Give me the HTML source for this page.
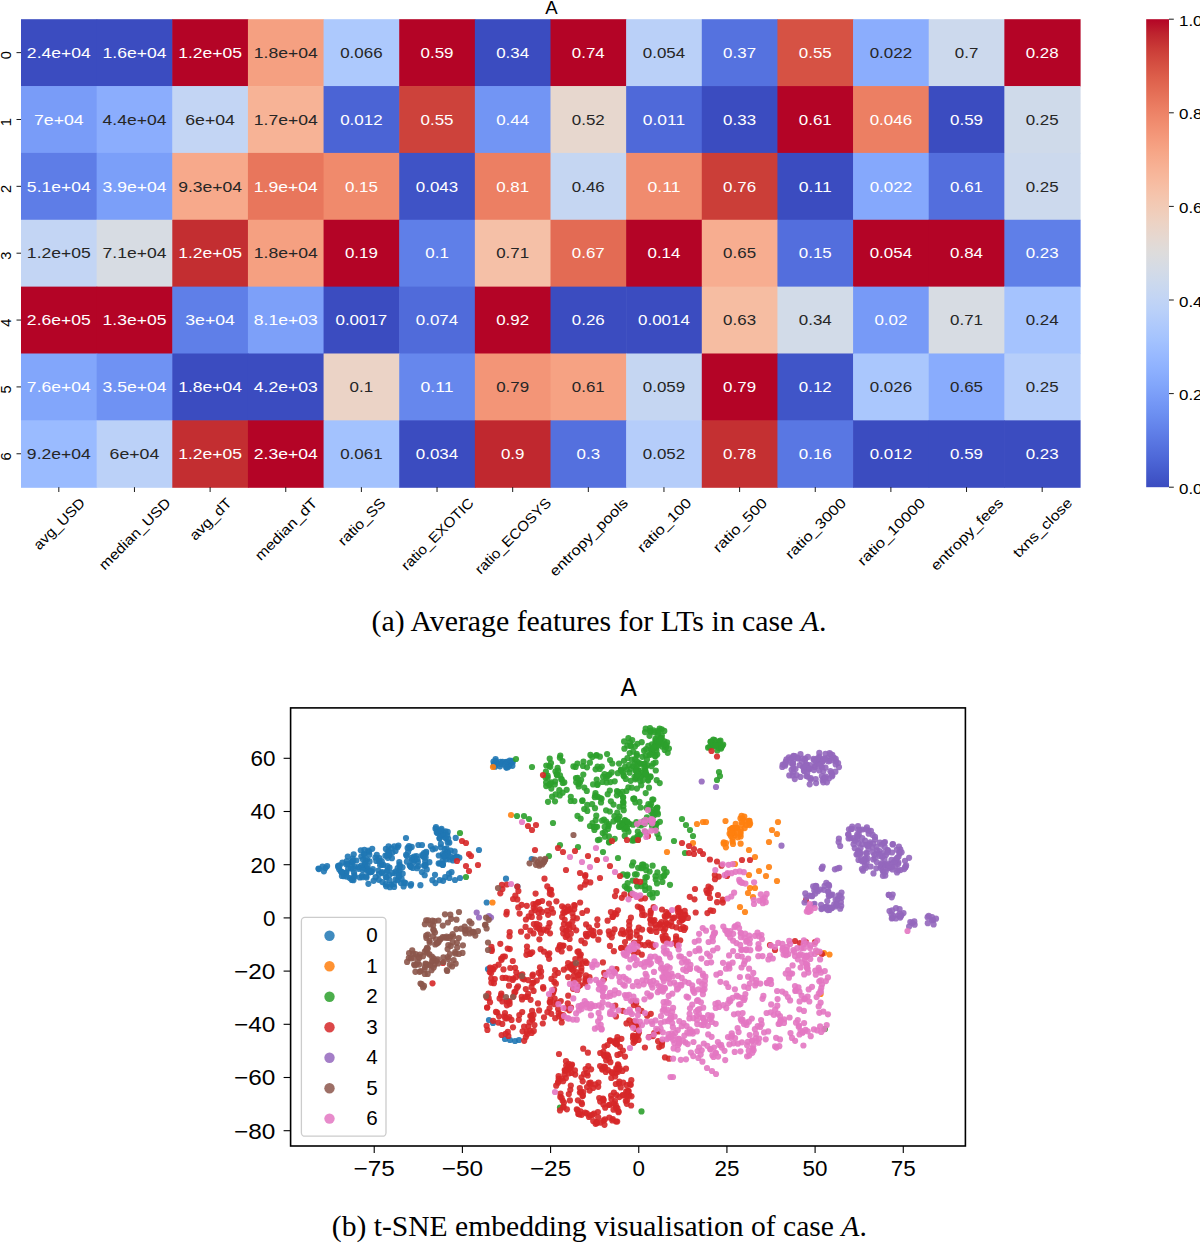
<!DOCTYPE html><html><head><meta charset="utf-8"><style>html,body{margin:0;padding:0;background:#fff;overflow:hidden}svg{display:block}text{font-family:"Liberation Sans",sans-serif}</style></head><body>
<svg width="1200" height="1243" viewBox="0 0 1200 1243">
<rect x="21.00" y="19.20" width="76.24" height="67.46" fill="#3b4cc0"/>
<rect x="96.64" y="19.20" width="76.24" height="67.46" fill="#3b4cc0"/>
<rect x="172.29" y="19.20" width="76.24" height="67.46" fill="#b40426"/>
<rect x="247.93" y="19.20" width="76.24" height="67.46" fill="#f5a081"/>
<rect x="323.57" y="19.20" width="76.24" height="67.46" fill="#adc9fd"/>
<rect x="399.21" y="19.20" width="76.24" height="67.46" fill="#b40426"/>
<rect x="474.86" y="19.20" width="76.24" height="67.46" fill="#3b4cc0"/>
<rect x="550.50" y="19.20" width="76.24" height="67.46" fill="#b40426"/>
<rect x="626.14" y="19.20" width="76.24" height="67.46" fill="#bad0f8"/>
<rect x="701.79" y="19.20" width="76.24" height="67.46" fill="#5572df"/>
<rect x="777.43" y="19.20" width="76.24" height="67.46" fill="#d65244"/>
<rect x="853.07" y="19.20" width="76.24" height="67.46" fill="#8badfd"/>
<rect x="928.71" y="19.20" width="76.24" height="67.46" fill="#ccd9ed"/>
<rect x="1004.36" y="19.20" width="76.24" height="67.46" fill="#b40426"/>
<rect x="21.00" y="86.06" width="76.24" height="67.46" fill="#799cf8"/>
<rect x="96.64" y="86.06" width="76.24" height="67.46" fill="#8badfd"/>
<rect x="172.29" y="86.06" width="76.24" height="67.46" fill="#c3d5f4"/>
<rect x="247.93" y="86.06" width="76.24" height="67.46" fill="#f7b396"/>
<rect x="323.57" y="86.06" width="76.24" height="67.46" fill="#4b64d5"/>
<rect x="399.21" y="86.06" width="76.24" height="67.46" fill="#cd423b"/>
<rect x="474.86" y="86.06" width="76.24" height="67.46" fill="#7295f4"/>
<rect x="550.50" y="86.06" width="76.24" height="67.46" fill="#e7d7ce"/>
<rect x="626.14" y="86.06" width="76.24" height="67.46" fill="#4f69d9"/>
<rect x="701.79" y="86.06" width="76.24" height="67.46" fill="#3b4cc0"/>
<rect x="777.43" y="86.06" width="76.24" height="67.46" fill="#b40426"/>
<rect x="853.07" y="86.06" width="76.24" height="67.46" fill="#ec7f63"/>
<rect x="928.71" y="86.06" width="76.24" height="67.46" fill="#3b4cc0"/>
<rect x="1004.36" y="86.06" width="76.24" height="67.46" fill="#cfdaea"/>
<rect x="21.00" y="152.91" width="76.24" height="67.46" fill="#5e7de7"/>
<rect x="96.64" y="152.91" width="76.24" height="67.46" fill="#7b9ff9"/>
<rect x="172.29" y="152.91" width="76.24" height="67.46" fill="#f7a98b"/>
<rect x="247.93" y="152.91" width="76.24" height="67.46" fill="#e8765c"/>
<rect x="323.57" y="152.91" width="76.24" height="67.46" fill="#f08a6c"/>
<rect x="399.21" y="152.91" width="76.24" height="67.46" fill="#3f53c6"/>
<rect x="474.86" y="152.91" width="76.24" height="67.46" fill="#ec7f63"/>
<rect x="550.50" y="152.91" width="76.24" height="67.46" fill="#c5d6f2"/>
<rect x="626.14" y="152.91" width="76.24" height="67.46" fill="#f08b6e"/>
<rect x="701.79" y="152.91" width="76.24" height="67.46" fill="#cb3e38"/>
<rect x="777.43" y="152.91" width="76.24" height="67.46" fill="#3b4cc0"/>
<rect x="853.07" y="152.91" width="76.24" height="67.46" fill="#85a8fc"/>
<rect x="928.71" y="152.91" width="76.24" height="67.46" fill="#536edd"/>
<rect x="1004.36" y="152.91" width="76.24" height="67.46" fill="#ccd9ed"/>
<rect x="21.00" y="219.77" width="76.24" height="67.46" fill="#c3d5f4"/>
<rect x="96.64" y="219.77" width="76.24" height="67.46" fill="#d7dce3"/>
<rect x="172.29" y="219.77" width="76.24" height="67.46" fill="#c32e31"/>
<rect x="247.93" y="219.77" width="76.24" height="67.46" fill="#f5a081"/>
<rect x="323.57" y="219.77" width="76.24" height="67.46" fill="#b40426"/>
<rect x="399.21" y="219.77" width="76.24" height="67.46" fill="#5f7fe8"/>
<rect x="474.86" y="219.77" width="76.24" height="67.46" fill="#f5c0a7"/>
<rect x="550.50" y="219.77" width="76.24" height="67.46" fill="#e36b54"/>
<rect x="626.14" y="219.77" width="76.24" height="67.46" fill="#b40426"/>
<rect x="701.79" y="219.77" width="76.24" height="67.46" fill="#f7ad90"/>
<rect x="777.43" y="219.77" width="76.24" height="67.46" fill="#536edd"/>
<rect x="853.07" y="219.77" width="76.24" height="67.46" fill="#b40426"/>
<rect x="928.71" y="219.77" width="76.24" height="67.46" fill="#b40426"/>
<rect x="1004.36" y="219.77" width="76.24" height="67.46" fill="#5f7fe8"/>
<rect x="21.00" y="286.63" width="76.24" height="67.46" fill="#b40426"/>
<rect x="96.64" y="286.63" width="76.24" height="67.46" fill="#b40426"/>
<rect x="172.29" y="286.63" width="76.24" height="67.46" fill="#5f7fe8"/>
<rect x="247.93" y="286.63" width="76.24" height="67.46" fill="#7da0f9"/>
<rect x="323.57" y="286.63" width="76.24" height="67.46" fill="#3b4cc0"/>
<rect x="399.21" y="286.63" width="76.24" height="67.46" fill="#506bda"/>
<rect x="474.86" y="286.63" width="76.24" height="67.46" fill="#b40426"/>
<rect x="550.50" y="286.63" width="76.24" height="67.46" fill="#3b4cc0"/>
<rect x="626.14" y="286.63" width="76.24" height="67.46" fill="#3b4cc0"/>
<rect x="701.79" y="286.63" width="76.24" height="67.46" fill="#f6bda2"/>
<rect x="777.43" y="286.63" width="76.24" height="67.46" fill="#d2dbe8"/>
<rect x="853.07" y="286.63" width="76.24" height="67.46" fill="#779af7"/>
<rect x="928.71" y="286.63" width="76.24" height="67.46" fill="#d7dce3"/>
<rect x="1004.36" y="286.63" width="76.24" height="67.46" fill="#a5c3fe"/>
<rect x="21.00" y="353.49" width="76.24" height="67.46" fill="#82a6fb"/>
<rect x="96.64" y="353.49" width="76.24" height="67.46" fill="#6f92f3"/>
<rect x="172.29" y="353.49" width="76.24" height="67.46" fill="#3b4cc0"/>
<rect x="247.93" y="353.49" width="76.24" height="67.46" fill="#3b4cc0"/>
<rect x="323.57" y="353.49" width="76.24" height="67.46" fill="#ebd3c6"/>
<rect x="399.21" y="353.49" width="76.24" height="67.46" fill="#6687ed"/>
<rect x="474.86" y="353.49" width="76.24" height="67.46" fill="#f39577"/>
<rect x="550.50" y="353.49" width="76.24" height="67.46" fill="#f6a283"/>
<rect x="626.14" y="353.49" width="76.24" height="67.46" fill="#c5d6f2"/>
<rect x="701.79" y="353.49" width="76.24" height="67.46" fill="#b40426"/>
<rect x="777.43" y="353.49" width="76.24" height="67.46" fill="#4055c8"/>
<rect x="853.07" y="353.49" width="76.24" height="67.46" fill="#aac7fd"/>
<rect x="928.71" y="353.49" width="76.24" height="67.46" fill="#89acfd"/>
<rect x="1004.36" y="353.49" width="76.24" height="67.46" fill="#b6cefa"/>
<rect x="21.00" y="420.34" width="76.24" height="67.46" fill="#9abbff"/>
<rect x="96.64" y="420.34" width="76.24" height="67.46" fill="#bbd1f8"/>
<rect x="172.29" y="420.34" width="76.24" height="67.46" fill="#c32e31"/>
<rect x="247.93" y="420.34" width="76.24" height="67.46" fill="#b40426"/>
<rect x="323.57" y="420.34" width="76.24" height="67.46" fill="#a3c2fe"/>
<rect x="399.21" y="420.34" width="76.24" height="67.46" fill="#3b4cc0"/>
<rect x="474.86" y="420.34" width="76.24" height="67.46" fill="#c0282f"/>
<rect x="550.50" y="420.34" width="76.24" height="67.46" fill="#5470de"/>
<rect x="626.14" y="420.34" width="76.24" height="67.46" fill="#b5cdfa"/>
<rect x="701.79" y="420.34" width="76.24" height="67.46" fill="#c43032"/>
<rect x="777.43" y="420.34" width="76.24" height="67.46" fill="#5977e3"/>
<rect x="853.07" y="420.34" width="76.24" height="67.46" fill="#3b4cc0"/>
<rect x="928.71" y="420.34" width="76.24" height="67.46" fill="#3b4cc0"/>
<rect x="1004.36" y="420.34" width="76.24" height="67.46" fill="#3b4cc0"/>
<text x="26.88" y="57.83" font-size="14.2" fill="#ffffff" textLength="63.88" lengthAdjust="spacingAndGlyphs">2.4e+04</text>
<text x="102.53" y="57.83" font-size="14.2" fill="#ffffff" textLength="63.88" lengthAdjust="spacingAndGlyphs">1.6e+04</text>
<text x="178.17" y="57.83" font-size="14.2" fill="#ffffff" textLength="63.88" lengthAdjust="spacingAndGlyphs">1.2e+05</text>
<text x="253.81" y="57.83" font-size="14.2" fill="#262626" textLength="63.88" lengthAdjust="spacingAndGlyphs">1.8e+04</text>
<text x="340.21" y="57.83" font-size="14.2" fill="#262626" textLength="42.37" lengthAdjust="spacingAndGlyphs">0.066</text>
<text x="420.56" y="57.83" font-size="14.2" fill="#ffffff" textLength="32.95" lengthAdjust="spacingAndGlyphs">0.59</text>
<text x="496.20" y="57.83" font-size="14.2" fill="#ffffff" textLength="32.95" lengthAdjust="spacingAndGlyphs">0.34</text>
<text x="571.84" y="57.83" font-size="14.2" fill="#ffffff" textLength="32.95" lengthAdjust="spacingAndGlyphs">0.74</text>
<text x="642.78" y="57.83" font-size="14.2" fill="#262626" textLength="42.37" lengthAdjust="spacingAndGlyphs">0.054</text>
<text x="723.13" y="57.83" font-size="14.2" fill="#ffffff" textLength="32.95" lengthAdjust="spacingAndGlyphs">0.37</text>
<text x="798.77" y="57.83" font-size="14.2" fill="#ffffff" textLength="32.95" lengthAdjust="spacingAndGlyphs">0.55</text>
<text x="869.71" y="57.83" font-size="14.2" fill="#262626" textLength="42.37" lengthAdjust="spacingAndGlyphs">0.022</text>
<text x="954.77" y="57.83" font-size="14.2" fill="#262626" textLength="23.54" lengthAdjust="spacingAndGlyphs">0.7</text>
<text x="1025.70" y="57.83" font-size="14.2" fill="#ffffff" textLength="32.95" lengthAdjust="spacingAndGlyphs">0.28</text>
<text x="33.94" y="124.69" font-size="14.2" fill="#ffffff" textLength="49.76" lengthAdjust="spacingAndGlyphs">7e+04</text>
<text x="102.53" y="124.69" font-size="14.2" fill="#262626" textLength="63.88" lengthAdjust="spacingAndGlyphs">4.4e+04</text>
<text x="185.23" y="124.69" font-size="14.2" fill="#262626" textLength="49.76" lengthAdjust="spacingAndGlyphs">6e+04</text>
<text x="253.81" y="124.69" font-size="14.2" fill="#262626" textLength="63.88" lengthAdjust="spacingAndGlyphs">1.7e+04</text>
<text x="340.21" y="124.69" font-size="14.2" fill="#ffffff" textLength="42.37" lengthAdjust="spacingAndGlyphs">0.012</text>
<text x="420.56" y="124.69" font-size="14.2" fill="#ffffff" textLength="32.95" lengthAdjust="spacingAndGlyphs">0.55</text>
<text x="496.20" y="124.69" font-size="14.2" fill="#ffffff" textLength="32.95" lengthAdjust="spacingAndGlyphs">0.44</text>
<text x="571.84" y="124.69" font-size="14.2" fill="#262626" textLength="32.95" lengthAdjust="spacingAndGlyphs">0.52</text>
<text x="642.78" y="124.69" font-size="14.2" fill="#ffffff" textLength="42.37" lengthAdjust="spacingAndGlyphs">0.011</text>
<text x="723.13" y="124.69" font-size="14.2" fill="#ffffff" textLength="32.95" lengthAdjust="spacingAndGlyphs">0.33</text>
<text x="798.77" y="124.69" font-size="14.2" fill="#ffffff" textLength="32.95" lengthAdjust="spacingAndGlyphs">0.61</text>
<text x="869.71" y="124.69" font-size="14.2" fill="#ffffff" textLength="42.37" lengthAdjust="spacingAndGlyphs">0.046</text>
<text x="950.06" y="124.69" font-size="14.2" fill="#ffffff" textLength="32.95" lengthAdjust="spacingAndGlyphs">0.59</text>
<text x="1025.70" y="124.69" font-size="14.2" fill="#262626" textLength="32.95" lengthAdjust="spacingAndGlyphs">0.25</text>
<text x="26.88" y="191.54" font-size="14.2" fill="#ffffff" textLength="63.88" lengthAdjust="spacingAndGlyphs">5.1e+04</text>
<text x="102.53" y="191.54" font-size="14.2" fill="#ffffff" textLength="63.88" lengthAdjust="spacingAndGlyphs">3.9e+04</text>
<text x="178.17" y="191.54" font-size="14.2" fill="#262626" textLength="63.88" lengthAdjust="spacingAndGlyphs">9.3e+04</text>
<text x="253.81" y="191.54" font-size="14.2" fill="#ffffff" textLength="63.88" lengthAdjust="spacingAndGlyphs">1.9e+04</text>
<text x="344.92" y="191.54" font-size="14.2" fill="#ffffff" textLength="32.95" lengthAdjust="spacingAndGlyphs">0.15</text>
<text x="415.85" y="191.54" font-size="14.2" fill="#ffffff" textLength="42.37" lengthAdjust="spacingAndGlyphs">0.043</text>
<text x="496.20" y="191.54" font-size="14.2" fill="#ffffff" textLength="32.95" lengthAdjust="spacingAndGlyphs">0.81</text>
<text x="571.84" y="191.54" font-size="14.2" fill="#262626" textLength="32.95" lengthAdjust="spacingAndGlyphs">0.46</text>
<text x="647.49" y="191.54" font-size="14.2" fill="#ffffff" textLength="32.95" lengthAdjust="spacingAndGlyphs">0.11</text>
<text x="723.13" y="191.54" font-size="14.2" fill="#ffffff" textLength="32.95" lengthAdjust="spacingAndGlyphs">0.76</text>
<text x="798.77" y="191.54" font-size="14.2" fill="#ffffff" textLength="32.95" lengthAdjust="spacingAndGlyphs">0.11</text>
<text x="869.71" y="191.54" font-size="14.2" fill="#ffffff" textLength="42.37" lengthAdjust="spacingAndGlyphs">0.022</text>
<text x="950.06" y="191.54" font-size="14.2" fill="#ffffff" textLength="32.95" lengthAdjust="spacingAndGlyphs">0.61</text>
<text x="1025.70" y="191.54" font-size="14.2" fill="#262626" textLength="32.95" lengthAdjust="spacingAndGlyphs">0.25</text>
<text x="26.88" y="258.40" font-size="14.2" fill="#262626" textLength="63.88" lengthAdjust="spacingAndGlyphs">1.2e+05</text>
<text x="102.53" y="258.40" font-size="14.2" fill="#262626" textLength="63.88" lengthAdjust="spacingAndGlyphs">7.1e+04</text>
<text x="178.17" y="258.40" font-size="14.2" fill="#ffffff" textLength="63.88" lengthAdjust="spacingAndGlyphs">1.2e+05</text>
<text x="253.81" y="258.40" font-size="14.2" fill="#262626" textLength="63.88" lengthAdjust="spacingAndGlyphs">1.8e+04</text>
<text x="344.92" y="258.40" font-size="14.2" fill="#ffffff" textLength="32.95" lengthAdjust="spacingAndGlyphs">0.19</text>
<text x="425.27" y="258.40" font-size="14.2" fill="#ffffff" textLength="23.54" lengthAdjust="spacingAndGlyphs">0.1</text>
<text x="496.20" y="258.40" font-size="14.2" fill="#262626" textLength="32.95" lengthAdjust="spacingAndGlyphs">0.71</text>
<text x="571.84" y="258.40" font-size="14.2" fill="#ffffff" textLength="32.95" lengthAdjust="spacingAndGlyphs">0.67</text>
<text x="647.49" y="258.40" font-size="14.2" fill="#ffffff" textLength="32.95" lengthAdjust="spacingAndGlyphs">0.14</text>
<text x="723.13" y="258.40" font-size="14.2" fill="#262626" textLength="32.95" lengthAdjust="spacingAndGlyphs">0.65</text>
<text x="798.77" y="258.40" font-size="14.2" fill="#ffffff" textLength="32.95" lengthAdjust="spacingAndGlyphs">0.15</text>
<text x="869.71" y="258.40" font-size="14.2" fill="#ffffff" textLength="42.37" lengthAdjust="spacingAndGlyphs">0.054</text>
<text x="950.06" y="258.40" font-size="14.2" fill="#ffffff" textLength="32.95" lengthAdjust="spacingAndGlyphs">0.84</text>
<text x="1025.70" y="258.40" font-size="14.2" fill="#ffffff" textLength="32.95" lengthAdjust="spacingAndGlyphs">0.23</text>
<text x="26.88" y="325.26" font-size="14.2" fill="#ffffff" textLength="63.88" lengthAdjust="spacingAndGlyphs">2.6e+05</text>
<text x="102.53" y="325.26" font-size="14.2" fill="#ffffff" textLength="63.88" lengthAdjust="spacingAndGlyphs">1.3e+05</text>
<text x="185.23" y="325.26" font-size="14.2" fill="#ffffff" textLength="49.76" lengthAdjust="spacingAndGlyphs">3e+04</text>
<text x="253.81" y="325.26" font-size="14.2" fill="#ffffff" textLength="63.88" lengthAdjust="spacingAndGlyphs">8.1e+03</text>
<text x="335.50" y="325.26" font-size="14.2" fill="#ffffff" textLength="51.79" lengthAdjust="spacingAndGlyphs">0.0017</text>
<text x="415.85" y="325.26" font-size="14.2" fill="#ffffff" textLength="42.37" lengthAdjust="spacingAndGlyphs">0.074</text>
<text x="496.20" y="325.26" font-size="14.2" fill="#ffffff" textLength="32.95" lengthAdjust="spacingAndGlyphs">0.92</text>
<text x="571.84" y="325.26" font-size="14.2" fill="#ffffff" textLength="32.95" lengthAdjust="spacingAndGlyphs">0.26</text>
<text x="638.07" y="325.26" font-size="14.2" fill="#ffffff" textLength="51.79" lengthAdjust="spacingAndGlyphs">0.0014</text>
<text x="723.13" y="325.26" font-size="14.2" fill="#262626" textLength="32.95" lengthAdjust="spacingAndGlyphs">0.63</text>
<text x="798.77" y="325.26" font-size="14.2" fill="#262626" textLength="32.95" lengthAdjust="spacingAndGlyphs">0.34</text>
<text x="874.42" y="325.26" font-size="14.2" fill="#ffffff" textLength="32.95" lengthAdjust="spacingAndGlyphs">0.02</text>
<text x="950.06" y="325.26" font-size="14.2" fill="#262626" textLength="32.95" lengthAdjust="spacingAndGlyphs">0.71</text>
<text x="1025.70" y="325.26" font-size="14.2" fill="#262626" textLength="32.95" lengthAdjust="spacingAndGlyphs">0.24</text>
<text x="26.88" y="392.11" font-size="14.2" fill="#ffffff" textLength="63.88" lengthAdjust="spacingAndGlyphs">7.6e+04</text>
<text x="102.53" y="392.11" font-size="14.2" fill="#ffffff" textLength="63.88" lengthAdjust="spacingAndGlyphs">3.5e+04</text>
<text x="178.17" y="392.11" font-size="14.2" fill="#ffffff" textLength="63.88" lengthAdjust="spacingAndGlyphs">1.8e+04</text>
<text x="253.81" y="392.11" font-size="14.2" fill="#ffffff" textLength="63.88" lengthAdjust="spacingAndGlyphs">4.2e+03</text>
<text x="349.62" y="392.11" font-size="14.2" fill="#262626" textLength="23.54" lengthAdjust="spacingAndGlyphs">0.1</text>
<text x="420.56" y="392.11" font-size="14.2" fill="#ffffff" textLength="32.95" lengthAdjust="spacingAndGlyphs">0.11</text>
<text x="496.20" y="392.11" font-size="14.2" fill="#262626" textLength="32.95" lengthAdjust="spacingAndGlyphs">0.79</text>
<text x="571.84" y="392.11" font-size="14.2" fill="#262626" textLength="32.95" lengthAdjust="spacingAndGlyphs">0.61</text>
<text x="642.78" y="392.11" font-size="14.2" fill="#262626" textLength="42.37" lengthAdjust="spacingAndGlyphs">0.059</text>
<text x="723.13" y="392.11" font-size="14.2" fill="#ffffff" textLength="32.95" lengthAdjust="spacingAndGlyphs">0.79</text>
<text x="798.77" y="392.11" font-size="14.2" fill="#ffffff" textLength="32.95" lengthAdjust="spacingAndGlyphs">0.12</text>
<text x="869.71" y="392.11" font-size="14.2" fill="#262626" textLength="42.37" lengthAdjust="spacingAndGlyphs">0.026</text>
<text x="950.06" y="392.11" font-size="14.2" fill="#262626" textLength="32.95" lengthAdjust="spacingAndGlyphs">0.65</text>
<text x="1025.70" y="392.11" font-size="14.2" fill="#262626" textLength="32.95" lengthAdjust="spacingAndGlyphs">0.25</text>
<text x="26.88" y="458.97" font-size="14.2" fill="#262626" textLength="63.88" lengthAdjust="spacingAndGlyphs">9.2e+04</text>
<text x="109.59" y="458.97" font-size="14.2" fill="#262626" textLength="49.76" lengthAdjust="spacingAndGlyphs">6e+04</text>
<text x="178.17" y="458.97" font-size="14.2" fill="#ffffff" textLength="63.88" lengthAdjust="spacingAndGlyphs">1.2e+05</text>
<text x="253.81" y="458.97" font-size="14.2" fill="#ffffff" textLength="63.88" lengthAdjust="spacingAndGlyphs">2.3e+04</text>
<text x="340.21" y="458.97" font-size="14.2" fill="#262626" textLength="42.37" lengthAdjust="spacingAndGlyphs">0.061</text>
<text x="415.85" y="458.97" font-size="14.2" fill="#ffffff" textLength="42.37" lengthAdjust="spacingAndGlyphs">0.034</text>
<text x="500.91" y="458.97" font-size="14.2" fill="#ffffff" textLength="23.54" lengthAdjust="spacingAndGlyphs">0.9</text>
<text x="576.55" y="458.97" font-size="14.2" fill="#ffffff" textLength="23.54" lengthAdjust="spacingAndGlyphs">0.3</text>
<text x="642.78" y="458.97" font-size="14.2" fill="#262626" textLength="42.37" lengthAdjust="spacingAndGlyphs">0.052</text>
<text x="723.13" y="458.97" font-size="14.2" fill="#ffffff" textLength="32.95" lengthAdjust="spacingAndGlyphs">0.78</text>
<text x="798.77" y="458.97" font-size="14.2" fill="#ffffff" textLength="32.95" lengthAdjust="spacingAndGlyphs">0.16</text>
<text x="869.71" y="458.97" font-size="14.2" fill="#ffffff" textLength="42.37" lengthAdjust="spacingAndGlyphs">0.012</text>
<text x="950.06" y="458.97" font-size="14.2" fill="#ffffff" textLength="32.95" lengthAdjust="spacingAndGlyphs">0.59</text>
<text x="1025.70" y="458.97" font-size="14.2" fill="#ffffff" textLength="32.95" lengthAdjust="spacingAndGlyphs">0.23</text>
<text x="545.2" y="13.8" font-size="18.6" textLength="12.4" lengthAdjust="spacingAndGlyphs">A</text>
<line x1="16.50" y1="52.63" x2="21.00" y2="52.63" stroke="#000" stroke-width="0.9"/>
<text x="0" y="0" font-size="14.6" text-anchor="middle" transform="translate(11.40,55.23) rotate(-90)">0</text>
<line x1="16.50" y1="119.49" x2="21.00" y2="119.49" stroke="#000" stroke-width="0.9"/>
<text x="0" y="0" font-size="14.6" text-anchor="middle" transform="translate(11.40,122.09) rotate(-90)">1</text>
<line x1="16.50" y1="186.34" x2="21.00" y2="186.34" stroke="#000" stroke-width="0.9"/>
<text x="0" y="0" font-size="14.6" text-anchor="middle" transform="translate(11.40,188.94) rotate(-90)">2</text>
<line x1="16.50" y1="253.20" x2="21.00" y2="253.20" stroke="#000" stroke-width="0.9"/>
<text x="0" y="0" font-size="14.6" text-anchor="middle" transform="translate(11.40,255.80) rotate(-90)">3</text>
<line x1="16.50" y1="320.06" x2="21.00" y2="320.06" stroke="#000" stroke-width="0.9"/>
<text x="0" y="0" font-size="14.6" text-anchor="middle" transform="translate(11.40,322.66) rotate(-90)">4</text>
<line x1="16.50" y1="386.91" x2="21.00" y2="386.91" stroke="#000" stroke-width="0.9"/>
<text x="0" y="0" font-size="14.6" text-anchor="middle" transform="translate(11.40,389.51) rotate(-90)">5</text>
<line x1="16.50" y1="453.77" x2="21.00" y2="453.77" stroke="#000" stroke-width="0.9"/>
<text x="0" y="0" font-size="14.6" text-anchor="middle" transform="translate(11.40,456.37) rotate(-90)">6</text>
<line x1="58.82" y1="487.20" x2="58.82" y2="492.00" stroke="#000" stroke-width="0.9"/>
<text x="-33.12" y="5.33" font-size="14.2" textLength="66.25" lengthAdjust="spacingAndGlyphs" transform="translate(58.82,523.49) rotate(-45)">avg_USD</text>
<line x1="134.46" y1="487.20" x2="134.46" y2="492.00" stroke="#000" stroke-width="0.9"/>
<text x="-47.25" y="5.33" font-size="14.2" textLength="94.50" lengthAdjust="spacingAndGlyphs" transform="translate(134.46,533.48) rotate(-45)">median_USD</text>
<line x1="210.11" y1="487.20" x2="210.11" y2="492.00" stroke="#000" stroke-width="0.9"/>
<text x="-26.53" y="5.33" font-size="14.2" textLength="53.06" lengthAdjust="spacingAndGlyphs" transform="translate(210.11,518.83) rotate(-45)">avg_dT</text>
<line x1="285.75" y1="487.20" x2="285.75" y2="492.00" stroke="#000" stroke-width="0.9"/>
<text x="-40.66" y="5.33" font-size="14.2" textLength="81.31" lengthAdjust="spacingAndGlyphs" transform="translate(285.75,528.82) rotate(-45)">median_dT</text>
<line x1="361.39" y1="487.20" x2="361.39" y2="492.00" stroke="#000" stroke-width="0.9"/>
<text x="-30.16" y="5.33" font-size="14.2" textLength="60.31" lengthAdjust="spacingAndGlyphs" transform="translate(361.39,521.39) rotate(-45)">ratio_SS</text>
<line x1="437.04" y1="487.20" x2="437.04" y2="492.00" stroke="#000" stroke-width="0.9"/>
<text x="-47.73" y="5.33" font-size="14.2" textLength="95.46" lengthAdjust="spacingAndGlyphs" transform="translate(437.04,533.82) rotate(-45)">ratio_EXOTIC</text>
<line x1="512.68" y1="487.20" x2="512.68" y2="492.00" stroke="#000" stroke-width="0.9"/>
<text x="-50.34" y="5.33" font-size="14.2" textLength="100.69" lengthAdjust="spacingAndGlyphs" transform="translate(512.68,535.67) rotate(-45)">ratio_ECOSYS</text>
<line x1="588.32" y1="487.20" x2="588.32" y2="492.00" stroke="#000" stroke-width="0.9"/>
<text x="-51.99" y="5.33" font-size="14.2" textLength="103.98" lengthAdjust="spacingAndGlyphs" transform="translate(588.32,536.83) rotate(-45)">entropy_pools</text>
<line x1="663.96" y1="487.20" x2="663.96" y2="492.00" stroke="#000" stroke-width="0.9"/>
<text x="-34.89" y="5.33" font-size="14.2" textLength="69.77" lengthAdjust="spacingAndGlyphs" transform="translate(663.96,524.74) rotate(-45)">ratio_100</text>
<line x1="739.61" y1="487.20" x2="739.61" y2="492.00" stroke="#000" stroke-width="0.9"/>
<text x="-34.89" y="5.33" font-size="14.2" textLength="69.77" lengthAdjust="spacingAndGlyphs" transform="translate(739.61,524.74) rotate(-45)">ratio_500</text>
<line x1="815.25" y1="487.20" x2="815.25" y2="492.00" stroke="#000" stroke-width="0.9"/>
<text x="-39.60" y="5.33" font-size="14.2" textLength="79.19" lengthAdjust="spacingAndGlyphs" transform="translate(815.25,528.07) rotate(-45)">ratio_3000</text>
<line x1="890.89" y1="487.20" x2="890.89" y2="492.00" stroke="#000" stroke-width="0.9"/>
<text x="-44.30" y="5.33" font-size="14.2" textLength="88.61" lengthAdjust="spacingAndGlyphs" transform="translate(890.89,531.40) rotate(-45)">ratio_10000</text>
<line x1="966.54" y1="487.20" x2="966.54" y2="492.00" stroke="#000" stroke-width="0.9"/>
<text x="-47.89" y="5.33" font-size="14.2" textLength="95.79" lengthAdjust="spacingAndGlyphs" transform="translate(966.54,533.94) rotate(-45)">entropy_fees</text>
<line x1="1042.18" y1="487.20" x2="1042.18" y2="492.00" stroke="#000" stroke-width="0.9"/>
<text x="-38.59" y="5.33" font-size="14.2" textLength="77.17" lengthAdjust="spacingAndGlyphs" transform="translate(1042.18,527.35) rotate(-45)">txns_close</text>
<defs><linearGradient id="cb" x1="0" y1="1" x2="0" y2="0">
<stop offset="0.0000" stop-color="#3b4cc0"/>
<stop offset="0.0312" stop-color="#445acc"/>
<stop offset="0.0625" stop-color="#4e68d8"/>
<stop offset="0.0938" stop-color="#5875e1"/>
<stop offset="0.1250" stop-color="#6282ea"/>
<stop offset="0.1562" stop-color="#6c8ff1"/>
<stop offset="0.1875" stop-color="#779af7"/>
<stop offset="0.2188" stop-color="#82a6fb"/>
<stop offset="0.2500" stop-color="#8db0fe"/>
<stop offset="0.2812" stop-color="#98b9ff"/>
<stop offset="0.3125" stop-color="#a3c2fe"/>
<stop offset="0.3438" stop-color="#aec9fc"/>
<stop offset="0.3750" stop-color="#b9d0f9"/>
<stop offset="0.4062" stop-color="#c3d5f4"/>
<stop offset="0.4375" stop-color="#ccd9ed"/>
<stop offset="0.4688" stop-color="#d5dbe5"/>
<stop offset="0.5000" stop-color="#dddcdc"/>
<stop offset="0.5312" stop-color="#e5d8d1"/>
<stop offset="0.5625" stop-color="#ecd3c5"/>
<stop offset="0.5938" stop-color="#f1ccb8"/>
<stop offset="0.6250" stop-color="#f5c4ac"/>
<stop offset="0.6562" stop-color="#f7ba9f"/>
<stop offset="0.6875" stop-color="#f7b093"/>
<stop offset="0.7188" stop-color="#f6a586"/>
<stop offset="0.7500" stop-color="#f4987a"/>
<stop offset="0.7812" stop-color="#f08b6e"/>
<stop offset="0.8125" stop-color="#eb7d62"/>
<stop offset="0.8438" stop-color="#e46e56"/>
<stop offset="0.8750" stop-color="#dd5f4b"/>
<stop offset="0.9062" stop-color="#d44e41"/>
<stop offset="0.9375" stop-color="#ca3b37"/>
<stop offset="0.9688" stop-color="#be242e"/>
<stop offset="1.0000" stop-color="#b40426"/>
</linearGradient></defs>
<rect x="1146.2" y="19.2" width="22.80" height="468.00" fill="url(#cb)"/>
<line x1="1169.00" y1="487.20" x2="1173.80" y2="487.20" stroke="#000" stroke-width="0.9"/>
<text x="1179.0" y="493.80" font-size="14.2" textLength="23.54" lengthAdjust="spacingAndGlyphs">0.0</text>
<line x1="1169.00" y1="393.60" x2="1173.80" y2="393.60" stroke="#000" stroke-width="0.9"/>
<text x="1179.0" y="400.20" font-size="14.2" textLength="23.54" lengthAdjust="spacingAndGlyphs">0.2</text>
<line x1="1169.00" y1="300.00" x2="1173.80" y2="300.00" stroke="#000" stroke-width="0.9"/>
<text x="1179.0" y="306.60" font-size="14.2" textLength="23.54" lengthAdjust="spacingAndGlyphs">0.4</text>
<line x1="1169.00" y1="206.40" x2="1173.80" y2="206.40" stroke="#000" stroke-width="0.9"/>
<text x="1179.0" y="213.00" font-size="14.2" textLength="23.54" lengthAdjust="spacingAndGlyphs">0.6</text>
<line x1="1169.00" y1="112.80" x2="1173.80" y2="112.80" stroke="#000" stroke-width="0.9"/>
<text x="1179.0" y="119.40" font-size="14.2" textLength="23.54" lengthAdjust="spacingAndGlyphs">0.8</text>
<line x1="1169.00" y1="19.20" x2="1173.80" y2="19.20" stroke="#000" stroke-width="0.9"/>
<text x="1179.0" y="25.80" font-size="14.2" textLength="23.54" lengthAdjust="spacingAndGlyphs">1.0</text>
<text x="371.5" y="630.7" font-family="Liberation Serif, serif" style="font-family:'Liberation Serif',serif" font-size="29.6" textLength="455" lengthAdjust="spacingAndGlyphs">(a) Average features for LTs in case <tspan font-style="italic">A</tspan>.</text>
<text x="620.6" y="695.6" font-size="25.6" textLength="16.3" lengthAdjust="spacingAndGlyphs">A</text>
<line x1="283.60" y1="758.30" x2="290.60" y2="758.30" stroke="#000" stroke-width="1.1"/>
<text x="275.40" y="766.10" font-size="21.6" text-anchor="end" textLength="24.94" lengthAdjust="spacingAndGlyphs">60</text>
<line x1="283.60" y1="811.50" x2="290.60" y2="811.50" stroke="#000" stroke-width="1.1"/>
<text x="275.40" y="819.30" font-size="21.6" text-anchor="end" textLength="24.94" lengthAdjust="spacingAndGlyphs">40</text>
<line x1="283.60" y1="864.70" x2="290.60" y2="864.70" stroke="#000" stroke-width="1.1"/>
<text x="275.40" y="872.50" font-size="21.6" text-anchor="end" textLength="24.94" lengthAdjust="spacingAndGlyphs">20</text>
<line x1="283.60" y1="917.90" x2="290.60" y2="917.90" stroke="#000" stroke-width="1.1"/>
<text x="275.40" y="925.70" font-size="21.6" text-anchor="end" textLength="12.47" lengthAdjust="spacingAndGlyphs">0</text>
<line x1="283.60" y1="971.10" x2="290.60" y2="971.10" stroke="#000" stroke-width="1.1"/>
<text x="275.40" y="978.90" font-size="21.6" text-anchor="end" textLength="41.36" lengthAdjust="spacingAndGlyphs">−20</text>
<line x1="283.60" y1="1024.30" x2="290.60" y2="1024.30" stroke="#000" stroke-width="1.1"/>
<text x="275.40" y="1032.10" font-size="21.6" text-anchor="end" textLength="41.36" lengthAdjust="spacingAndGlyphs">−40</text>
<line x1="283.60" y1="1077.50" x2="290.60" y2="1077.50" stroke="#000" stroke-width="1.1"/>
<text x="275.40" y="1085.30" font-size="21.6" text-anchor="end" textLength="41.36" lengthAdjust="spacingAndGlyphs">−60</text>
<line x1="283.60" y1="1130.70" x2="290.60" y2="1130.70" stroke="#000" stroke-width="1.1"/>
<text x="275.40" y="1138.50" font-size="21.6" text-anchor="end" textLength="41.36" lengthAdjust="spacingAndGlyphs">−80</text>
<line x1="374.22" y1="1146.00" x2="374.22" y2="1153.00" stroke="#000" stroke-width="1.1"/>
<text x="374.22" y="1175.80" font-size="21.6" text-anchor="middle" textLength="41.36" lengthAdjust="spacingAndGlyphs">−75</text>
<line x1="462.40" y1="1146.00" x2="462.40" y2="1153.00" stroke="#000" stroke-width="1.1"/>
<text x="462.40" y="1175.80" font-size="21.6" text-anchor="middle" textLength="41.36" lengthAdjust="spacingAndGlyphs">−50</text>
<line x1="550.58" y1="1146.00" x2="550.58" y2="1153.00" stroke="#000" stroke-width="1.1"/>
<text x="550.58" y="1175.80" font-size="21.6" text-anchor="middle" textLength="41.36" lengthAdjust="spacingAndGlyphs">−25</text>
<line x1="638.75" y1="1146.00" x2="638.75" y2="1153.00" stroke="#000" stroke-width="1.1"/>
<text x="638.75" y="1175.80" font-size="21.6" text-anchor="middle" textLength="12.47" lengthAdjust="spacingAndGlyphs">0</text>
<line x1="726.92" y1="1146.00" x2="726.92" y2="1153.00" stroke="#000" stroke-width="1.1"/>
<text x="726.92" y="1175.80" font-size="21.6" text-anchor="middle" textLength="24.94" lengthAdjust="spacingAndGlyphs">25</text>
<line x1="815.10" y1="1146.00" x2="815.10" y2="1153.00" stroke="#000" stroke-width="1.1"/>
<text x="815.10" y="1175.80" font-size="21.6" text-anchor="middle" textLength="24.94" lengthAdjust="spacingAndGlyphs">50</text>
<line x1="903.28" y1="1146.00" x2="903.28" y2="1153.00" stroke="#000" stroke-width="1.1"/>
<text x="903.28" y="1175.80" font-size="21.6" text-anchor="middle" textLength="24.94" lengthAdjust="spacingAndGlyphs">75</text>
<g>
<g fill="#1f77b4" fill-opacity="0.9">
<circle cx="322.5" cy="866.6" r="3.1"/>
<circle cx="327.1" cy="866.0" r="3.1"/>
<circle cx="325.5" cy="868.1" r="3.1"/>
<circle cx="318.8" cy="869.1" r="3.1"/>
<circle cx="318.5" cy="868.5" r="3.1"/>
<circle cx="323.9" cy="871.3" r="3.1"/>
<circle cx="410.7" cy="885.6" r="3.1"/>
<circle cx="351.8" cy="861.9" r="3.1"/>
<circle cx="402.7" cy="873.7" r="3.1"/>
<circle cx="412.0" cy="859.8" r="3.1"/>
<circle cx="409.7" cy="865.3" r="3.1"/>
<circle cx="413.0" cy="862.8" r="3.1"/>
<circle cx="391.4" cy="884.6" r="3.1"/>
<circle cx="365.0" cy="868.8" r="3.1"/>
<circle cx="364.6" cy="864.7" r="3.1"/>
<circle cx="422.8" cy="856.0" r="3.1"/>
<circle cx="385.8" cy="877.1" r="3.1"/>
<circle cx="386.2" cy="886.3" r="3.1"/>
<circle cx="404.2" cy="882.4" r="3.1"/>
<circle cx="403.6" cy="886.5" r="3.1"/>
<circle cx="430.8" cy="846.1" r="3.1"/>
<circle cx="392.4" cy="872.9" r="3.1"/>
<circle cx="372.8" cy="869.0" r="3.1"/>
<circle cx="369.9" cy="872.0" r="3.1"/>
<circle cx="381.9" cy="873.1" r="3.1"/>
<circle cx="378.3" cy="870.5" r="3.1"/>
<circle cx="382.2" cy="872.2" r="3.1"/>
<circle cx="365.5" cy="860.6" r="3.1"/>
<circle cx="369.6" cy="861.4" r="3.1"/>
<circle cx="389.5" cy="867.7" r="3.1"/>
<circle cx="438.8" cy="855.5" r="3.1"/>
<circle cx="442.8" cy="854.2" r="3.1"/>
<circle cx="354.0" cy="872.6" r="3.1"/>
<circle cx="406.1" cy="854.8" r="3.1"/>
<circle cx="399.6" cy="870.4" r="3.1"/>
<circle cx="402.5" cy="867.3" r="3.1"/>
<circle cx="418.2" cy="866.2" r="3.1"/>
<circle cx="417.0" cy="868.2" r="3.1"/>
<circle cx="412.8" cy="868.0" r="3.1"/>
<circle cx="360.8" cy="850.3" r="3.1"/>
<circle cx="348.2" cy="868.5" r="3.1"/>
<circle cx="409.0" cy="846.2" r="3.1"/>
<circle cx="353.7" cy="854.4" r="3.1"/>
<circle cx="394.1" cy="887.0" r="3.1"/>
<circle cx="389.9" cy="887.2" r="3.1"/>
<circle cx="376.8" cy="854.9" r="3.1"/>
<circle cx="379.0" cy="874.1" r="3.1"/>
<circle cx="371.5" cy="871.9" r="3.1"/>
<circle cx="367.1" cy="859.5" r="3.1"/>
<circle cx="362.5" cy="867.4" r="3.1"/>
<circle cx="358.3" cy="867.1" r="3.1"/>
<circle cx="426.2" cy="851.8" r="3.1"/>
<circle cx="424.0" cy="853.2" r="3.1"/>
<circle cx="424.2" cy="857.4" r="3.1"/>
<circle cx="369.3" cy="854.7" r="3.1"/>
<circle cx="368.2" cy="850.6" r="3.1"/>
<circle cx="449.6" cy="859.4" r="3.1"/>
<circle cx="391.9" cy="858.2" r="3.1"/>
<circle cx="387.8" cy="857.8" r="3.1"/>
<circle cx="443.1" cy="880.8" r="3.1"/>
<circle cx="445.2" cy="877.2" r="3.1"/>
<circle cx="435.3" cy="848.4" r="3.1"/>
<circle cx="425.3" cy="864.5" r="3.1"/>
<circle cx="411.7" cy="846.9" r="3.1"/>
<circle cx="407.6" cy="847.9" r="3.1"/>
<circle cx="339.3" cy="869.6" r="3.1"/>
<circle cx="339.7" cy="865.4" r="3.1"/>
<circle cx="353.4" cy="880.2" r="3.1"/>
<circle cx="349.8" cy="878.0" r="3.1"/>
<circle cx="451.5" cy="872.2" r="3.1"/>
<circle cx="439.7" cy="880.2" r="3.1"/>
<circle cx="361.3" cy="865.6" r="3.1"/>
<circle cx="358.7" cy="868.8" r="3.1"/>
<circle cx="385.9" cy="848.9" r="3.1"/>
<circle cx="397.5" cy="880.2" r="3.1"/>
<circle cx="388.4" cy="851.2" r="3.1"/>
<circle cx="409.7" cy="848.4" r="3.1"/>
<circle cx="397.7" cy="868.0" r="3.1"/>
<circle cx="408.1" cy="852.0" r="3.1"/>
<circle cx="406.8" cy="855.9" r="3.1"/>
<circle cx="399.5" cy="864.5" r="3.1"/>
<circle cx="366.9" cy="868.2" r="3.1"/>
<circle cx="388.6" cy="846.3" r="3.1"/>
<circle cx="361.3" cy="856.6" r="3.1"/>
<circle cx="354.4" cy="875.2" r="3.1"/>
<circle cx="352.4" cy="878.9" r="3.1"/>
<circle cx="383.4" cy="864.9" r="3.1"/>
<circle cx="387.4" cy="866.2" r="3.1"/>
<circle cx="387.3" cy="870.4" r="3.1"/>
<circle cx="379.5" cy="858.2" r="3.1"/>
<circle cx="375.4" cy="857.5" r="3.1"/>
<circle cx="410.2" cy="866.1" r="3.1"/>
<circle cx="445.3" cy="853.3" r="3.1"/>
<circle cx="368.4" cy="883.8" r="3.1"/>
<circle cx="351.4" cy="862.0" r="3.1"/>
<circle cx="347.8" cy="864.1" r="3.1"/>
<circle cx="399.9" cy="866.2" r="3.1"/>
<circle cx="399.3" cy="862.0" r="3.1"/>
<circle cx="417.9" cy="862.1" r="3.1"/>
<circle cx="367.0" cy="870.4" r="3.1"/>
<circle cx="438.7" cy="863.4" r="3.1"/>
<circle cx="442.9" cy="863.7" r="3.1"/>
<circle cx="385.7" cy="884.2" r="3.1"/>
<circle cx="420.4" cy="885.2" r="3.1"/>
<circle cx="410.8" cy="866.9" r="3.1"/>
<circle cx="395.5" cy="851.0" r="3.1"/>
<circle cx="397.5" cy="847.3" r="3.1"/>
<circle cx="338.2" cy="865.8" r="3.1"/>
<circle cx="365.2" cy="863.1" r="3.1"/>
<circle cx="362.9" cy="859.6" r="3.1"/>
<circle cx="401.0" cy="883.0" r="3.1"/>
<circle cx="401.6" cy="878.8" r="3.1"/>
<circle cx="435.0" cy="874.8" r="3.1"/>
<circle cx="424.2" cy="854.5" r="3.1"/>
<circle cx="415.2" cy="860.1" r="3.1"/>
<circle cx="411.6" cy="857.9" r="3.1"/>
<circle cx="418.4" cy="845.0" r="3.1"/>
<circle cx="389.1" cy="854.8" r="3.1"/>
<circle cx="392.5" cy="852.5" r="3.1"/>
<circle cx="450.9" cy="856.9" r="3.1"/>
<circle cx="453.1" cy="860.5" r="3.1"/>
<circle cx="369.2" cy="872.5" r="3.1"/>
<circle cx="346.7" cy="861.0" r="3.1"/>
<circle cx="371.7" cy="871.3" r="3.1"/>
<circle cx="399.0" cy="876.8" r="3.1"/>
<circle cx="398.8" cy="872.6" r="3.1"/>
<circle cx="369.8" cy="870.8" r="3.1"/>
<circle cx="435.4" cy="883.1" r="3.1"/>
<circle cx="432.4" cy="880.2" r="3.1"/>
<circle cx="432.7" cy="849.3" r="3.1"/>
<circle cx="405.5" cy="883.2" r="3.1"/>
<circle cx="341.0" cy="871.7" r="3.1"/>
<circle cx="338.2" cy="866.9" r="3.1"/>
<circle cx="425.0" cy="865.6" r="3.1"/>
<circle cx="343.9" cy="876.2" r="3.1"/>
<circle cx="346.3" cy="872.7" r="3.1"/>
<circle cx="426.0" cy="853.4" r="3.1"/>
<circle cx="422.1" cy="855.0" r="3.1"/>
<circle cx="381.5" cy="864.6" r="3.1"/>
<circle cx="379.4" cy="860.9" r="3.1"/>
<circle cx="366.2" cy="876.4" r="3.1"/>
<circle cx="362.1" cy="875.7" r="3.1"/>
<circle cx="351.9" cy="864.7" r="3.1"/>
<circle cx="353.2" cy="868.7" r="3.1"/>
<circle cx="416.4" cy="856.1" r="3.1"/>
<circle cx="414.3" cy="859.7" r="3.1"/>
<circle cx="391.5" cy="848.3" r="3.1"/>
<circle cx="346.2" cy="864.3" r="3.1"/>
<circle cx="342.4" cy="862.6" r="3.1"/>
<circle cx="389.5" cy="855.1" r="3.1"/>
<circle cx="346.7" cy="876.6" r="3.1"/>
<circle cx="346.1" cy="872.5" r="3.1"/>
<circle cx="351.8" cy="879.9" r="3.1"/>
<circle cx="354.6" cy="876.8" r="3.1"/>
<circle cx="442.8" cy="864.9" r="3.1"/>
<circle cx="449.0" cy="873.7" r="3.1"/>
<circle cx="449.4" cy="877.9" r="3.1"/>
<circle cx="352.7" cy="858.5" r="3.1"/>
<circle cx="356.4" cy="860.5" r="3.1"/>
<circle cx="376.3" cy="860.9" r="3.1"/>
<circle cx="443.3" cy="856.0" r="3.1"/>
<circle cx="446.0" cy="859.3" r="3.1"/>
<circle cx="382.4" cy="882.1" r="3.1"/>
<circle cx="386.9" cy="855.4" r="3.1"/>
<circle cx="342.1" cy="872.8" r="3.1"/>
<circle cx="367.6" cy="866.0" r="3.1"/>
<circle cx="429.4" cy="862.2" r="3.1"/>
<circle cx="411.1" cy="884.1" r="3.1"/>
<circle cx="341.9" cy="876.0" r="3.1"/>
<circle cx="341.6" cy="871.8" r="3.1"/>
<circle cx="393.8" cy="884.0" r="3.1"/>
<circle cx="385.4" cy="855.7" r="3.1"/>
<circle cx="388.5" cy="852.9" r="3.1"/>
<circle cx="414.1" cy="856.5" r="3.1"/>
<circle cx="417.5" cy="858.9" r="3.1"/>
<circle cx="395.6" cy="879.5" r="3.1"/>
<circle cx="375.6" cy="877.2" r="3.1"/>
<circle cx="378.8" cy="879.8" r="3.1"/>
<circle cx="364.5" cy="854.6" r="3.1"/>
<circle cx="425.2" cy="861.6" r="3.1"/>
<circle cx="425.6" cy="857.4" r="3.1"/>
<circle cx="425.5" cy="865.4" r="3.1"/>
<circle cx="426.8" cy="869.4" r="3.1"/>
<circle cx="395.9" cy="871.3" r="3.1"/>
<circle cx="442.7" cy="860.3" r="3.1"/>
<circle cx="439.9" cy="863.5" r="3.1"/>
<circle cx="386.6" cy="877.4" r="3.1"/>
<circle cx="389.5" cy="880.4" r="3.1"/>
<circle cx="394.3" cy="846.3" r="3.1"/>
<circle cx="398.4" cy="845.6" r="3.1"/>
<circle cx="354.4" cy="866.5" r="3.1"/>
<circle cx="421.9" cy="872.1" r="3.1"/>
<circle cx="424.7" cy="875.2" r="3.1"/>
<circle cx="351.0" cy="868.6" r="3.1"/>
<circle cx="372.2" cy="848.8" r="3.1"/>
<circle cx="369.1" cy="851.7" r="3.1"/>
<circle cx="347.8" cy="856.5" r="3.1"/>
<circle cx="362.6" cy="870.0" r="3.1"/>
<circle cx="373.6" cy="880.8" r="3.1"/>
<circle cx="363.9" cy="854.1" r="3.1"/>
<circle cx="364.4" cy="849.9" r="3.1"/>
<circle cx="395.3" cy="873.4" r="3.1"/>
<circle cx="398.8" cy="875.7" r="3.1"/>
<circle cx="380.1" cy="865.2" r="3.1"/>
<circle cx="381.8" cy="861.4" r="3.1"/>
<circle cx="379.1" cy="860.8" r="3.1"/>
<circle cx="424.0" cy="865.7" r="3.1"/>
<circle cx="359.8" cy="877.5" r="3.1"/>
<circle cx="362.4" cy="877.2" r="3.1"/>
<circle cx="366.5" cy="877.6" r="3.1"/>
<circle cx="442.7" cy="864.8" r="3.1"/>
<circle cx="353.4" cy="860.7" r="3.1"/>
<circle cx="406.9" cy="861.7" r="3.1"/>
<circle cx="389.5" cy="875.0" r="3.1"/>
<circle cx="386.8" cy="871.8" r="3.1"/>
<circle cx="443.5" cy="832.3" r="3.1"/>
<circle cx="447.7" cy="831.9" r="3.1"/>
<circle cx="445.0" cy="837.3" r="3.1"/>
<circle cx="435.5" cy="828.7" r="3.1"/>
<circle cx="439.6" cy="838.1" r="3.1"/>
<circle cx="440.8" cy="834.1" r="3.1"/>
<circle cx="448.2" cy="838.7" r="3.1"/>
<circle cx="449.3" cy="842.7" r="3.1"/>
<circle cx="444.7" cy="856.5" r="3.1"/>
<circle cx="440.9" cy="847.3" r="3.1"/>
<circle cx="444.7" cy="849.2" r="3.1"/>
<circle cx="456.9" cy="856.6" r="3.1"/>
<circle cx="455.1" cy="857.4" r="3.1"/>
<circle cx="459.3" cy="857.7" r="3.1"/>
<circle cx="453.3" cy="858.1" r="3.1"/>
<circle cx="447.9" cy="852.4" r="3.1"/>
<circle cx="446.6" cy="848.4" r="3.1"/>
<circle cx="447.7" cy="852.7" r="3.1"/>
<circle cx="445.5" cy="831.4" r="3.1"/>
<circle cx="447.2" cy="835.3" r="3.1"/>
<circle cx="441.5" cy="828.9" r="3.1"/>
<circle cx="438.5" cy="830.5" r="3.1"/>
<circle cx="436.0" cy="827.2" r="3.1"/>
<circle cx="454.6" cy="851.4" r="3.1"/>
<circle cx="442.4" cy="835.5" r="3.1"/>
<circle cx="439.6" cy="838.6" r="3.1"/>
<circle cx="440.9" cy="834.3" r="3.1"/>
<circle cx="440.9" cy="843.9" r="3.1"/>
<circle cx="448.2" cy="853.8" r="3.1"/>
<circle cx="450.7" cy="850.5" r="3.1"/>
<circle cx="436.8" cy="832.4" r="3.1"/>
<circle cx="444.9" cy="855.4" r="3.1"/>
<circle cx="455.7" cy="837.9" r="3.1"/>
<circle cx="437.5" cy="832.9" r="3.1"/>
<circle cx="440.9" cy="830.4" r="3.1"/>
<circle cx="456.4" cy="857.1" r="3.1"/>
<circle cx="446.1" cy="838.6" r="3.1"/>
<circle cx="447.7" cy="842.5" r="3.1"/>
<circle cx="502.6" cy="761.9" r="3.1"/>
<circle cx="509.5" cy="765.0" r="3.1"/>
<circle cx="495.4" cy="763.4" r="3.1"/>
<circle cx="506.4" cy="761.8" r="3.1"/>
<circle cx="506.7" cy="762.0" r="3.1"/>
<circle cx="511.4" cy="762.0" r="3.1"/>
<circle cx="509.6" cy="764.7" r="3.1"/>
<circle cx="500.6" cy="761.9" r="3.1"/>
<circle cx="512.7" cy="762.2" r="3.1"/>
<circle cx="494.0" cy="763.9" r="3.1"/>
<circle cx="500.0" cy="766.3" r="3.1"/>
<circle cx="495.1" cy="766.7" r="3.1"/>
<circle cx="500.7" cy="763.9" r="3.1"/>
<circle cx="512.4" cy="765.8" r="3.1"/>
<circle cx="495.8" cy="761.2" r="3.1"/>
<circle cx="495.6" cy="759.1" r="3.1"/>
<circle cx="493.5" cy="761.6" r="3.1"/>
<circle cx="508.6" cy="766.5" r="3.1"/>
<circle cx="509.7" cy="760.6" r="3.1"/>
<circle cx="512.1" cy="760.8" r="3.1"/>
<circle cx="505.4" cy="764.6" r="3.1"/>
<circle cx="493.9" cy="765.5" r="3.1"/>
<circle cx="507.1" cy="767.7" r="3.1"/>
<circle cx="506.1" cy="767.3" r="3.1"/>
<circle cx="406.0" cy="838.0" r="3.1"/>
<circle cx="422.0" cy="845.0" r="3.1"/>
<circle cx="479.0" cy="850.0" r="3.1"/>
<circle cx="460.0" cy="878.0" r="3.1"/>
<circle cx="455.0" cy="880.0" r="3.1"/>
<circle cx="486.7" cy="902.5" r="3.1"/>
<circle cx="506.0" cy="878.7" r="3.1"/>
<circle cx="517.5" cy="886.7" r="3.1"/>
<circle cx="488.0" cy="969.0" r="3.1"/>
<circle cx="489.0" cy="1020.0" r="3.1"/>
<circle cx="493.0" cy="1023.0" r="3.1"/>
<circle cx="505.0" cy="1039.0" r="3.1"/>
<circle cx="510.0" cy="1040.0" r="3.1"/>
<circle cx="515.0" cy="1041.0" r="3.1"/>
<circle cx="519.0" cy="1040.0" r="3.1"/>
<circle cx="531.7" cy="859.0" r="3.1"/>
</g>
<g fill="#ff7f0e" fill-opacity="0.9">
<circle cx="740.6" cy="836.5" r="3.1"/>
<circle cx="734.0" cy="833.1" r="3.1"/>
<circle cx="730.9" cy="836.0" r="3.1"/>
<circle cx="746.5" cy="821.7" r="3.1"/>
<circle cx="731.7" cy="828.6" r="3.1"/>
<circle cx="734.6" cy="835.4" r="3.1"/>
<circle cx="732.6" cy="839.1" r="3.1"/>
<circle cx="733.0" cy="832.6" r="3.1"/>
<circle cx="740.6" cy="832.1" r="3.1"/>
<circle cx="740.6" cy="843.7" r="3.1"/>
<circle cx="732.8" cy="827.8" r="3.1"/>
<circle cx="725.9" cy="847.3" r="3.1"/>
<circle cx="726.0" cy="843.1" r="3.1"/>
<circle cx="737.1" cy="828.2" r="3.1"/>
<circle cx="742.8" cy="818.8" r="3.1"/>
<circle cx="749.5" cy="820.8" r="3.1"/>
<circle cx="732.5" cy="841.5" r="3.1"/>
<circle cx="735.7" cy="823.9" r="3.1"/>
<circle cx="737.0" cy="827.9" r="3.1"/>
<circle cx="748.9" cy="820.9" r="3.1"/>
<circle cx="749.4" cy="825.1" r="3.1"/>
<circle cx="737.9" cy="837.3" r="3.1"/>
<circle cx="740.5" cy="834.0" r="3.1"/>
<circle cx="729.6" cy="833.7" r="3.1"/>
<circle cx="730.1" cy="829.6" r="3.1"/>
<circle cx="733.1" cy="828.2" r="3.1"/>
<circle cx="744.3" cy="816.7" r="3.1"/>
<circle cx="740.5" cy="818.4" r="3.1"/>
<circle cx="740.8" cy="829.6" r="3.1"/>
<circle cx="744.7" cy="828.1" r="3.1"/>
<circle cx="741.6" cy="815.8" r="3.1"/>
<circle cx="731.1" cy="833.3" r="3.1"/>
<circle cx="733.0" cy="844.0" r="3.1"/>
<circle cx="750.1" cy="823.5" r="3.1"/>
<circle cx="742.0" cy="824.4" r="3.1"/>
<circle cx="746.1" cy="824.9" r="3.1"/>
<circle cx="723.7" cy="843.7" r="3.1"/>
<circle cx="737.5" cy="832.2" r="3.1"/>
<circle cx="723.8" cy="842.3" r="3.1"/>
<circle cx="741.7" cy="821.9" r="3.1"/>
<circle cx="703.0" cy="822.0" r="3.1"/>
<circle cx="706.0" cy="822.0" r="3.1"/>
<circle cx="725.5" cy="821.0" r="3.1"/>
<circle cx="778.0" cy="822.0" r="3.1"/>
<circle cx="772.0" cy="830.0" r="3.1"/>
<circle cx="777.0" cy="834.0" r="3.1"/>
<circle cx="769.0" cy="842.0" r="3.1"/>
<circle cx="749.0" cy="850.0" r="3.1"/>
<circle cx="755.0" cy="857.0" r="3.1"/>
<circle cx="735.0" cy="864.0" r="3.1"/>
<circle cx="769.0" cy="867.0" r="3.1"/>
<circle cx="759.0" cy="871.0" r="3.1"/>
<circle cx="749.0" cy="875.0" r="3.1"/>
<circle cx="766.0" cy="876.0" r="3.1"/>
<circle cx="777.0" cy="881.0" r="3.1"/>
<circle cx="750.0" cy="888.0" r="3.1"/>
<circle cx="755.0" cy="888.0" r="3.1"/>
<circle cx="493.0" cy="767.0" r="3.1"/>
<circle cx="511.0" cy="815.0" r="3.1"/>
<circle cx="492.5" cy="902.5" r="3.1"/>
<circle cx="697.0" cy="824.0" r="3.1"/>
<circle cx="667.0" cy="852.0" r="3.1"/>
<circle cx="693.0" cy="843.0" r="3.1"/>
<circle cx="740.0" cy="907.0" r="3.1"/>
<circle cx="745.0" cy="912.0" r="3.1"/>
<circle cx="817.5" cy="952.0" r="3.1"/>
<circle cx="824.0" cy="953.0" r="3.1"/>
<circle cx="829.5" cy="954.5" r="3.1"/>
<circle cx="820.6" cy="994.0" r="3.1"/>
<circle cx="753.0" cy="897.0" r="3.1"/>
<circle cx="748.0" cy="893.0" r="3.1"/>
</g>
<g fill="#2ca02c" fill-opacity="0.9">
<circle cx="660.8" cy="742.7" r="3.1"/>
<circle cx="660.9" cy="738.5" r="3.1"/>
<circle cx="649.5" cy="735.8" r="3.1"/>
<circle cx="650.3" cy="731.7" r="3.1"/>
<circle cx="657.4" cy="743.8" r="3.1"/>
<circle cx="659.6" cy="740.3" r="3.1"/>
<circle cx="664.4" cy="741.3" r="3.1"/>
<circle cx="664.4" cy="745.5" r="3.1"/>
<circle cx="661.7" cy="729.3" r="3.1"/>
<circle cx="651.9" cy="744.4" r="3.1"/>
<circle cx="655.4" cy="742.1" r="3.1"/>
<circle cx="658.2" cy="730.9" r="3.1"/>
<circle cx="650.3" cy="730.6" r="3.1"/>
<circle cx="654.1" cy="732.2" r="3.1"/>
<circle cx="655.1" cy="746.0" r="3.1"/>
<circle cx="656.6" cy="742.1" r="3.1"/>
<circle cx="657.2" cy="754.4" r="3.1"/>
<circle cx="656.4" cy="750.4" r="3.1"/>
<circle cx="654.6" cy="746.5" r="3.1"/>
<circle cx="655.2" cy="745.5" r="3.1"/>
<circle cx="645.7" cy="728.7" r="3.1"/>
<circle cx="646.1" cy="749.2" r="3.1"/>
<circle cx="660.4" cy="737.7" r="3.1"/>
<circle cx="664.7" cy="749.9" r="3.1"/>
<circle cx="667.7" cy="752.8" r="3.1"/>
<circle cx="666.1" cy="747.2" r="3.1"/>
<circle cx="662.0" cy="746.6" r="3.1"/>
<circle cx="661.8" cy="735.3" r="3.1"/>
<circle cx="657.6" cy="735.4" r="3.1"/>
<circle cx="652.3" cy="750.1" r="3.1"/>
<circle cx="656.0" cy="748.0" r="3.1"/>
<circle cx="665.0" cy="746.1" r="3.1"/>
<circle cx="667.1" cy="742.4" r="3.1"/>
<circle cx="655.7" cy="740.3" r="3.1"/>
<circle cx="663.3" cy="743.8" r="3.1"/>
<circle cx="666.5" cy="745.1" r="3.1"/>
<circle cx="668.9" cy="748.6" r="3.1"/>
<circle cx="645.0" cy="732.1" r="3.1"/>
<circle cx="657.8" cy="742.2" r="3.1"/>
<circle cx="658.4" cy="745.2" r="3.1"/>
<circle cx="650.6" cy="749.5" r="3.1"/>
<circle cx="659.6" cy="728.7" r="3.1"/>
<circle cx="658.4" cy="732.7" r="3.1"/>
<circle cx="655.4" cy="738.8" r="3.1"/>
<circle cx="661.8" cy="738.0" r="3.1"/>
<circle cx="659.2" cy="741.3" r="3.1"/>
<circle cx="654.9" cy="755.9" r="3.1"/>
<circle cx="648.3" cy="745.8" r="3.1"/>
<circle cx="653.5" cy="730.4" r="3.1"/>
<circle cx="650.0" cy="728.0" r="3.1"/>
<circle cx="664.3" cy="730.9" r="3.1"/>
<circle cx="653.7" cy="747.5" r="3.1"/>
<circle cx="630.7" cy="769.0" r="3.1"/>
<circle cx="644.1" cy="750.7" r="3.1"/>
<circle cx="635.4" cy="779.3" r="3.1"/>
<circle cx="636.7" cy="775.3" r="3.1"/>
<circle cx="637.4" cy="743.8" r="3.1"/>
<circle cx="655.4" cy="755.9" r="3.1"/>
<circle cx="651.6" cy="766.2" r="3.1"/>
<circle cx="647.6" cy="765.0" r="3.1"/>
<circle cx="636.2" cy="768.3" r="3.1"/>
<circle cx="637.5" cy="764.4" r="3.1"/>
<circle cx="643.5" cy="764.1" r="3.1"/>
<circle cx="646.1" cy="774.5" r="3.1"/>
<circle cx="645.7" cy="755.4" r="3.1"/>
<circle cx="647.0" cy="759.4" r="3.1"/>
<circle cx="629.7" cy="753.0" r="3.1"/>
<circle cx="636.9" cy="755.5" r="3.1"/>
<circle cx="635.0" cy="759.2" r="3.1"/>
<circle cx="646.4" cy="774.3" r="3.1"/>
<circle cx="645.0" cy="770.3" r="3.1"/>
<circle cx="641.7" cy="742.2" r="3.1"/>
<circle cx="624.0" cy="760.9" r="3.1"/>
<circle cx="640.5" cy="763.8" r="3.1"/>
<circle cx="637.0" cy="761.4" r="3.1"/>
<circle cx="636.4" cy="777.7" r="3.1"/>
<circle cx="627.4" cy="758.1" r="3.1"/>
<circle cx="644.6" cy="763.7" r="3.1"/>
<circle cx="644.3" cy="767.9" r="3.1"/>
<circle cx="636.7" cy="753.9" r="3.1"/>
<circle cx="633.2" cy="751.7" r="3.1"/>
<circle cx="624.4" cy="748.7" r="3.1"/>
<circle cx="627.3" cy="745.7" r="3.1"/>
<circle cx="652.1" cy="752.6" r="3.1"/>
<circle cx="645.7" cy="767.4" r="3.1"/>
<circle cx="645.6" cy="771.8" r="3.1"/>
<circle cx="641.5" cy="773.0" r="3.1"/>
<circle cx="631.8" cy="759.7" r="3.1"/>
<circle cx="638.8" cy="770.3" r="3.1"/>
<circle cx="635.0" cy="746.4" r="3.1"/>
<circle cx="630.9" cy="746.2" r="3.1"/>
<circle cx="652.0" cy="751.1" r="3.1"/>
<circle cx="649.7" cy="754.7" r="3.1"/>
<circle cx="639.4" cy="763.1" r="3.1"/>
<circle cx="634.5" cy="776.8" r="3.1"/>
<circle cx="653.3" cy="763.5" r="3.1"/>
<circle cx="628.4" cy="738.2" r="3.1"/>
<circle cx="632.2" cy="740.0" r="3.1"/>
<circle cx="624.1" cy="741.4" r="3.1"/>
<circle cx="638.1" cy="770.3" r="3.1"/>
<circle cx="655.6" cy="762.4" r="3.1"/>
<circle cx="655.8" cy="770.5" r="3.1"/>
<circle cx="649.7" cy="754.7" r="3.1"/>
<circle cx="630.6" cy="745.5" r="3.1"/>
<circle cx="642.3" cy="756.8" r="3.1"/>
<circle cx="629.9" cy="742.4" r="3.1"/>
<circle cx="632.8" cy="766.3" r="3.1"/>
<circle cx="628.9" cy="764.9" r="3.1"/>
<circle cx="636.8" cy="778.2" r="3.1"/>
<circle cx="634.4" cy="764.1" r="3.1"/>
<circle cx="633.0" cy="824.7" r="3.1"/>
<circle cx="636.4" cy="822.2" r="3.1"/>
<circle cx="593.1" cy="784.4" r="3.1"/>
<circle cx="648.2" cy="780.6" r="3.1"/>
<circle cx="650.5" cy="777.0" r="3.1"/>
<circle cx="622.1" cy="823.2" r="3.1"/>
<circle cx="620.1" cy="826.9" r="3.1"/>
<circle cx="645.3" cy="774.8" r="3.1"/>
<circle cx="641.2" cy="775.9" r="3.1"/>
<circle cx="617.8" cy="773.2" r="3.1"/>
<circle cx="620.9" cy="770.3" r="3.1"/>
<circle cx="603.1" cy="776.7" r="3.1"/>
<circle cx="607.3" cy="776.4" r="3.1"/>
<circle cx="659.7" cy="783.1" r="3.1"/>
<circle cx="656.7" cy="780.2" r="3.1"/>
<circle cx="653.3" cy="799.5" r="3.1"/>
<circle cx="652.3" cy="799.7" r="3.1"/>
<circle cx="634.2" cy="798.5" r="3.1"/>
<circle cx="631.7" cy="787.7" r="3.1"/>
<circle cx="590.4" cy="754.9" r="3.1"/>
<circle cx="630.7" cy="780.8" r="3.1"/>
<circle cx="622.8" cy="772.1" r="3.1"/>
<circle cx="623.8" cy="776.2" r="3.1"/>
<circle cx="623.1" cy="797.1" r="3.1"/>
<circle cx="619.4" cy="816.3" r="3.1"/>
<circle cx="617.3" cy="812.7" r="3.1"/>
<circle cx="576.2" cy="782.2" r="3.1"/>
<circle cx="610.1" cy="760.0" r="3.1"/>
<circle cx="612.3" cy="763.5" r="3.1"/>
<circle cx="636.1" cy="770.9" r="3.1"/>
<circle cx="606.1" cy="810.3" r="3.1"/>
<circle cx="582.2" cy="801.0" r="3.1"/>
<circle cx="657.0" cy="807.9" r="3.1"/>
<circle cx="650.1" cy="805.6" r="3.1"/>
<circle cx="601.6" cy="798.8" r="3.1"/>
<circle cx="597.9" cy="796.8" r="3.1"/>
<circle cx="636.9" cy="788.6" r="3.1"/>
<circle cx="642.8" cy="780.3" r="3.1"/>
<circle cx="610.5" cy="782.1" r="3.1"/>
<circle cx="614.7" cy="781.3" r="3.1"/>
<circle cx="599.9" cy="756.7" r="3.1"/>
<circle cx="624.7" cy="828.2" r="3.1"/>
<circle cx="633.2" cy="798.9" r="3.1"/>
<circle cx="597.4" cy="785.0" r="3.1"/>
<circle cx="657.9" cy="814.2" r="3.1"/>
<circle cx="653.9" cy="815.5" r="3.1"/>
<circle cx="638.8" cy="824.7" r="3.1"/>
<circle cx="579.9" cy="782.8" r="3.1"/>
<circle cx="607.7" cy="794.2" r="3.1"/>
<circle cx="609.8" cy="790.5" r="3.1"/>
<circle cx="594.8" cy="797.2" r="3.1"/>
<circle cx="595.5" cy="793.1" r="3.1"/>
<circle cx="625.1" cy="766.8" r="3.1"/>
<circle cx="643.5" cy="774.6" r="3.1"/>
<circle cx="640.3" cy="777.3" r="3.1"/>
<circle cx="619.0" cy="763.6" r="3.1"/>
<circle cx="616.9" cy="819.6" r="3.1"/>
<circle cx="614.4" cy="816.2" r="3.1"/>
<circle cx="625.8" cy="778.9" r="3.1"/>
<circle cx="623.1" cy="797.8" r="3.1"/>
<circle cx="641.2" cy="785.2" r="3.1"/>
<circle cx="640.3" cy="781.1" r="3.1"/>
<circle cx="596.6" cy="755.0" r="3.1"/>
<circle cx="607.1" cy="754.1" r="3.1"/>
<circle cx="649.0" cy="787.7" r="3.1"/>
<circle cx="629.4" cy="823.9" r="3.1"/>
<circle cx="623.0" cy="802.0" r="3.1"/>
<circle cx="623.3" cy="806.2" r="3.1"/>
<circle cx="595.0" cy="808.2" r="3.1"/>
<circle cx="596.7" cy="779.5" r="3.1"/>
<circle cx="635.3" cy="802.4" r="3.1"/>
<circle cx="639.5" cy="801.9" r="3.1"/>
<circle cx="587.3" cy="810.9" r="3.1"/>
<circle cx="600.4" cy="798.1" r="3.1"/>
<circle cx="606.6" cy="782.4" r="3.1"/>
<circle cx="602.4" cy="782.0" r="3.1"/>
<circle cx="587.2" cy="804.9" r="3.1"/>
<circle cx="652.6" cy="814.3" r="3.1"/>
<circle cx="648.7" cy="821.3" r="3.1"/>
<circle cx="656.4" cy="824.2" r="3.1"/>
<circle cx="659.9" cy="821.8" r="3.1"/>
<circle cx="628.4" cy="787.3" r="3.1"/>
<circle cx="626.4" cy="791.0" r="3.1"/>
<circle cx="606.1" cy="777.9" r="3.1"/>
<circle cx="613.4" cy="821.4" r="3.1"/>
<circle cx="617.0" cy="819.3" r="3.1"/>
<circle cx="597.6" cy="784.1" r="3.1"/>
<circle cx="623.5" cy="775.1" r="3.1"/>
<circle cx="584.3" cy="787.6" r="3.1"/>
<circle cx="586.8" cy="790.9" r="3.1"/>
<circle cx="651.1" cy="804.1" r="3.1"/>
<circle cx="611.7" cy="772.4" r="3.1"/>
<circle cx="583.3" cy="774.6" r="3.1"/>
<circle cx="636.8" cy="774.9" r="3.1"/>
<circle cx="618.2" cy="791.8" r="3.1"/>
<circle cx="622.4" cy="791.8" r="3.1"/>
<circle cx="645.7" cy="793.1" r="3.1"/>
<circle cx="578.4" cy="783.9" r="3.1"/>
<circle cx="640.5" cy="807.5" r="3.1"/>
<circle cx="645.5" cy="821.4" r="3.1"/>
<circle cx="646.9" cy="817.4" r="3.1"/>
<circle cx="589.9" cy="762.7" r="3.1"/>
<circle cx="592.2" cy="757.1" r="3.1"/>
<circle cx="596.1" cy="755.6" r="3.1"/>
<circle cx="604.5" cy="774.0" r="3.1"/>
<circle cx="608.7" cy="774.8" r="3.1"/>
<circle cx="609.8" cy="811.5" r="3.1"/>
<circle cx="597.6" cy="766.5" r="3.1"/>
<circle cx="601.8" cy="766.5" r="3.1"/>
<circle cx="647.9" cy="779.8" r="3.1"/>
<circle cx="650.4" cy="776.4" r="3.1"/>
<circle cx="581.1" cy="779.8" r="3.1"/>
<circle cx="648.6" cy="777.0" r="3.1"/>
<circle cx="645.9" cy="773.8" r="3.1"/>
<circle cx="584.2" cy="809.0" r="3.1"/>
<circle cx="620.1" cy="793.9" r="3.1"/>
<circle cx="582.5" cy="800.3" r="3.1"/>
<circle cx="596.3" cy="815.7" r="3.1"/>
<circle cx="653.7" cy="809.6" r="3.1"/>
<circle cx="657.4" cy="807.5" r="3.1"/>
<circle cx="619.4" cy="806.8" r="3.1"/>
<circle cx="583.0" cy="766.0" r="3.1"/>
<circle cx="587.0" cy="767.3" r="3.1"/>
<circle cx="617.0" cy="791.1" r="3.1"/>
<circle cx="616.9" cy="795.3" r="3.1"/>
<circle cx="621.0" cy="769.7" r="3.1"/>
<circle cx="623.7" cy="810.2" r="3.1"/>
<circle cx="634.0" cy="798.6" r="3.1"/>
<circle cx="655.0" cy="812.6" r="3.1"/>
<circle cx="650.9" cy="811.6" r="3.1"/>
<circle cx="646.3" cy="807.8" r="3.1"/>
<circle cx="648.4" cy="804.2" r="3.1"/>
<circle cx="619.0" cy="826.7" r="3.1"/>
<circle cx="610.9" cy="801.3" r="3.1"/>
<circle cx="613.5" cy="804.6" r="3.1"/>
<circle cx="592.1" cy="804.2" r="3.1"/>
<circle cx="657.4" cy="812.6" r="3.1"/>
<circle cx="656.4" cy="808.5" r="3.1"/>
<circle cx="643.8" cy="821.0" r="3.1"/>
<circle cx="629.5" cy="772.7" r="3.1"/>
<circle cx="626.8" cy="769.5" r="3.1"/>
<circle cx="583.5" cy="761.5" r="3.1"/>
<circle cx="601.0" cy="802.5" r="3.1"/>
<circle cx="656.5" cy="823.8" r="3.1"/>
<circle cx="625.2" cy="824.7" r="3.1"/>
<circle cx="627.0" cy="828.5" r="3.1"/>
<circle cx="609.6" cy="774.5" r="3.1"/>
<circle cx="637.9" cy="774.4" r="3.1"/>
<circle cx="635.9" cy="770.7" r="3.1"/>
<circle cx="623.5" cy="802.7" r="3.1"/>
<circle cx="606.2" cy="821.6" r="3.1"/>
<circle cx="602.1" cy="820.7" r="3.1"/>
<circle cx="595.6" cy="769.3" r="3.1"/>
<circle cx="599.8" cy="768.9" r="3.1"/>
<circle cx="608.7" cy="824.1" r="3.1"/>
<circle cx="595.3" cy="795.4" r="3.1"/>
<circle cx="575.6" cy="766.9" r="3.1"/>
<circle cx="549.7" cy="758.7" r="3.1"/>
<circle cx="559.8" cy="795.4" r="3.1"/>
<circle cx="577.6" cy="777.9" r="3.1"/>
<circle cx="551.3" cy="788.6" r="3.1"/>
<circle cx="549.2" cy="785.0" r="3.1"/>
<circle cx="570.8" cy="796.8" r="3.1"/>
<circle cx="570.7" cy="801.0" r="3.1"/>
<circle cx="566.7" cy="789.8" r="3.1"/>
<circle cx="547.7" cy="777.6" r="3.1"/>
<circle cx="578.7" cy="786.5" r="3.1"/>
<circle cx="548.0" cy="801.8" r="3.1"/>
<circle cx="556.7" cy="774.4" r="3.1"/>
<circle cx="558.1" cy="770.5" r="3.1"/>
<circle cx="554.8" cy="784.5" r="3.1"/>
<circle cx="557.6" cy="767.8" r="3.1"/>
<circle cx="555.5" cy="771.4" r="3.1"/>
<circle cx="574.4" cy="801.1" r="3.1"/>
<circle cx="564.3" cy="782.4" r="3.1"/>
<circle cx="561.5" cy="779.3" r="3.1"/>
<circle cx="562.6" cy="792.7" r="3.1"/>
<circle cx="559.3" cy="790.2" r="3.1"/>
<circle cx="560.3" cy="755.6" r="3.1"/>
<circle cx="547.6" cy="775.6" r="3.1"/>
<circle cx="545.9" cy="771.7" r="3.1"/>
<circle cx="577.4" cy="763.5" r="3.1"/>
<circle cx="561.5" cy="779.2" r="3.1"/>
<circle cx="560.0" cy="775.3" r="3.1"/>
<circle cx="557.1" cy="775.2" r="3.1"/>
<circle cx="562.5" cy="761.1" r="3.1"/>
<circle cx="559.9" cy="757.7" r="3.1"/>
<circle cx="576.0" cy="778.1" r="3.1"/>
<circle cx="573.4" cy="766.4" r="3.1"/>
<circle cx="546.2" cy="786.1" r="3.1"/>
<circle cx="545.5" cy="777.6" r="3.1"/>
<circle cx="555.0" cy="801.3" r="3.1"/>
<circle cx="551.1" cy="782.4" r="3.1"/>
<circle cx="555.2" cy="781.4" r="3.1"/>
<circle cx="549.2" cy="765.9" r="3.1"/>
<circle cx="562.7" cy="783.0" r="3.1"/>
<circle cx="550.1" cy="783.7" r="3.1"/>
<circle cx="546.1" cy="782.6" r="3.1"/>
<circle cx="555.6" cy="794.4" r="3.1"/>
<circle cx="552.1" cy="796.7" r="3.1"/>
<circle cx="546.3" cy="765.5" r="3.1"/>
<circle cx="550.3" cy="766.8" r="3.1"/>
<circle cx="593.7" cy="826.9" r="3.1"/>
<circle cx="627.7" cy="822.5" r="3.1"/>
<circle cx="624.9" cy="820.2" r="3.1"/>
<circle cx="644.4" cy="824.1" r="3.1"/>
<circle cx="595.6" cy="826.7" r="3.1"/>
<circle cx="608.9" cy="836.4" r="3.1"/>
<circle cx="595.7" cy="820.2" r="3.1"/>
<circle cx="592.5" cy="823.0" r="3.1"/>
<circle cx="608.7" cy="825.9" r="3.1"/>
<circle cx="604.6" cy="826.9" r="3.1"/>
<circle cx="580.6" cy="818.7" r="3.1"/>
<circle cx="577.5" cy="815.9" r="3.1"/>
<circle cx="607.9" cy="829.0" r="3.1"/>
<circle cx="605.0" cy="832.0" r="3.1"/>
<circle cx="604.0" cy="819.7" r="3.1"/>
<circle cx="597.9" cy="840.1" r="3.1"/>
<circle cx="614.7" cy="838.8" r="3.1"/>
<circle cx="605.0" cy="836.7" r="3.1"/>
<circle cx="602.7" cy="833.1" r="3.1"/>
<circle cx="624.4" cy="823.9" r="3.1"/>
<circle cx="620.2" cy="823.4" r="3.1"/>
<circle cx="624.9" cy="826.0" r="3.1"/>
<circle cx="618.4" cy="818.8" r="3.1"/>
<circle cx="637.6" cy="837.9" r="3.1"/>
<circle cx="623.3" cy="824.3" r="3.1"/>
<circle cx="624.9" cy="820.5" r="3.1"/>
<circle cx="634.0" cy="838.3" r="3.1"/>
<circle cx="622.8" cy="825.8" r="3.1"/>
<circle cx="624.4" cy="829.7" r="3.1"/>
<circle cx="599.5" cy="839.5" r="3.1"/>
<circle cx="609.3" cy="842.3" r="3.1"/>
<circle cx="590.0" cy="826.0" r="3.1"/>
<circle cx="594.0" cy="827.1" r="3.1"/>
<circle cx="609.0" cy="842.2" r="3.1"/>
<circle cx="637.4" cy="836.4" r="3.1"/>
<circle cx="626.7" cy="827.9" r="3.1"/>
<circle cx="628.5" cy="831.7" r="3.1"/>
<circle cx="637.8" cy="831.6" r="3.1"/>
<circle cx="594.4" cy="829.9" r="3.1"/>
<circle cx="597.1" cy="826.8" r="3.1"/>
<circle cx="639.9" cy="834.7" r="3.1"/>
<circle cx="624.7" cy="835.9" r="3.1"/>
<circle cx="641.1" cy="825.4" r="3.1"/>
<circle cx="627.3" cy="821.6" r="3.1"/>
<circle cx="655.7" cy="828.3" r="3.1"/>
<circle cx="652.1" cy="826.2" r="3.1"/>
<circle cx="637.8" cy="839.9" r="3.1"/>
<circle cx="633.6" cy="840.4" r="3.1"/>
<circle cx="632.2" cy="840.4" r="3.1"/>
<circle cx="645.1" cy="831.8" r="3.1"/>
<circle cx="657.4" cy="834.1" r="3.1"/>
<circle cx="658.9" cy="838.0" r="3.1"/>
<circle cx="623.1" cy="874.3" r="3.1"/>
<circle cx="627.0" cy="875.8" r="3.1"/>
<circle cx="655.7" cy="879.5" r="3.1"/>
<circle cx="657.0" cy="883.4" r="3.1"/>
<circle cx="632.6" cy="880.6" r="3.1"/>
<circle cx="636.6" cy="881.6" r="3.1"/>
<circle cx="626.9" cy="888.3" r="3.1"/>
<circle cx="662.4" cy="881.9" r="3.1"/>
<circle cx="663.7" cy="876.2" r="3.1"/>
<circle cx="635.0" cy="874.4" r="3.1"/>
<circle cx="666.6" cy="872.2" r="3.1"/>
<circle cx="643.3" cy="864.5" r="3.1"/>
<circle cx="641.3" cy="868.2" r="3.1"/>
<circle cx="649.6" cy="871.6" r="3.1"/>
<circle cx="645.2" cy="889.9" r="3.1"/>
<circle cx="649.1" cy="888.3" r="3.1"/>
<circle cx="645.4" cy="877.4" r="3.1"/>
<circle cx="636.7" cy="874.4" r="3.1"/>
<circle cx="652.6" cy="897.4" r="3.1"/>
<circle cx="649.9" cy="894.3" r="3.1"/>
<circle cx="627.5" cy="874.7" r="3.1"/>
<circle cx="657.4" cy="872.4" r="3.1"/>
<circle cx="655.5" cy="876.2" r="3.1"/>
<circle cx="632.0" cy="865.5" r="3.1"/>
<circle cx="633.2" cy="862.3" r="3.1"/>
<circle cx="652.7" cy="892.8" r="3.1"/>
<circle cx="656.9" cy="893.1" r="3.1"/>
<circle cx="646.0" cy="866.3" r="3.1"/>
<circle cx="642.1" cy="864.6" r="3.1"/>
<circle cx="652.6" cy="865.7" r="3.1"/>
<circle cx="642.9" cy="867.6" r="3.1"/>
<circle cx="646.2" cy="870.2" r="3.1"/>
<circle cx="660.9" cy="877.0" r="3.1"/>
<circle cx="664.5" cy="874.9" r="3.1"/>
<circle cx="629.2" cy="889.0" r="3.1"/>
<circle cx="630.9" cy="892.8" r="3.1"/>
<circle cx="638.1" cy="867.8" r="3.1"/>
<circle cx="646.9" cy="877.1" r="3.1"/>
<circle cx="670.0" cy="884.8" r="3.1"/>
<circle cx="637.2" cy="886.3" r="3.1"/>
<circle cx="641.4" cy="886.2" r="3.1"/>
<circle cx="645.0" cy="885.9" r="3.1"/>
<circle cx="644.5" cy="881.7" r="3.1"/>
<circle cx="664.1" cy="868.9" r="3.1"/>
<circle cx="627.6" cy="883.2" r="3.1"/>
<circle cx="624.8" cy="886.3" r="3.1"/>
<circle cx="710.7" cy="741.7" r="3.1"/>
<circle cx="719.5" cy="741.7" r="3.1"/>
<circle cx="721.1" cy="746.8" r="3.1"/>
<circle cx="709.4" cy="747.0" r="3.1"/>
<circle cx="718.8" cy="741.7" r="3.1"/>
<circle cx="714.2" cy="745.5" r="3.1"/>
<circle cx="718.5" cy="747.8" r="3.1"/>
<circle cx="722.4" cy="745.8" r="3.1"/>
<circle cx="721.3" cy="747.2" r="3.1"/>
<circle cx="720.4" cy="740.6" r="3.1"/>
<circle cx="715.1" cy="745.1" r="3.1"/>
<circle cx="717.3" cy="750.5" r="3.1"/>
<circle cx="715.3" cy="744.5" r="3.1"/>
<circle cx="718.3" cy="745.5" r="3.1"/>
<circle cx="714.6" cy="740.1" r="3.1"/>
<circle cx="712.7" cy="746.4" r="3.1"/>
<circle cx="713.3" cy="739.6" r="3.1"/>
<circle cx="723.2" cy="744.5" r="3.1"/>
<circle cx="708.1" cy="747.7" r="3.1"/>
<circle cx="712.4" cy="743.4" r="3.1"/>
<circle cx="721.1" cy="748.6" r="3.1"/>
<circle cx="710.6" cy="741.9" r="3.1"/>
<circle cx="715.2" cy="745.3" r="3.1"/>
<circle cx="719.0" cy="772.0" r="3.1"/>
<circle cx="720.0" cy="776.0" r="3.1"/>
<circle cx="717.0" cy="780.0" r="3.1"/>
<circle cx="516.0" cy="759.0" r="3.1"/>
<circle cx="532.0" cy="767.0" r="3.1"/>
<circle cx="551.0" cy="763.0" r="3.1"/>
<circle cx="517.0" cy="816.0" r="3.1"/>
<circle cx="524.0" cy="816.0" r="3.1"/>
<circle cx="529.0" cy="819.0" r="3.1"/>
<circle cx="553.0" cy="823.0" r="3.1"/>
<circle cx="682.0" cy="819.0" r="3.1"/>
<circle cx="686.0" cy="825.0" r="3.1"/>
<circle cx="690.0" cy="830.0" r="3.1"/>
<circle cx="693.0" cy="836.0" r="3.1"/>
<circle cx="674.0" cy="841.0" r="3.1"/>
<circle cx="685.0" cy="853.0" r="3.1"/>
<circle cx="549.0" cy="856.0" r="3.1"/>
<circle cx="460.0" cy="833.0" r="3.1"/>
<circle cx="466.0" cy="877.0" r="3.1"/>
<circle cx="560.0" cy="1107.6" r="3.1"/>
<circle cx="641.5" cy="1111.4" r="3.1"/>
<circle cx="825.0" cy="1029.0" r="3.1"/>
<circle cx="560.0" cy="845.0" r="3.1"/>
<circle cx="578.0" cy="847.0" r="3.1"/>
<circle cx="603.0" cy="852.0" r="3.1"/>
<circle cx="618.0" cy="858.0" r="3.1"/>
</g>
<g fill="#d62728" fill-opacity="0.9">
<circle cx="550.3" cy="890.6" r="3.1"/>
<circle cx="551.6" cy="894.6" r="3.1"/>
<circle cx="580.1" cy="902.5" r="3.1"/>
<circle cx="636.1" cy="881.2" r="3.1"/>
<circle cx="640.2" cy="881.8" r="3.1"/>
<circle cx="585.1" cy="876.3" r="3.1"/>
<circle cx="518.3" cy="907.4" r="3.1"/>
<circle cx="521.6" cy="904.8" r="3.1"/>
<circle cx="586.2" cy="881.5" r="3.1"/>
<circle cx="590.3" cy="882.4" r="3.1"/>
<circle cx="518.4" cy="891.1" r="3.1"/>
<circle cx="621.8" cy="897.8" r="3.1"/>
<circle cx="624.3" cy="894.4" r="3.1"/>
<circle cx="645.0" cy="898.3" r="3.1"/>
<circle cx="640.8" cy="898.7" r="3.1"/>
<circle cx="506.8" cy="884.5" r="3.1"/>
<circle cx="515.3" cy="895.7" r="3.1"/>
<circle cx="551.0" cy="889.8" r="3.1"/>
<circle cx="549.8" cy="893.8" r="3.1"/>
<circle cx="584.8" cy="884.7" r="3.1"/>
<circle cx="630.8" cy="895.1" r="3.1"/>
<circle cx="517.3" cy="886.6" r="3.1"/>
<circle cx="535.6" cy="893.6" r="3.1"/>
<circle cx="500.3" cy="893.3" r="3.1"/>
<circle cx="615.0" cy="896.1" r="3.1"/>
<circle cx="538.6" cy="902.2" r="3.1"/>
<circle cx="542.1" cy="901.0" r="3.1"/>
<circle cx="538.1" cy="902.3" r="3.1"/>
<circle cx="580.4" cy="887.4" r="3.1"/>
<circle cx="616.3" cy="891.1" r="3.1"/>
<circle cx="526.8" cy="905.8" r="3.1"/>
<circle cx="556.4" cy="901.3" r="3.1"/>
<circle cx="517.3" cy="899.4" r="3.1"/>
<circle cx="513.1" cy="899.0" r="3.1"/>
<circle cx="585.4" cy="875.0" r="3.1"/>
<circle cx="549.8" cy="889.8" r="3.1"/>
<circle cx="547.3" cy="886.4" r="3.1"/>
<circle cx="544.5" cy="878.7" r="3.1"/>
<circle cx="502.4" cy="889.0" r="3.1"/>
<circle cx="501.9" cy="884.9" r="3.1"/>
<circle cx="566.6" cy="911.3" r="3.1"/>
<circle cx="562.1" cy="906.3" r="3.1"/>
<circle cx="535.7" cy="904.2" r="3.1"/>
<circle cx="533.7" cy="907.8" r="3.1"/>
<circle cx="576.2" cy="930.3" r="3.1"/>
<circle cx="573.3" cy="927.2" r="3.1"/>
<circle cx="587.0" cy="936.4" r="3.1"/>
<circle cx="536.8" cy="923.8" r="3.1"/>
<circle cx="538.1" cy="927.8" r="3.1"/>
<circle cx="549.0" cy="903.6" r="3.1"/>
<circle cx="563.3" cy="933.4" r="3.1"/>
<circle cx="565.7" cy="936.9" r="3.1"/>
<circle cx="506.8" cy="911.8" r="3.1"/>
<circle cx="539.4" cy="917.5" r="3.1"/>
<circle cx="562.1" cy="916.9" r="3.1"/>
<circle cx="563.2" cy="912.8" r="3.1"/>
<circle cx="566.5" cy="930.4" r="3.1"/>
<circle cx="562.6" cy="928.8" r="3.1"/>
<circle cx="539.3" cy="925.2" r="3.1"/>
<circle cx="539.6" cy="929.4" r="3.1"/>
<circle cx="567.3" cy="935.5" r="3.1"/>
<circle cx="569.6" cy="939.0" r="3.1"/>
<circle cx="564.7" cy="919.8" r="3.1"/>
<circle cx="564.3" cy="908.1" r="3.1"/>
<circle cx="539.7" cy="909.3" r="3.1"/>
<circle cx="586.3" cy="935.7" r="3.1"/>
<circle cx="572.4" cy="921.5" r="3.1"/>
<circle cx="569.2" cy="924.3" r="3.1"/>
<circle cx="542.0" cy="911.9" r="3.1"/>
<circle cx="574.7" cy="905.7" r="3.1"/>
<circle cx="538.3" cy="912.6" r="3.1"/>
<circle cx="535.1" cy="909.9" r="3.1"/>
<circle cx="564.6" cy="912.4" r="3.1"/>
<circle cx="568.1" cy="910.1" r="3.1"/>
<circle cx="572.4" cy="913.2" r="3.1"/>
<circle cx="573.4" cy="917.2" r="3.1"/>
<circle cx="525.6" cy="926.9" r="3.1"/>
<circle cx="593.7" cy="935.3" r="3.1"/>
<circle cx="531.8" cy="916.9" r="3.1"/>
<circle cx="531.5" cy="912.7" r="3.1"/>
<circle cx="528.7" cy="916.4" r="3.1"/>
<circle cx="525.9" cy="919.5" r="3.1"/>
<circle cx="585.9" cy="933.9" r="3.1"/>
<circle cx="587.0" cy="910.7" r="3.1"/>
<circle cx="533.3" cy="904.0" r="3.1"/>
<circle cx="533.8" cy="924.1" r="3.1"/>
<circle cx="536.2" cy="927.5" r="3.1"/>
<circle cx="521.0" cy="931.7" r="3.1"/>
<circle cx="566.0" cy="930.9" r="3.1"/>
<circle cx="569.5" cy="928.6" r="3.1"/>
<circle cx="527.3" cy="936.3" r="3.1"/>
<circle cx="553.0" cy="912.7" r="3.1"/>
<circle cx="551.5" cy="908.8" r="3.1"/>
<circle cx="574.2" cy="905.0" r="3.1"/>
<circle cx="574.2" cy="909.2" r="3.1"/>
<circle cx="597.2" cy="925.1" r="3.1"/>
<circle cx="570.1" cy="909.2" r="3.1"/>
<circle cx="584.8" cy="943.2" r="3.1"/>
<circle cx="588.9" cy="933.7" r="3.1"/>
<circle cx="591.5" cy="930.4" r="3.1"/>
<circle cx="506.4" cy="914.3" r="3.1"/>
<circle cx="509.5" cy="936.2" r="3.1"/>
<circle cx="548.1" cy="914.8" r="3.1"/>
<circle cx="547.2" cy="910.8" r="3.1"/>
<circle cx="598.3" cy="939.7" r="3.1"/>
<circle cx="597.4" cy="919.3" r="3.1"/>
<circle cx="581.4" cy="940.7" r="3.1"/>
<circle cx="570.9" cy="933.7" r="3.1"/>
<circle cx="568.0" cy="906.6" r="3.1"/>
<circle cx="509.7" cy="932.2" r="3.1"/>
<circle cx="548.3" cy="927.3" r="3.1"/>
<circle cx="549.5" cy="923.2" r="3.1"/>
<circle cx="586.1" cy="924.4" r="3.1"/>
<circle cx="589.0" cy="927.4" r="3.1"/>
<circle cx="541.0" cy="932.9" r="3.1"/>
<circle cx="543.7" cy="929.7" r="3.1"/>
<circle cx="530.3" cy="930.7" r="3.1"/>
<circle cx="533.5" cy="933.4" r="3.1"/>
<circle cx="592.8" cy="935.1" r="3.1"/>
<circle cx="593.4" cy="931.0" r="3.1"/>
<circle cx="550.0" cy="933.3" r="3.1"/>
<circle cx="546.7" cy="930.7" r="3.1"/>
<circle cx="576.9" cy="918.3" r="3.1"/>
<circle cx="582.3" cy="913.0" r="3.1"/>
<circle cx="567.9" cy="910.5" r="3.1"/>
<circle cx="539.4" cy="939.3" r="3.1"/>
<circle cx="519.6" cy="913.6" r="3.1"/>
<circle cx="568.0" cy="924.9" r="3.1"/>
<circle cx="563.9" cy="924.0" r="3.1"/>
<circle cx="599.7" cy="932.2" r="3.1"/>
<circle cx="668.0" cy="913.7" r="3.1"/>
<circle cx="614.6" cy="929.4" r="3.1"/>
<circle cx="649.6" cy="945.1" r="3.1"/>
<circle cx="653.4" cy="946.8" r="3.1"/>
<circle cx="620.9" cy="933.5" r="3.1"/>
<circle cx="630.3" cy="932.2" r="3.1"/>
<circle cx="630.4" cy="936.4" r="3.1"/>
<circle cx="649.7" cy="929.7" r="3.1"/>
<circle cx="640.7" cy="944.6" r="3.1"/>
<circle cx="644.8" cy="945.2" r="3.1"/>
<circle cx="666.8" cy="923.8" r="3.1"/>
<circle cx="629.3" cy="925.4" r="3.1"/>
<circle cx="629.1" cy="929.6" r="3.1"/>
<circle cx="685.3" cy="914.6" r="3.1"/>
<circle cx="687.9" cy="917.9" r="3.1"/>
<circle cx="621.1" cy="948.0" r="3.1"/>
<circle cx="636.8" cy="931.3" r="3.1"/>
<circle cx="638.8" cy="927.6" r="3.1"/>
<circle cx="612.6" cy="933.2" r="3.1"/>
<circle cx="608.8" cy="931.4" r="3.1"/>
<circle cx="641.8" cy="954.7" r="3.1"/>
<circle cx="642.1" cy="929.6" r="3.1"/>
<circle cx="668.9" cy="925.1" r="3.1"/>
<circle cx="629.2" cy="921.5" r="3.1"/>
<circle cx="630.9" cy="917.7" r="3.1"/>
<circle cx="609.9" cy="945.9" r="3.1"/>
<circle cx="678.5" cy="915.8" r="3.1"/>
<circle cx="681.9" cy="918.3" r="3.1"/>
<circle cx="663.6" cy="940.6" r="3.1"/>
<circle cx="662.6" cy="936.5" r="3.1"/>
<circle cx="678.1" cy="912.0" r="3.1"/>
<circle cx="678.5" cy="907.8" r="3.1"/>
<circle cx="680.6" cy="912.3" r="3.1"/>
<circle cx="680.6" cy="916.5" r="3.1"/>
<circle cx="651.0" cy="931.0" r="3.1"/>
<circle cx="625.7" cy="947.9" r="3.1"/>
<circle cx="621.5" cy="947.8" r="3.1"/>
<circle cx="640.4" cy="907.6" r="3.1"/>
<circle cx="642.3" cy="911.3" r="3.1"/>
<circle cx="651.0" cy="920.2" r="3.1"/>
<circle cx="650.8" cy="923.7" r="3.1"/>
<circle cx="650.2" cy="919.5" r="3.1"/>
<circle cx="666.2" cy="912.1" r="3.1"/>
<circle cx="664.7" cy="916.0" r="3.1"/>
<circle cx="607.6" cy="920.7" r="3.1"/>
<circle cx="653.3" cy="921.2" r="3.1"/>
<circle cx="655.5" cy="924.7" r="3.1"/>
<circle cx="642.1" cy="915.0" r="3.1"/>
<circle cx="655.7" cy="927.7" r="3.1"/>
<circle cx="656.4" cy="931.9" r="3.1"/>
<circle cx="679.4" cy="911.2" r="3.1"/>
<circle cx="609.4" cy="934.8" r="3.1"/>
<circle cx="667.2" cy="941.9" r="3.1"/>
<circle cx="663.0" cy="938.7" r="3.1"/>
<circle cx="665.6" cy="935.5" r="3.1"/>
<circle cx="650.6" cy="912.9" r="3.1"/>
<circle cx="644.4" cy="915.1" r="3.1"/>
<circle cx="639.9" cy="937.9" r="3.1"/>
<circle cx="636.7" cy="935.2" r="3.1"/>
<circle cx="614.9" cy="913.0" r="3.1"/>
<circle cx="612.9" cy="916.7" r="3.1"/>
<circle cx="623.7" cy="934.1" r="3.1"/>
<circle cx="622.2" cy="930.2" r="3.1"/>
<circle cx="626.0" cy="932.4" r="3.1"/>
<circle cx="637.8" cy="906.6" r="3.1"/>
<circle cx="641.6" cy="908.6" r="3.1"/>
<circle cx="628.9" cy="937.7" r="3.1"/>
<circle cx="616.3" cy="914.2" r="3.1"/>
<circle cx="617.9" cy="910.3" r="3.1"/>
<circle cx="613.9" cy="951.2" r="3.1"/>
<circle cx="634.0" cy="942.5" r="3.1"/>
<circle cx="638.2" cy="942.7" r="3.1"/>
<circle cx="684.3" cy="915.0" r="3.1"/>
<circle cx="684.7" cy="910.8" r="3.1"/>
<circle cx="610.9" cy="912.0" r="3.1"/>
<circle cx="654.5" cy="920.0" r="3.1"/>
<circle cx="633.6" cy="952.2" r="3.1"/>
<circle cx="637.8" cy="952.2" r="3.1"/>
<circle cx="625.0" cy="942.1" r="3.1"/>
<circle cx="677.1" cy="945.5" r="3.1"/>
<circle cx="652.1" cy="944.4" r="3.1"/>
<circle cx="648.3" cy="942.5" r="3.1"/>
<circle cx="611.7" cy="937.3" r="3.1"/>
<circle cx="677.5" cy="908.8" r="3.1"/>
<circle cx="662.0" cy="909.5" r="3.1"/>
<circle cx="680.7" cy="929.0" r="3.1"/>
<circle cx="612.5" cy="916.9" r="3.1"/>
<circle cx="650.7" cy="910.9" r="3.1"/>
<circle cx="650.2" cy="915.0" r="3.1"/>
<circle cx="653.6" cy="907.1" r="3.1"/>
<circle cx="694.5" cy="899.3" r="3.1"/>
<circle cx="707.3" cy="893.1" r="3.1"/>
<circle cx="722.8" cy="902.6" r="3.1"/>
<circle cx="695.7" cy="912.5" r="3.1"/>
<circle cx="710.7" cy="888.2" r="3.1"/>
<circle cx="709.0" cy="892.9" r="3.1"/>
<circle cx="689.8" cy="896.8" r="3.1"/>
<circle cx="710.5" cy="910.3" r="3.1"/>
<circle cx="707.4" cy="913.1" r="3.1"/>
<circle cx="722.7" cy="899.7" r="3.1"/>
<circle cx="706.4" cy="890.4" r="3.1"/>
<circle cx="708.5" cy="886.7" r="3.1"/>
<circle cx="713.1" cy="910.9" r="3.1"/>
<circle cx="717.1" cy="902.2" r="3.1"/>
<circle cx="709.9" cy="859.5" r="3.1"/>
<circle cx="718.8" cy="876.6" r="3.1"/>
<circle cx="721.5" cy="865.7" r="3.1"/>
<circle cx="714.8" cy="875.0" r="3.1"/>
<circle cx="715.0" cy="879.2" r="3.1"/>
<circle cx="727.1" cy="874.4" r="3.1"/>
<circle cx="576.3" cy="972.2" r="3.1"/>
<circle cx="509.5" cy="1001.4" r="3.1"/>
<circle cx="554.3" cy="981.9" r="3.1"/>
<circle cx="551.4" cy="978.9" r="3.1"/>
<circle cx="527.1" cy="950.8" r="3.1"/>
<circle cx="527.0" cy="946.6" r="3.1"/>
<circle cx="516.3" cy="972.3" r="3.1"/>
<circle cx="577.1" cy="990.0" r="3.1"/>
<circle cx="573.1" cy="988.8" r="3.1"/>
<circle cx="532.5" cy="975.9" r="3.1"/>
<circle cx="525.8" cy="989.1" r="3.1"/>
<circle cx="493.3" cy="969.4" r="3.1"/>
<circle cx="491.1" cy="972.9" r="3.1"/>
<circle cx="506.9" cy="1005.3" r="3.1"/>
<circle cx="508.4" cy="1001.4" r="3.1"/>
<circle cx="503.5" cy="969.4" r="3.1"/>
<circle cx="507.8" cy="1031.9" r="3.1"/>
<circle cx="508.4" cy="1036.0" r="3.1"/>
<circle cx="567.8" cy="1003.3" r="3.1"/>
<circle cx="495.0" cy="966.8" r="3.1"/>
<circle cx="498.6" cy="964.7" r="3.1"/>
<circle cx="561.9" cy="1018.1" r="3.1"/>
<circle cx="528.1" cy="993.9" r="3.1"/>
<circle cx="525.2" cy="997.0" r="3.1"/>
<circle cx="585.5" cy="978.5" r="3.1"/>
<circle cx="589.5" cy="977.2" r="3.1"/>
<circle cx="553.4" cy="991.8" r="3.1"/>
<circle cx="543.1" cy="987.2" r="3.1"/>
<circle cx="563.5" cy="945.5" r="3.1"/>
<circle cx="559.5" cy="946.8" r="3.1"/>
<circle cx="512.8" cy="961.0" r="3.1"/>
<circle cx="502.4" cy="1001.5" r="3.1"/>
<circle cx="499.6" cy="998.4" r="3.1"/>
<circle cx="486.7" cy="997.4" r="3.1"/>
<circle cx="488.4" cy="993.5" r="3.1"/>
<circle cx="569.3" cy="1010.3" r="3.1"/>
<circle cx="565.7" cy="1008.3" r="3.1"/>
<circle cx="579.7" cy="974.7" r="3.1"/>
<circle cx="581.3" cy="970.9" r="3.1"/>
<circle cx="568.1" cy="977.1" r="3.1"/>
<circle cx="569.6" cy="948.2" r="3.1"/>
<circle cx="489.7" cy="972.1" r="3.1"/>
<circle cx="492.1" cy="968.7" r="3.1"/>
<circle cx="522.2" cy="1012.0" r="3.1"/>
<circle cx="519.3" cy="1015.1" r="3.1"/>
<circle cx="518.0" cy="986.3" r="3.1"/>
<circle cx="522.3" cy="974.3" r="3.1"/>
<circle cx="522.5" cy="978.5" r="3.1"/>
<circle cx="505.6" cy="1033.8" r="3.1"/>
<circle cx="501.6" cy="1035.0" r="3.1"/>
<circle cx="513.6" cy="996.1" r="3.1"/>
<circle cx="514.4" cy="992.0" r="3.1"/>
<circle cx="513.2" cy="978.6" r="3.1"/>
<circle cx="509.0" cy="978.7" r="3.1"/>
<circle cx="511.5" cy="1019.9" r="3.1"/>
<circle cx="558.0" cy="972.9" r="3.1"/>
<circle cx="554.7" cy="975.4" r="3.1"/>
<circle cx="509.8" cy="949.1" r="3.1"/>
<circle cx="555.9" cy="983.7" r="3.1"/>
<circle cx="501.6" cy="959.8" r="3.1"/>
<circle cx="525.8" cy="1037.0" r="3.1"/>
<circle cx="524.2" cy="1040.8" r="3.1"/>
<circle cx="499.2" cy="1016.3" r="3.1"/>
<circle cx="497.2" cy="1012.6" r="3.1"/>
<circle cx="579.6" cy="955.5" r="3.1"/>
<circle cx="578.6" cy="951.4" r="3.1"/>
<circle cx="509.0" cy="985.7" r="3.1"/>
<circle cx="513.0" cy="1027.3" r="3.1"/>
<circle cx="555.2" cy="1018.2" r="3.1"/>
<circle cx="571.0" cy="1007.5" r="3.1"/>
<circle cx="558.6" cy="1013.1" r="3.1"/>
<circle cx="558.1" cy="1008.9" r="3.1"/>
<circle cx="538.0" cy="1003.4" r="3.1"/>
<circle cx="522.1" cy="999.5" r="3.1"/>
<circle cx="558.1" cy="949.3" r="3.1"/>
<circle cx="561.7" cy="951.5" r="3.1"/>
<circle cx="532.5" cy="1019.2" r="3.1"/>
<circle cx="529.6" cy="1022.2" r="3.1"/>
<circle cx="542.8" cy="1023.5" r="3.1"/>
<circle cx="533.6" cy="990.9" r="3.1"/>
<circle cx="531.5" cy="987.2" r="3.1"/>
<circle cx="520.1" cy="975.4" r="3.1"/>
<circle cx="568.1" cy="963.1" r="3.1"/>
<circle cx="502.3" cy="1023.9" r="3.1"/>
<circle cx="498.3" cy="1022.6" r="3.1"/>
<circle cx="560.8" cy="1001.1" r="3.1"/>
<circle cx="556.9" cy="1002.6" r="3.1"/>
<circle cx="585.2" cy="983.3" r="3.1"/>
<circle cx="585.9" cy="975.3" r="3.1"/>
<circle cx="532.1" cy="1010.9" r="3.1"/>
<circle cx="533.5" cy="1014.9" r="3.1"/>
<circle cx="549.3" cy="953.3" r="3.1"/>
<circle cx="504.6" cy="1016.3" r="3.1"/>
<circle cx="505.0" cy="1013.1" r="3.1"/>
<circle cx="505.3" cy="1018.3" r="3.1"/>
<circle cx="509.3" cy="1017.0" r="3.1"/>
<circle cx="560.6" cy="1014.7" r="3.1"/>
<circle cx="528.3" cy="1026.4" r="3.1"/>
<circle cx="524.1" cy="1026.7" r="3.1"/>
<circle cx="550.5" cy="999.1" r="3.1"/>
<circle cx="554.7" cy="998.6" r="3.1"/>
<circle cx="502.6" cy="977.9" r="3.1"/>
<circle cx="532.2" cy="952.3" r="3.1"/>
<circle cx="522.6" cy="1031.3" r="3.1"/>
<circle cx="526.7" cy="1031.8" r="3.1"/>
<circle cx="534.5" cy="1025.0" r="3.1"/>
<circle cx="540.0" cy="967.4" r="3.1"/>
<circle cx="541.1" cy="971.4" r="3.1"/>
<circle cx="530.3" cy="1016.0" r="3.1"/>
<circle cx="532.1" cy="1019.8" r="3.1"/>
<circle cx="579.0" cy="986.1" r="3.1"/>
<circle cx="506.7" cy="1001.1" r="3.1"/>
<circle cx="509.6" cy="1004.1" r="3.1"/>
<circle cx="493.1" cy="1020.8" r="3.1"/>
<circle cx="540.6" cy="949.2" r="3.1"/>
<circle cx="544.0" cy="951.7" r="3.1"/>
<circle cx="543.3" cy="988.6" r="3.1"/>
<circle cx="505.7" cy="977.8" r="3.1"/>
<circle cx="530.6" cy="999.8" r="3.1"/>
<circle cx="527.7" cy="996.8" r="3.1"/>
<circle cx="575.3" cy="959.1" r="3.1"/>
<circle cx="533.8" cy="1030.9" r="3.1"/>
<circle cx="536.8" cy="980.6" r="3.1"/>
<circle cx="544.0" cy="1017.3" r="3.1"/>
<circle cx="562.6" cy="945.9" r="3.1"/>
<circle cx="533.5" cy="982.6" r="3.1"/>
<circle cx="488.7" cy="998.2" r="3.1"/>
<circle cx="490.0" cy="1002.2" r="3.1"/>
<circle cx="500.3" cy="943.8" r="3.1"/>
<circle cx="577.5" cy="951.8" r="3.1"/>
<circle cx="501.3" cy="993.7" r="3.1"/>
<circle cx="585.4" cy="980.5" r="3.1"/>
<circle cx="487.1" cy="1007.5" r="3.1"/>
<circle cx="549.7" cy="1002.1" r="3.1"/>
<circle cx="554.1" cy="1004.1" r="3.1"/>
<circle cx="550.2" cy="1002.7" r="3.1"/>
<circle cx="486.6" cy="1025.8" r="3.1"/>
<circle cx="487.4" cy="1029.9" r="3.1"/>
<circle cx="559.1" cy="1016.3" r="3.1"/>
<circle cx="563.1" cy="1015.1" r="3.1"/>
<circle cx="539.1" cy="1010.4" r="3.1"/>
<circle cx="494.8" cy="979.1" r="3.1"/>
<circle cx="493.9" cy="983.2" r="3.1"/>
<circle cx="515.3" cy="991.9" r="3.1"/>
<circle cx="516.8" cy="988.0" r="3.1"/>
<circle cx="496.0" cy="1011.9" r="3.1"/>
<circle cx="532.3" cy="983.1" r="3.1"/>
<circle cx="561.7" cy="1022.5" r="3.1"/>
<circle cx="560.0" cy="945.1" r="3.1"/>
<circle cx="529.7" cy="1030.7" r="3.1"/>
<circle cx="515.1" cy="967.8" r="3.1"/>
<circle cx="515.9" cy="977.2" r="3.1"/>
<circle cx="512.7" cy="980.0" r="3.1"/>
<circle cx="501.2" cy="958.5" r="3.1"/>
<circle cx="504.9" cy="956.5" r="3.1"/>
<circle cx="563.8" cy="969.7" r="3.1"/>
<circle cx="541.0" cy="976.4" r="3.1"/>
<circle cx="538.7" cy="972.9" r="3.1"/>
<circle cx="518.8" cy="1019.8" r="3.1"/>
<circle cx="568.2" cy="995.7" r="3.1"/>
<circle cx="574.2" cy="984.9" r="3.1"/>
<circle cx="577.2" cy="987.9" r="3.1"/>
<circle cx="501.1" cy="995.6" r="3.1"/>
<circle cx="527.2" cy="1034.3" r="3.1"/>
<circle cx="507.1" cy="1018.3" r="3.1"/>
<circle cx="529.7" cy="954.0" r="3.1"/>
<circle cx="549.1" cy="958.8" r="3.1"/>
<circle cx="547.7" cy="954.9" r="3.1"/>
<circle cx="510.3" cy="968.0" r="3.1"/>
<circle cx="549.5" cy="1008.3" r="3.1"/>
<circle cx="547.4" cy="1012.2" r="3.1"/>
<circle cx="551.3" cy="1013.8" r="3.1"/>
<circle cx="491.8" cy="949.5" r="3.1"/>
<circle cx="552.7" cy="993.5" r="3.1"/>
<circle cx="554.1" cy="989.6" r="3.1"/>
<circle cx="531.7" cy="1032.9" r="3.1"/>
<circle cx="531.2" cy="1015.6" r="3.1"/>
<circle cx="532.8" cy="974.6" r="3.1"/>
<circle cx="571.8" cy="964.9" r="3.1"/>
<circle cx="555.1" cy="970.0" r="3.1"/>
<circle cx="491.7" cy="951.0" r="3.1"/>
<circle cx="491.4" cy="946.8" r="3.1"/>
<circle cx="503.1" cy="956.5" r="3.1"/>
<circle cx="490.1" cy="967.6" r="3.1"/>
<circle cx="507.7" cy="948.5" r="3.1"/>
<circle cx="521.7" cy="996.8" r="3.1"/>
<circle cx="567.5" cy="967.4" r="3.1"/>
<circle cx="571.4" cy="969.1" r="3.1"/>
<circle cx="580.4" cy="958.7" r="3.1"/>
<circle cx="580.8" cy="954.6" r="3.1"/>
<circle cx="487.2" cy="1007.5" r="3.1"/>
<circle cx="574.4" cy="966.3" r="3.1"/>
<circle cx="573.0" cy="970.3" r="3.1"/>
<circle cx="524.0" cy="979.3" r="3.1"/>
<circle cx="528.1" cy="980.1" r="3.1"/>
<circle cx="530.5" cy="953.7" r="3.1"/>
<circle cx="526.4" cy="954.8" r="3.1"/>
<circle cx="580.4" cy="985.0" r="3.1"/>
<circle cx="491.2" cy="978.5" r="3.1"/>
<circle cx="491.4" cy="982.7" r="3.1"/>
<circle cx="585.3" cy="961.4" r="3.1"/>
<circle cx="578.0" cy="975.3" r="3.1"/>
<circle cx="578.8" cy="979.4" r="3.1"/>
<circle cx="579.4" cy="964.3" r="3.1"/>
<circle cx="581.4" cy="968.0" r="3.1"/>
<circle cx="570.0" cy="966.6" r="3.1"/>
<circle cx="573.4" cy="964.2" r="3.1"/>
<circle cx="602.9" cy="962.4" r="3.1"/>
<circle cx="586.7" cy="963.0" r="3.1"/>
<circle cx="582.5" cy="963.3" r="3.1"/>
<circle cx="604.2" cy="972.9" r="3.1"/>
<circle cx="603.9" cy="979.3" r="3.1"/>
<circle cx="573.7" cy="980.1" r="3.1"/>
<circle cx="573.8" cy="975.9" r="3.1"/>
<circle cx="616.4" cy="969.2" r="3.1"/>
<circle cx="658.4" cy="1031.5" r="3.1"/>
<circle cx="669.0" cy="1058.7" r="3.1"/>
<circle cx="665.0" cy="1057.4" r="3.1"/>
<circle cx="644.9" cy="1047.5" r="3.1"/>
<circle cx="659.2" cy="1047.1" r="3.1"/>
<circle cx="647.2" cy="1015.8" r="3.1"/>
<circle cx="650.8" cy="1013.8" r="3.1"/>
<circle cx="635.5" cy="1028.9" r="3.1"/>
<circle cx="662.1" cy="1042.5" r="3.1"/>
<circle cx="658.1" cy="1041.2" r="3.1"/>
<circle cx="638.1" cy="1008.4" r="3.1"/>
<circle cx="641.5" cy="1010.9" r="3.1"/>
<circle cx="633.8" cy="1036.6" r="3.1"/>
<circle cx="637.8" cy="1035.3" r="3.1"/>
<circle cx="635.0" cy="1041.0" r="3.1"/>
<circle cx="636.7" cy="1037.1" r="3.1"/>
<circle cx="638.6" cy="1039.9" r="3.1"/>
<circle cx="632.4" cy="1001.2" r="3.1"/>
<circle cx="636.2" cy="1003.1" r="3.1"/>
<circle cx="633.8" cy="1005.1" r="3.1"/>
<circle cx="634.8" cy="1001.1" r="3.1"/>
<circle cx="661.9" cy="1045.7" r="3.1"/>
<circle cx="649.0" cy="1037.1" r="3.1"/>
<circle cx="653.0" cy="1036.1" r="3.1"/>
<circle cx="637.9" cy="1025.6" r="3.1"/>
<circle cx="635.7" cy="1022.1" r="3.1"/>
<circle cx="654.2" cy="1033.0" r="3.1"/>
<circle cx="657.7" cy="1030.7" r="3.1"/>
<circle cx="633.1" cy="1035.5" r="3.1"/>
<circle cx="620.0" cy="1046.8" r="3.1"/>
<circle cx="622.8" cy="1010.8" r="3.1"/>
<circle cx="634.2" cy="1021.3" r="3.1"/>
<circle cx="616.0" cy="1016.4" r="3.1"/>
<circle cx="631.9" cy="1025.2" r="3.1"/>
<circle cx="636.1" cy="1025.0" r="3.1"/>
<circle cx="629.3" cy="1020.3" r="3.1"/>
<circle cx="626.5" cy="1023.4" r="3.1"/>
<circle cx="633.0" cy="1038.6" r="3.1"/>
<circle cx="633.5" cy="1042.8" r="3.1"/>
<circle cx="638.9" cy="1032.6" r="3.1"/>
<circle cx="617.5" cy="1040.3" r="3.1"/>
<circle cx="621.4" cy="1038.8" r="3.1"/>
<circle cx="615.3" cy="1005.6" r="3.1"/>
<circle cx="571.4" cy="1065.3" r="3.1"/>
<circle cx="579.8" cy="1088.0" r="3.1"/>
<circle cx="581.1" cy="1092.0" r="3.1"/>
<circle cx="612.8" cy="1119.0" r="3.1"/>
<circle cx="616.1" cy="1121.5" r="3.1"/>
<circle cx="560.3" cy="1096.9" r="3.1"/>
<circle cx="562.6" cy="1100.5" r="3.1"/>
<circle cx="622.4" cy="1070.9" r="3.1"/>
<circle cx="626.0" cy="1068.7" r="3.1"/>
<circle cx="617.4" cy="1108.1" r="3.1"/>
<circle cx="618.5" cy="1112.2" r="3.1"/>
<circle cx="610.4" cy="1062.2" r="3.1"/>
<circle cx="560.5" cy="1093.6" r="3.1"/>
<circle cx="589.2" cy="1083.2" r="3.1"/>
<circle cx="619.0" cy="1083.5" r="3.1"/>
<circle cx="620.7" cy="1087.4" r="3.1"/>
<circle cx="561.6" cy="1097.8" r="3.1"/>
<circle cx="593.1" cy="1087.9" r="3.1"/>
<circle cx="595.4" cy="1084.4" r="3.1"/>
<circle cx="570.7" cy="1067.6" r="3.1"/>
<circle cx="568.6" cy="1063.9" r="3.1"/>
<circle cx="577.9" cy="1100.3" r="3.1"/>
<circle cx="581.4" cy="1102.6" r="3.1"/>
<circle cx="558.0" cy="1082.7" r="3.1"/>
<circle cx="558.7" cy="1078.6" r="3.1"/>
<circle cx="616.5" cy="1069.3" r="3.1"/>
<circle cx="615.6" cy="1073.3" r="3.1"/>
<circle cx="577.5" cy="1110.2" r="3.1"/>
<circle cx="578.8" cy="1114.1" r="3.1"/>
<circle cx="623.2" cy="1082.6" r="3.1"/>
<circle cx="615.8" cy="1105.2" r="3.1"/>
<circle cx="615.0" cy="1101.1" r="3.1"/>
<circle cx="591.1" cy="1069.3" r="3.1"/>
<circle cx="558.6" cy="1076.1" r="3.1"/>
<circle cx="561.9" cy="1078.6" r="3.1"/>
<circle cx="589.0" cy="1117.0" r="3.1"/>
<circle cx="586.8" cy="1113.4" r="3.1"/>
<circle cx="582.7" cy="1081.3" r="3.1"/>
<circle cx="581.5" cy="1077.3" r="3.1"/>
<circle cx="603.9" cy="1066.5" r="3.1"/>
<circle cx="628.5" cy="1091.1" r="3.1"/>
<circle cx="602.5" cy="1068.4" r="3.1"/>
<circle cx="605.8" cy="1072.0" r="3.1"/>
<circle cx="608.8" cy="1105.0" r="3.1"/>
<circle cx="625.8" cy="1101.0" r="3.1"/>
<circle cx="578.3" cy="1114.0" r="3.1"/>
<circle cx="566.9" cy="1109.3" r="3.1"/>
<circle cx="563.2" cy="1107.4" r="3.1"/>
<circle cx="589.6" cy="1090.6" r="3.1"/>
<circle cx="612.3" cy="1120.5" r="3.1"/>
<circle cx="609.3" cy="1117.5" r="3.1"/>
<circle cx="629.5" cy="1095.2" r="3.1"/>
<circle cx="628.4" cy="1091.1" r="3.1"/>
<circle cx="616.0" cy="1107.9" r="3.1"/>
<circle cx="618.5" cy="1111.3" r="3.1"/>
<circle cx="618.1" cy="1071.8" r="3.1"/>
<circle cx="594.0" cy="1113.6" r="3.1"/>
<circle cx="602.2" cy="1069.6" r="3.1"/>
<circle cx="600.1" cy="1066.0" r="3.1"/>
<circle cx="580.5" cy="1111.3" r="3.1"/>
<circle cx="576.8" cy="1109.3" r="3.1"/>
<circle cx="618.5" cy="1065.4" r="3.1"/>
<circle cx="619.0" cy="1069.6" r="3.1"/>
<circle cx="613.5" cy="1109.7" r="3.1"/>
<circle cx="604.5" cy="1046.6" r="3.1"/>
<circle cx="618.0" cy="1064.3" r="3.1"/>
<circle cx="616.3" cy="1068.1" r="3.1"/>
<circle cx="620.2" cy="1053.8" r="3.1"/>
<circle cx="622.9" cy="1050.6" r="3.1"/>
<circle cx="566.8" cy="1070.1" r="3.1"/>
<circle cx="596.4" cy="1122.2" r="3.1"/>
<circle cx="600.6" cy="1122.6" r="3.1"/>
<circle cx="590.6" cy="1082.6" r="3.1"/>
<circle cx="582.6" cy="1096.1" r="3.1"/>
<circle cx="583.3" cy="1092.0" r="3.1"/>
<circle cx="585.1" cy="1112.6" r="3.1"/>
<circle cx="581.6" cy="1114.8" r="3.1"/>
<circle cx="603.6" cy="1120.7" r="3.1"/>
<circle cx="604.5" cy="1124.8" r="3.1"/>
<circle cx="612.1" cy="1073.0" r="3.1"/>
<circle cx="558.5" cy="1081.3" r="3.1"/>
<circle cx="606.2" cy="1060.3" r="3.1"/>
<circle cx="604.8" cy="1056.4" r="3.1"/>
<circle cx="627.2" cy="1100.0" r="3.1"/>
<circle cx="598.5" cy="1082.6" r="3.1"/>
<circle cx="598.2" cy="1086.8" r="3.1"/>
<circle cx="567.7" cy="1067.6" r="3.1"/>
<circle cx="565.1" cy="1070.9" r="3.1"/>
<circle cx="616.5" cy="1095.1" r="3.1"/>
<circle cx="587.7" cy="1075.5" r="3.1"/>
<circle cx="569.1" cy="1068.6" r="3.1"/>
<circle cx="566.2" cy="1065.6" r="3.1"/>
<circle cx="622.7" cy="1095.2" r="3.1"/>
<circle cx="626.9" cy="1094.7" r="3.1"/>
<circle cx="597.9" cy="1112.0" r="3.1"/>
<circle cx="604.9" cy="1119.3" r="3.1"/>
<circle cx="593.2" cy="1121.1" r="3.1"/>
<circle cx="627.6" cy="1091.3" r="3.1"/>
<circle cx="563.9" cy="1102.5" r="3.1"/>
<circle cx="563.6" cy="1106.7" r="3.1"/>
<circle cx="617.2" cy="1121.5" r="3.1"/>
<circle cx="572.0" cy="1064.5" r="3.1"/>
<circle cx="631.1" cy="1105.5" r="3.1"/>
<circle cx="610.0" cy="1104.5" r="3.1"/>
<circle cx="614.1" cy="1103.7" r="3.1"/>
<circle cx="587.0" cy="1087.0" r="3.1"/>
<circle cx="590.4" cy="1084.6" r="3.1"/>
<circle cx="607.2" cy="1054.5" r="3.1"/>
<circle cx="608.9" cy="1058.4" r="3.1"/>
<circle cx="570.3" cy="1089.8" r="3.1"/>
<circle cx="570.8" cy="1085.6" r="3.1"/>
<circle cx="565.9" cy="1078.1" r="3.1"/>
<circle cx="563.1" cy="1081.2" r="3.1"/>
<circle cx="566.0" cy="1061.2" r="3.1"/>
<circle cx="600.2" cy="1053.0" r="3.1"/>
<circle cx="603.8" cy="1055.0" r="3.1"/>
<circle cx="630.8" cy="1084.8" r="3.1"/>
<circle cx="626.7" cy="1085.2" r="3.1"/>
<circle cx="568.8" cy="1094.1" r="3.1"/>
<circle cx="571.6" cy="1073.0" r="3.1"/>
<circle cx="574.9" cy="1070.4" r="3.1"/>
<circle cx="587.0" cy="1073.0" r="3.1"/>
<circle cx="585.6" cy="1069.0" r="3.1"/>
<circle cx="590.2" cy="1115.4" r="3.1"/>
<circle cx="615.8" cy="1084.0" r="3.1"/>
<circle cx="619.3" cy="1081.7" r="3.1"/>
<circle cx="605.2" cy="1107.7" r="3.1"/>
<circle cx="564.6" cy="1074.2" r="3.1"/>
<circle cx="564.7" cy="1070.0" r="3.1"/>
<circle cx="600.2" cy="1101.6" r="3.1"/>
<circle cx="603.0" cy="1098.5" r="3.1"/>
<circle cx="605.1" cy="1067.1" r="3.1"/>
<circle cx="617.0" cy="1044.4" r="3.1"/>
<circle cx="588.3" cy="1066.2" r="3.1"/>
<circle cx="595.6" cy="1123.8" r="3.1"/>
<circle cx="598.2" cy="1117.4" r="3.1"/>
<circle cx="584.0" cy="1073.9" r="3.1"/>
<circle cx="579.6" cy="1114.3" r="3.1"/>
<circle cx="583.2" cy="1048.7" r="3.1"/>
<circle cx="617.4" cy="1054.9" r="3.1"/>
<circle cx="587.9" cy="1052.7" r="3.1"/>
<circle cx="597.1" cy="1123.1" r="3.1"/>
<circle cx="556.2" cy="1085.7" r="3.1"/>
<circle cx="603.4" cy="1104.4" r="3.1"/>
<circle cx="603.4" cy="1051.9" r="3.1"/>
<circle cx="568.8" cy="1073.5" r="3.1"/>
<circle cx="631.3" cy="1080.2" r="3.1"/>
<circle cx="629.9" cy="1084.2" r="3.1"/>
<circle cx="625.0" cy="1056.6" r="3.1"/>
<circle cx="603.1" cy="1099.7" r="3.1"/>
<circle cx="599.2" cy="1098.0" r="3.1"/>
<circle cx="607.5" cy="1045.0" r="3.1"/>
<circle cx="603.7" cy="1100.1" r="3.1"/>
<circle cx="626.2" cy="1091.4" r="3.1"/>
<circle cx="608.1" cy="1055.8" r="3.1"/>
<circle cx="626.8" cy="1103.8" r="3.1"/>
<circle cx="582.0" cy="1104.1" r="3.1"/>
<circle cx="611.3" cy="1078.0" r="3.1"/>
<circle cx="615.2" cy="1076.5" r="3.1"/>
<circle cx="627.3" cy="1096.1" r="3.1"/>
<circle cx="631.5" cy="1096.3" r="3.1"/>
<circle cx="569.9" cy="1100.4" r="3.1"/>
<circle cx="608.0" cy="1070.0" r="3.1"/>
<circle cx="611.7" cy="1072.1" r="3.1"/>
<circle cx="579.9" cy="1092.5" r="3.1"/>
<circle cx="582.8" cy="1095.6" r="3.1"/>
<circle cx="592.4" cy="1114.9" r="3.1"/>
<circle cx="613.9" cy="1092.5" r="3.1"/>
<circle cx="611.1" cy="1095.6" r="3.1"/>
<circle cx="560.0" cy="1110.4" r="3.1"/>
<circle cx="623.1" cy="1095.3" r="3.1"/>
<circle cx="619.3" cy="1097.1" r="3.1"/>
<circle cx="611.4" cy="1099.1" r="3.1"/>
<circle cx="619.7" cy="1068.3" r="3.1"/>
<circle cx="575.2" cy="1074.6" r="3.1"/>
<circle cx="615.7" cy="1040.5" r="3.1"/>
<circle cx="609.9" cy="1040.4" r="3.1"/>
<circle cx="610.4" cy="1040.8" r="3.1"/>
<circle cx="615.8" cy="1043.6" r="3.1"/>
<circle cx="617.4" cy="1037.0" r="3.1"/>
<circle cx="614.4" cy="1042.6" r="3.1"/>
<circle cx="616.3" cy="1043.4" r="3.1"/>
<circle cx="667.8" cy="939.2" r="3.1"/>
<circle cx="682.0" cy="920.3" r="3.1"/>
<circle cx="672.2" cy="926.2" r="3.1"/>
<circle cx="680.2" cy="940.3" r="3.1"/>
<circle cx="664.0" cy="931.2" r="3.1"/>
<circle cx="666.1" cy="938.9" r="3.1"/>
<circle cx="675.0" cy="942.6" r="3.1"/>
<circle cx="676.1" cy="936.3" r="3.1"/>
<circle cx="676.1" cy="938.8" r="3.1"/>
<circle cx="665.3" cy="917.3" r="3.1"/>
<circle cx="683.4" cy="919.1" r="3.1"/>
<circle cx="682.0" cy="919.2" r="3.1"/>
<circle cx="659.8" cy="924.3" r="3.1"/>
<circle cx="675.5" cy="943.0" r="3.1"/>
<circle cx="663.9" cy="925.3" r="3.1"/>
<circle cx="671.2" cy="922.0" r="3.1"/>
<circle cx="659.7" cy="924.3" r="3.1"/>
<circle cx="676.3" cy="927.4" r="3.1"/>
<circle cx="672.8" cy="918.3" r="3.1"/>
<circle cx="665.2" cy="928.7" r="3.1"/>
<circle cx="661.4" cy="922.2" r="3.1"/>
<circle cx="683.2" cy="927.0" r="3.1"/>
<circle cx="684.1" cy="930.0" r="3.1"/>
<circle cx="660.8" cy="927.9" r="3.1"/>
<circle cx="667.6" cy="915.1" r="3.1"/>
<circle cx="668.6" cy="915.6" r="3.1"/>
<circle cx="685.2" cy="928.0" r="3.1"/>
<circle cx="665.9" cy="922.6" r="3.1"/>
<circle cx="674.2" cy="917.7" r="3.1"/>
<circle cx="679.6" cy="922.2" r="3.1"/>
<circle cx="462.0" cy="841.0" r="3.1"/>
<circle cx="466.0" cy="843.0" r="3.1"/>
<circle cx="469.0" cy="854.0" r="3.1"/>
<circle cx="471.0" cy="856.0" r="3.1"/>
<circle cx="457.0" cy="861.0" r="3.1"/>
<circle cx="466.0" cy="866.0" r="3.1"/>
<circle cx="469.0" cy="871.0" r="3.1"/>
<circle cx="478.0" cy="865.0" r="3.1"/>
<circle cx="543.0" cy="775.0" r="3.1"/>
<circle cx="528.0" cy="826.0" r="3.1"/>
<circle cx="532.0" cy="830.0" r="3.1"/>
<circle cx="536.0" cy="825.0" r="3.1"/>
<circle cx="535.0" cy="850.0" r="3.1"/>
<circle cx="612.0" cy="841.0" r="3.1"/>
<circle cx="627.0" cy="840.0" r="3.1"/>
<circle cx="638.0" cy="840.0" r="3.1"/>
<circle cx="648.0" cy="836.0" r="3.1"/>
<circle cx="682.0" cy="843.0" r="3.1"/>
<circle cx="689.0" cy="846.0" r="3.1"/>
<circle cx="694.0" cy="849.0" r="3.1"/>
<circle cx="700.0" cy="851.0" r="3.1"/>
<circle cx="689.0" cy="853.0" r="3.1"/>
<circle cx="694.0" cy="854.0" r="3.1"/>
<circle cx="703.0" cy="854.0" r="3.1"/>
<circle cx="711.5" cy="751.0" r="3.1"/>
<circle cx="717.0" cy="756.5" r="3.1"/>
<circle cx="717.0" cy="861.5" r="3.1"/>
<circle cx="742.0" cy="860.0" r="3.1"/>
<circle cx="750.0" cy="860.0" r="3.1"/>
<circle cx="727.0" cy="876.0" r="3.1"/>
<circle cx="695.0" cy="889.0" r="3.1"/>
<circle cx="710.0" cy="898.0" r="3.1"/>
<circle cx="718.0" cy="895.0" r="3.1"/>
<circle cx="795.0" cy="941.0" r="3.1"/>
<circle cx="800.0" cy="943.0" r="3.1"/>
<circle cx="806.0" cy="942.0" r="3.1"/>
<circle cx="815.0" cy="942.0" r="3.1"/>
<circle cx="822.0" cy="954.0" r="3.1"/>
<circle cx="806.0" cy="900.0" r="3.1"/>
<circle cx="432.5" cy="983.3" r="3.1"/>
<circle cx="443.0" cy="963.0" r="3.1"/>
<circle cx="559.0" cy="1054.0" r="3.1"/>
<circle cx="770.0" cy="945.0" r="3.1"/>
<circle cx="775.0" cy="950.0" r="3.1"/>
<circle cx="558.0" cy="848.0" r="3.1"/>
<circle cx="563.0" cy="852.0" r="3.1"/>
<circle cx="575.0" cy="851.0" r="3.1"/>
<circle cx="588.0" cy="856.0" r="3.1"/>
<circle cx="597.0" cy="860.0" r="3.1"/>
<circle cx="610.0" cy="866.0" r="3.1"/>
<circle cx="566.0" cy="870.0" r="3.1"/>
<circle cx="580.0" cy="873.0" r="3.1"/>
<circle cx="600.0" cy="878.0" r="3.1"/>
<circle cx="620.0" cy="876.0" r="3.1"/>
</g>
<g fill="#9467bd" fill-opacity="0.9">
<circle cx="806.8" cy="764.9" r="3.1"/>
<circle cx="803.3" cy="767.2" r="3.1"/>
<circle cx="835.7" cy="758.9" r="3.1"/>
<circle cx="815.9" cy="762.5" r="3.1"/>
<circle cx="814.8" cy="766.7" r="3.1"/>
<circle cx="791.6" cy="769.8" r="3.1"/>
<circle cx="793.5" cy="755.9" r="3.1"/>
<circle cx="797.3" cy="757.7" r="3.1"/>
<circle cx="838.1" cy="763.0" r="3.1"/>
<circle cx="800.4" cy="776.9" r="3.1"/>
<circle cx="791.4" cy="758.3" r="3.1"/>
<circle cx="835.9" cy="761.4" r="3.1"/>
<circle cx="833.8" cy="757.7" r="3.1"/>
<circle cx="821.6" cy="766.9" r="3.1"/>
<circle cx="819.3" cy="770.4" r="3.1"/>
<circle cx="782.3" cy="767.0" r="3.1"/>
<circle cx="823.3" cy="771.3" r="3.1"/>
<circle cx="825.5" cy="767.7" r="3.1"/>
<circle cx="788.9" cy="757.3" r="3.1"/>
<circle cx="827.9" cy="757.6" r="3.1"/>
<circle cx="804.2" cy="771.0" r="3.1"/>
<circle cx="793.4" cy="756.9" r="3.1"/>
<circle cx="829.3" cy="760.5" r="3.1"/>
<circle cx="814.9" cy="767.0" r="3.1"/>
<circle cx="817.4" cy="763.7" r="3.1"/>
<circle cx="792.6" cy="775.5" r="3.1"/>
<circle cx="809.7" cy="784.3" r="3.1"/>
<circle cx="794.8" cy="779.1" r="3.1"/>
<circle cx="806.3" cy="776.0" r="3.1"/>
<circle cx="822.1" cy="767.0" r="3.1"/>
<circle cx="823.8" cy="778.0" r="3.1"/>
<circle cx="810.8" cy="778.2" r="3.1"/>
<circle cx="789.3" cy="775.4" r="3.1"/>
<circle cx="807.5" cy="776.6" r="3.1"/>
<circle cx="810.5" cy="779.5" r="3.1"/>
<circle cx="803.9" cy="770.8" r="3.1"/>
<circle cx="807.9" cy="769.6" r="3.1"/>
<circle cx="819.9" cy="759.8" r="3.1"/>
<circle cx="815.7" cy="760.3" r="3.1"/>
<circle cx="830.5" cy="754.4" r="3.1"/>
<circle cx="809.6" cy="769.1" r="3.1"/>
<circle cx="835.4" cy="771.7" r="3.1"/>
<circle cx="831.4" cy="772.9" r="3.1"/>
<circle cx="807.9" cy="756.9" r="3.1"/>
<circle cx="805.1" cy="760.1" r="3.1"/>
<circle cx="819.3" cy="752.9" r="3.1"/>
<circle cx="822.6" cy="780.0" r="3.1"/>
<circle cx="793.6" cy="759.7" r="3.1"/>
<circle cx="791.9" cy="763.6" r="3.1"/>
<circle cx="822.4" cy="761.7" r="3.1"/>
<circle cx="819.9" cy="765.1" r="3.1"/>
<circle cx="823.3" cy="782.3" r="3.1"/>
<circle cx="794.9" cy="756.1" r="3.1"/>
<circle cx="798.3" cy="758.6" r="3.1"/>
<circle cx="832.3" cy="754.9" r="3.1"/>
<circle cx="826.9" cy="782.3" r="3.1"/>
<circle cx="828.9" cy="778.5" r="3.1"/>
<circle cx="813.5" cy="758.9" r="3.1"/>
<circle cx="799.6" cy="765.1" r="3.1"/>
<circle cx="819.2" cy="756.5" r="3.1"/>
<circle cx="819.5" cy="758.5" r="3.1"/>
<circle cx="823.0" cy="760.8" r="3.1"/>
<circle cx="826.0" cy="776.6" r="3.1"/>
<circle cx="821.8" cy="776.1" r="3.1"/>
<circle cx="810.2" cy="765.1" r="3.1"/>
<circle cx="806.0" cy="764.8" r="3.1"/>
<circle cx="829.6" cy="753.1" r="3.1"/>
<circle cx="825.5" cy="753.8" r="3.1"/>
<circle cx="806.6" cy="764.5" r="3.1"/>
<circle cx="803.3" cy="767.2" r="3.1"/>
<circle cx="784.3" cy="764.6" r="3.1"/>
<circle cx="839.0" cy="767.1" r="3.1"/>
<circle cx="835.7" cy="764.5" r="3.1"/>
<circle cx="782.7" cy="764.6" r="3.1"/>
<circle cx="816.1" cy="783.1" r="3.1"/>
<circle cx="815.7" cy="779.0" r="3.1"/>
<circle cx="793.0" cy="763.8" r="3.1"/>
<circle cx="824.0" cy="758.5" r="3.1"/>
<circle cx="795.5" cy="769.1" r="3.1"/>
<circle cx="805.8" cy="766.7" r="3.1"/>
<circle cx="809.7" cy="768.3" r="3.1"/>
<circle cx="800.5" cy="754.1" r="3.1"/>
<circle cx="805.1" cy="758.7" r="3.1"/>
<circle cx="801.8" cy="761.4" r="3.1"/>
<circle cx="785.8" cy="761.5" r="3.1"/>
<circle cx="785.1" cy="765.7" r="3.1"/>
<circle cx="802.9" cy="758.5" r="3.1"/>
<circle cx="786.0" cy="763.2" r="3.1"/>
<circle cx="817.1" cy="758.6" r="3.1"/>
<circle cx="813.9" cy="760.1" r="3.1"/>
<circle cx="793.2" cy="772.5" r="3.1"/>
<circle cx="796.6" cy="775.0" r="3.1"/>
<circle cx="813.9" cy="770.1" r="3.1"/>
<circle cx="786.5" cy="759.4" r="3.1"/>
<circle cx="790.7" cy="759.7" r="3.1"/>
<circle cx="792.9" cy="763.6" r="3.1"/>
<circle cx="793.4" cy="767.8" r="3.1"/>
<circle cx="831.3" cy="760.5" r="3.1"/>
<circle cx="828.4" cy="761.4" r="3.1"/>
<circle cx="825.2" cy="758.8" r="3.1"/>
<circle cx="807.2" cy="773.0" r="3.1"/>
<circle cx="830.4" cy="771.2" r="3.1"/>
<circle cx="832.4" cy="774.9" r="3.1"/>
<circle cx="825.3" cy="778.2" r="3.1"/>
<circle cx="832.1" cy="776.3" r="3.1"/>
<circle cx="853.6" cy="844.2" r="3.1"/>
<circle cx="854.8" cy="848.2" r="3.1"/>
<circle cx="869.6" cy="844.2" r="3.1"/>
<circle cx="866.0" cy="853.1" r="3.1"/>
<circle cx="870.2" cy="842.4" r="3.1"/>
<circle cx="867.9" cy="845.9" r="3.1"/>
<circle cx="870.9" cy="830.9" r="3.1"/>
<circle cx="858.0" cy="826.2" r="3.1"/>
<circle cx="859.8" cy="830.0" r="3.1"/>
<circle cx="860.3" cy="852.6" r="3.1"/>
<circle cx="856.5" cy="854.6" r="3.1"/>
<circle cx="876.3" cy="868.3" r="3.1"/>
<circle cx="880.5" cy="867.8" r="3.1"/>
<circle cx="881.8" cy="866.6" r="3.1"/>
<circle cx="858.8" cy="834.7" r="3.1"/>
<circle cx="895.8" cy="859.3" r="3.1"/>
<circle cx="898.4" cy="862.5" r="3.1"/>
<circle cx="865.0" cy="840.7" r="3.1"/>
<circle cx="886.2" cy="865.6" r="3.1"/>
<circle cx="878.6" cy="853.6" r="3.1"/>
<circle cx="899.3" cy="852.1" r="3.1"/>
<circle cx="862.2" cy="829.5" r="3.1"/>
<circle cx="858.0" cy="829.5" r="3.1"/>
<circle cx="852.1" cy="828.8" r="3.1"/>
<circle cx="891.5" cy="859.9" r="3.1"/>
<circle cx="895.2" cy="861.9" r="3.1"/>
<circle cx="905.4" cy="867.2" r="3.1"/>
<circle cx="882.2" cy="856.8" r="3.1"/>
<circle cx="881.7" cy="844.6" r="3.1"/>
<circle cx="884.9" cy="842.0" r="3.1"/>
<circle cx="866.9" cy="827.4" r="3.1"/>
<circle cx="879.6" cy="851.1" r="3.1"/>
<circle cx="895.5" cy="866.4" r="3.1"/>
<circle cx="892.5" cy="869.4" r="3.1"/>
<circle cx="857.9" cy="850.8" r="3.1"/>
<circle cx="860.0" cy="854.4" r="3.1"/>
<circle cx="883.4" cy="871.8" r="3.1"/>
<circle cx="885.3" cy="875.6" r="3.1"/>
<circle cx="887.4" cy="850.1" r="3.1"/>
<circle cx="884.7" cy="846.9" r="3.1"/>
<circle cx="898.1" cy="870.4" r="3.1"/>
<circle cx="899.5" cy="853.7" r="3.1"/>
<circle cx="858.5" cy="860.0" r="3.1"/>
<circle cx="890.0" cy="867.4" r="3.1"/>
<circle cx="891.6" cy="863.5" r="3.1"/>
<circle cx="867.7" cy="858.5" r="3.1"/>
<circle cx="866.7" cy="862.6" r="3.1"/>
<circle cx="857.2" cy="834.5" r="3.1"/>
<circle cx="888.0" cy="850.3" r="3.1"/>
<circle cx="883.3" cy="853.0" r="3.1"/>
<circle cx="909.1" cy="857.8" r="3.1"/>
<circle cx="858.7" cy="843.0" r="3.1"/>
<circle cx="882.1" cy="863.1" r="3.1"/>
<circle cx="883.5" cy="871.7" r="3.1"/>
<circle cx="853.2" cy="838.1" r="3.1"/>
<circle cx="863.0" cy="870.7" r="3.1"/>
<circle cx="868.4" cy="830.6" r="3.1"/>
<circle cx="873.5" cy="873.4" r="3.1"/>
<circle cx="898.1" cy="863.9" r="3.1"/>
<circle cx="895.6" cy="860.5" r="3.1"/>
<circle cx="880.9" cy="864.4" r="3.1"/>
<circle cx="885.1" cy="864.7" r="3.1"/>
<circle cx="873.3" cy="859.4" r="3.1"/>
<circle cx="882.6" cy="870.0" r="3.1"/>
<circle cx="848.6" cy="838.5" r="3.1"/>
<circle cx="848.4" cy="834.3" r="3.1"/>
<circle cx="900.3" cy="849.4" r="3.1"/>
<circle cx="874.9" cy="858.0" r="3.1"/>
<circle cx="866.4" cy="844.9" r="3.1"/>
<circle cx="862.2" cy="844.2" r="3.1"/>
<circle cx="851.0" cy="829.1" r="3.1"/>
<circle cx="867.0" cy="853.4" r="3.1"/>
<circle cx="892.9" cy="844.2" r="3.1"/>
<circle cx="887.5" cy="863.5" r="3.1"/>
<circle cx="876.8" cy="850.3" r="3.1"/>
<circle cx="873.1" cy="852.4" r="3.1"/>
<circle cx="875.0" cy="836.9" r="3.1"/>
<circle cx="888.1" cy="868.3" r="3.1"/>
<circle cx="885.6" cy="871.7" r="3.1"/>
<circle cx="884.4" cy="858.9" r="3.1"/>
<circle cx="885.9" cy="855.0" r="3.1"/>
<circle cx="860.6" cy="847.9" r="3.1"/>
<circle cx="858.9" cy="851.8" r="3.1"/>
<circle cx="857.2" cy="839.2" r="3.1"/>
<circle cx="849.0" cy="829.3" r="3.1"/>
<circle cx="897.0" cy="872.4" r="3.1"/>
<circle cx="900.5" cy="870.1" r="3.1"/>
<circle cx="854.8" cy="840.7" r="3.1"/>
<circle cx="870.6" cy="866.5" r="3.1"/>
<circle cx="857.4" cy="836.6" r="3.1"/>
<circle cx="882.3" cy="856.4" r="3.1"/>
<circle cx="898.9" cy="846.7" r="3.1"/>
<circle cx="882.9" cy="875.8" r="3.1"/>
<circle cx="874.5" cy="854.8" r="3.1"/>
<circle cx="875.1" cy="839.6" r="3.1"/>
<circle cx="873.4" cy="843.5" r="3.1"/>
<circle cx="865.0" cy="858.4" r="3.1"/>
<circle cx="880.0" cy="842.7" r="3.1"/>
<circle cx="884.2" cy="842.8" r="3.1"/>
<circle cx="892.6" cy="844.4" r="3.1"/>
<circle cx="879.8" cy="855.9" r="3.1"/>
<circle cx="898.5" cy="856.8" r="3.1"/>
<circle cx="864.0" cy="861.6" r="3.1"/>
<circle cx="864.9" cy="865.7" r="3.1"/>
<circle cx="876.7" cy="862.1" r="3.1"/>
<circle cx="887.8" cy="852.5" r="3.1"/>
<circle cx="892.0" cy="852.5" r="3.1"/>
<circle cx="872.2" cy="847.1" r="3.1"/>
<circle cx="868.5" cy="849.0" r="3.1"/>
<circle cx="865.7" cy="859.2" r="3.1"/>
<circle cx="862.1" cy="861.3" r="3.1"/>
<circle cx="894.0" cy="862.2" r="3.1"/>
<circle cx="896.8" cy="849.7" r="3.1"/>
<circle cx="859.4" cy="853.4" r="3.1"/>
<circle cx="857.7" cy="854.5" r="3.1"/>
<circle cx="901.6" cy="852.3" r="3.1"/>
<circle cx="861.9" cy="869.1" r="3.1"/>
<circle cx="865.9" cy="867.8" r="3.1"/>
<circle cx="865.9" cy="829.3" r="3.1"/>
<circle cx="862.2" cy="838.2" r="3.1"/>
<circle cx="876.6" cy="846.8" r="3.1"/>
<circle cx="892.1" cy="867.1" r="3.1"/>
<circle cx="888.3" cy="865.3" r="3.1"/>
<circle cx="872.7" cy="834.9" r="3.1"/>
<circle cx="868.7" cy="833.7" r="3.1"/>
<circle cx="905.2" cy="867.2" r="3.1"/>
<circle cx="850.4" cy="838.2" r="3.1"/>
<circle cx="848.2" cy="834.6" r="3.1"/>
<circle cx="906.1" cy="865.4" r="3.1"/>
<circle cx="904.1" cy="869.1" r="3.1"/>
<circle cx="905.0" cy="860.8" r="3.1"/>
<circle cx="863.4" cy="860.6" r="3.1"/>
<circle cx="861.0" cy="859.7" r="3.1"/>
<circle cx="897.2" cy="857.8" r="3.1"/>
<circle cx="852.2" cy="826.6" r="3.1"/>
<circle cx="828.1" cy="884.6" r="3.1"/>
<circle cx="837.5" cy="899.6" r="3.1"/>
<circle cx="832.4" cy="894.5" r="3.1"/>
<circle cx="828.2" cy="891.7" r="3.1"/>
<circle cx="828.8" cy="895.9" r="3.1"/>
<circle cx="825.4" cy="907.1" r="3.1"/>
<circle cx="829.5" cy="907.9" r="3.1"/>
<circle cx="824.0" cy="889.8" r="3.1"/>
<circle cx="828.9" cy="885.1" r="3.1"/>
<circle cx="814.5" cy="903.9" r="3.1"/>
<circle cx="831.4" cy="908.1" r="3.1"/>
<circle cx="835.3" cy="906.5" r="3.1"/>
<circle cx="840.9" cy="902.0" r="3.1"/>
<circle cx="841.6" cy="897.8" r="3.1"/>
<circle cx="841.5" cy="892.5" r="3.1"/>
<circle cx="838.4" cy="895.4" r="3.1"/>
<circle cx="821.1" cy="904.8" r="3.1"/>
<circle cx="829.5" cy="909.9" r="3.1"/>
<circle cx="826.8" cy="906.6" r="3.1"/>
<circle cx="812.0" cy="895.8" r="3.1"/>
<circle cx="827.3" cy="901.0" r="3.1"/>
<circle cx="821.9" cy="908.3" r="3.1"/>
<circle cx="816.6" cy="889.9" r="3.1"/>
<circle cx="815.7" cy="885.8" r="3.1"/>
<circle cx="836.4" cy="903.5" r="3.1"/>
<circle cx="835.6" cy="899.4" r="3.1"/>
<circle cx="825.9" cy="908.6" r="3.1"/>
<circle cx="826.2" cy="907.3" r="3.1"/>
<circle cx="830.4" cy="907.6" r="3.1"/>
<circle cx="827.8" cy="910.1" r="3.1"/>
<circle cx="834.2" cy="904.4" r="3.1"/>
<circle cx="832.0" cy="908.0" r="3.1"/>
<circle cx="816.3" cy="886.0" r="3.1"/>
<circle cx="840.0" cy="895.8" r="3.1"/>
<circle cx="821.4" cy="909.1" r="3.1"/>
<circle cx="837.1" cy="905.2" r="3.1"/>
<circle cx="841.2" cy="905.9" r="3.1"/>
<circle cx="815.4" cy="887.6" r="3.1"/>
<circle cx="820.4" cy="889.5" r="3.1"/>
<circle cx="840.2" cy="908.7" r="3.1"/>
<circle cx="817.9" cy="891.2" r="3.1"/>
<circle cx="814.3" cy="890.5" r="3.1"/>
<circle cx="813.2" cy="886.4" r="3.1"/>
<circle cx="829.4" cy="895.3" r="3.1"/>
<circle cx="813.5" cy="904.6" r="3.1"/>
<circle cx="824.6" cy="885.8" r="3.1"/>
<circle cx="826.3" cy="882.9" r="3.1"/>
<circle cx="829.1" cy="886.0" r="3.1"/>
<circle cx="831.0" cy="895.1" r="3.1"/>
<circle cx="828.3" cy="891.8" r="3.1"/>
<circle cx="815.3" cy="893.6" r="3.1"/>
<circle cx="812.1" cy="896.2" r="3.1"/>
<circle cx="805.3" cy="893.4" r="3.1"/>
<circle cx="806.5" cy="897.3" r="3.1"/>
<circle cx="804.5" cy="902.5" r="3.1"/>
<circle cx="809.4" cy="895.6" r="3.1"/>
<circle cx="822.7" cy="866.5" r="3.1"/>
<circle cx="821.7" cy="868.6" r="3.1"/>
<circle cx="822.0" cy="868.4" r="3.1"/>
<circle cx="834.9" cy="869.3" r="3.1"/>
<circle cx="837.3" cy="868.5" r="3.1"/>
<circle cx="839.3" cy="867.9" r="3.1"/>
<circle cx="891.7" cy="897.3" r="3.1"/>
<circle cx="892.7" cy="894.5" r="3.1"/>
<circle cx="888.7" cy="894.9" r="3.1"/>
<circle cx="888.9" cy="894.8" r="3.1"/>
<circle cx="892.5" cy="918.0" r="3.1"/>
<circle cx="891.8" cy="918.5" r="3.1"/>
<circle cx="901.5" cy="915.1" r="3.1"/>
<circle cx="898.2" cy="915.5" r="3.1"/>
<circle cx="889.5" cy="911.0" r="3.1"/>
<circle cx="896.0" cy="908.2" r="3.1"/>
<circle cx="900.2" cy="917.6" r="3.1"/>
<circle cx="891.5" cy="914.4" r="3.1"/>
<circle cx="895.9" cy="918.5" r="3.1"/>
<circle cx="903.5" cy="913.1" r="3.1"/>
<circle cx="900.6" cy="916.4" r="3.1"/>
<circle cx="899.6" cy="909.1" r="3.1"/>
<circle cx="892.2" cy="910.4" r="3.1"/>
<circle cx="893.4" cy="915.9" r="3.1"/>
<circle cx="899.7" cy="913.5" r="3.1"/>
<circle cx="912.3" cy="922.9" r="3.1"/>
<circle cx="910.3" cy="922.1" r="3.1"/>
<circle cx="909.1" cy="926.5" r="3.1"/>
<circle cx="914.6" cy="924.7" r="3.1"/>
<circle cx="914.3" cy="921.4" r="3.1"/>
<circle cx="933.3" cy="920.1" r="3.1"/>
<circle cx="932.0" cy="920.2" r="3.1"/>
<circle cx="933.6" cy="924.4" r="3.1"/>
<circle cx="927.6" cy="917.2" r="3.1"/>
<circle cx="932.0" cy="917.2" r="3.1"/>
<circle cx="936.0" cy="918.7" r="3.1"/>
<circle cx="927.8" cy="923.2" r="3.1"/>
<circle cx="928.7" cy="915.9" r="3.1"/>
<circle cx="840.2" cy="846.0" r="3.1"/>
<circle cx="838.9" cy="838.7" r="3.1"/>
<circle cx="838.6" cy="842.1" r="3.1"/>
<circle cx="701.7" cy="781.5" r="3.1"/>
<circle cx="716.0" cy="787.0" r="3.1"/>
<circle cx="781.5" cy="845.7" r="3.1"/>
<circle cx="476.7" cy="912.5" r="3.1"/>
<circle cx="479.0" cy="917.5" r="3.1"/>
<circle cx="491.0" cy="917.5" r="3.1"/>
<circle cx="489.0" cy="916.0" r="3.1"/>
</g>
<g fill="#8c564b" fill-opacity="0.9">
<circle cx="450.6" cy="936.5" r="3.1"/>
<circle cx="446.6" cy="937.8" r="3.1"/>
<circle cx="436.0" cy="939.3" r="3.1"/>
<circle cx="440.2" cy="939.5" r="3.1"/>
<circle cx="432.9" cy="936.2" r="3.1"/>
<circle cx="435.0" cy="932.6" r="3.1"/>
<circle cx="447.9" cy="922.5" r="3.1"/>
<circle cx="430.6" cy="924.4" r="3.1"/>
<circle cx="445.0" cy="914.3" r="3.1"/>
<circle cx="471.4" cy="923.3" r="3.1"/>
<circle cx="438.5" cy="920.5" r="3.1"/>
<circle cx="434.4" cy="921.2" r="3.1"/>
<circle cx="429.5" cy="940.8" r="3.1"/>
<circle cx="469.7" cy="933.5" r="3.1"/>
<circle cx="465.5" cy="933.3" r="3.1"/>
<circle cx="452.7" cy="934.1" r="3.1"/>
<circle cx="426.4" cy="937.9" r="3.1"/>
<circle cx="475.3" cy="935.6" r="3.1"/>
<circle cx="473.5" cy="931.8" r="3.1"/>
<circle cx="453.3" cy="936.7" r="3.1"/>
<circle cx="456.5" cy="919.7" r="3.1"/>
<circle cx="450.3" cy="914.7" r="3.1"/>
<circle cx="451.2" cy="918.8" r="3.1"/>
<circle cx="472.2" cy="931.9" r="3.1"/>
<circle cx="442.8" cy="925.6" r="3.1"/>
<circle cx="444.0" cy="937.6" r="3.1"/>
<circle cx="440.1" cy="939.2" r="3.1"/>
<circle cx="442.7" cy="937.2" r="3.1"/>
<circle cx="424.9" cy="924.2" r="3.1"/>
<circle cx="426.2" cy="920.3" r="3.1"/>
<circle cx="446.6" cy="936.6" r="3.1"/>
<circle cx="433.1" cy="925.3" r="3.1"/>
<circle cx="433.3" cy="929.5" r="3.1"/>
<circle cx="429.7" cy="942.7" r="3.1"/>
<circle cx="458.7" cy="938.0" r="3.1"/>
<circle cx="461.1" cy="928.7" r="3.1"/>
<circle cx="464.7" cy="926.6" r="3.1"/>
<circle cx="469.5" cy="921.3" r="3.1"/>
<circle cx="426.2" cy="935.7" r="3.1"/>
<circle cx="468.9" cy="929.3" r="3.1"/>
<circle cx="465.0" cy="930.7" r="3.1"/>
<circle cx="427.8" cy="934.6" r="3.1"/>
<circle cx="488.8" cy="919.8" r="3.1"/>
<circle cx="433.8" cy="930.4" r="3.1"/>
<circle cx="465.7" cy="930.0" r="3.1"/>
<circle cx="432.4" cy="920.7" r="3.1"/>
<circle cx="428.2" cy="920.3" r="3.1"/>
<circle cx="485.5" cy="924.5" r="3.1"/>
<circle cx="486.6" cy="928.5" r="3.1"/>
<circle cx="456.4" cy="929.1" r="3.1"/>
<circle cx="486.1" cy="917.6" r="3.1"/>
<circle cx="473.5" cy="932.6" r="3.1"/>
<circle cx="438.6" cy="942.0" r="3.1"/>
<circle cx="435.2" cy="944.5" r="3.1"/>
<circle cx="450.8" cy="946.0" r="3.1"/>
<circle cx="452.7" cy="942.3" r="3.1"/>
<circle cx="448.3" cy="945.0" r="3.1"/>
<circle cx="447.6" cy="949.1" r="3.1"/>
<circle cx="449.2" cy="937.9" r="3.1"/>
<circle cx="447.2" cy="971.0" r="3.1"/>
<circle cx="436.6" cy="961.1" r="3.1"/>
<circle cx="447.6" cy="957.0" r="3.1"/>
<circle cx="443.4" cy="957.3" r="3.1"/>
<circle cx="456.9" cy="942.8" r="3.1"/>
<circle cx="453.7" cy="960.0" r="3.1"/>
<circle cx="455.7" cy="963.7" r="3.1"/>
<circle cx="446.8" cy="970.0" r="3.1"/>
<circle cx="455.6" cy="953.7" r="3.1"/>
<circle cx="452.1" cy="966.4" r="3.1"/>
<circle cx="438.2" cy="963.5" r="3.1"/>
<circle cx="449.9" cy="964.7" r="3.1"/>
<circle cx="462.9" cy="945.3" r="3.1"/>
<circle cx="448.3" cy="959.0" r="3.1"/>
<circle cx="449.9" cy="954.0" r="3.1"/>
<circle cx="436.9" cy="943.6" r="3.1"/>
<circle cx="462.5" cy="952.9" r="3.1"/>
<circle cx="443.4" cy="962.0" r="3.1"/>
<circle cx="455.1" cy="952.2" r="3.1"/>
<circle cx="458.9" cy="953.9" r="3.1"/>
<circle cx="437.7" cy="942.8" r="3.1"/>
<circle cx="457.2" cy="947.4" r="3.1"/>
<circle cx="427.7" cy="973.9" r="3.1"/>
<circle cx="431.5" cy="970.2" r="3.1"/>
<circle cx="427.0" cy="947.9" r="3.1"/>
<circle cx="417.7" cy="962.2" r="3.1"/>
<circle cx="414.1" cy="964.5" r="3.1"/>
<circle cx="415.4" cy="971.8" r="3.1"/>
<circle cx="419.6" cy="971.8" r="3.1"/>
<circle cx="420.7" cy="971.0" r="3.1"/>
<circle cx="424.6" cy="969.6" r="3.1"/>
<circle cx="424.8" cy="951.7" r="3.1"/>
<circle cx="415.0" cy="965.5" r="3.1"/>
<circle cx="419.1" cy="964.6" r="3.1"/>
<circle cx="428.4" cy="964.7" r="3.1"/>
<circle cx="424.9" cy="967.1" r="3.1"/>
<circle cx="409.1" cy="953.2" r="3.1"/>
<circle cx="412.2" cy="950.4" r="3.1"/>
<circle cx="430.0" cy="965.2" r="3.1"/>
<circle cx="419.9" cy="954.5" r="3.1"/>
<circle cx="415.7" cy="954.2" r="3.1"/>
<circle cx="421.6" cy="984.2" r="3.1"/>
<circle cx="425.6" cy="963.5" r="3.1"/>
<circle cx="425.6" cy="964.3" r="3.1"/>
<circle cx="416.4" cy="964.3" r="3.1"/>
<circle cx="423.1" cy="987.5" r="3.1"/>
<circle cx="426.2" cy="949.9" r="3.1"/>
<circle cx="434.5" cy="964.7" r="3.1"/>
<circle cx="432.3" cy="961.2" r="3.1"/>
<circle cx="411.0" cy="958.5" r="3.1"/>
<circle cx="423.0" cy="956.2" r="3.1"/>
<circle cx="419.2" cy="957.9" r="3.1"/>
<circle cx="429.5" cy="954.4" r="3.1"/>
<circle cx="420.5" cy="983.6" r="3.1"/>
<circle cx="424.0" cy="985.9" r="3.1"/>
<circle cx="433.7" cy="958.4" r="3.1"/>
<circle cx="437.8" cy="959.3" r="3.1"/>
<circle cx="427.6" cy="952.8" r="3.1"/>
<circle cx="427.8" cy="948.6" r="3.1"/>
<circle cx="418.3" cy="956.9" r="3.1"/>
<circle cx="433.7" cy="967.6" r="3.1"/>
<circle cx="431.9" cy="956.7" r="3.1"/>
<circle cx="432.5" cy="960.8" r="3.1"/>
<circle cx="408.8" cy="958.1" r="3.1"/>
<circle cx="407.1" cy="961.9" r="3.1"/>
<circle cx="413.7" cy="957.8" r="3.1"/>
<circle cx="413.0" cy="953.7" r="3.1"/>
<circle cx="424.8" cy="974.0" r="3.1"/>
<circle cx="539.3" cy="865.7" r="3.1"/>
<circle cx="529.6" cy="863.3" r="3.1"/>
<circle cx="545.3" cy="858.9" r="3.1"/>
<circle cx="537.8" cy="862.4" r="3.1"/>
<circle cx="544.1" cy="861.5" r="3.1"/>
<circle cx="545.0" cy="860.1" r="3.1"/>
<circle cx="536.0" cy="864.8" r="3.1"/>
<circle cx="543.6" cy="862.5" r="3.1"/>
<circle cx="542.2" cy="864.5" r="3.1"/>
<circle cx="540.1" cy="864.1" r="3.1"/>
<circle cx="534.5" cy="859.7" r="3.1"/>
<circle cx="540.2" cy="859.3" r="3.1"/>
<circle cx="459.0" cy="912.0" r="3.1"/>
<circle cx="498.0" cy="888.0" r="3.1"/>
<circle cx="485.0" cy="925.0" r="3.1"/>
<circle cx="478.0" cy="931.0" r="3.1"/>
<circle cx="488.0" cy="942.5" r="3.1"/>
<circle cx="486.0" cy="996.0" r="3.1"/>
<circle cx="522.0" cy="976.0" r="3.1"/>
<circle cx="576.0" cy="963.0" r="3.1"/>
<circle cx="506.0" cy="997.0" r="3.1"/>
<circle cx="513.0" cy="997.0" r="3.1"/>
<circle cx="573.5" cy="835.0" r="3.1"/>
<circle cx="488.0" cy="950.0" r="3.1"/>
</g>
<g fill="#e377c2" fill-opacity="0.9">
<circle cx="718.0" cy="1002.8" r="3.1"/>
<circle cx="719.1" cy="1006.9" r="3.1"/>
<circle cx="697.9" cy="1009.9" r="3.1"/>
<circle cx="698.9" cy="1014.0" r="3.1"/>
<circle cx="681.0" cy="956.6" r="3.1"/>
<circle cx="684.3" cy="959.1" r="3.1"/>
<circle cx="819.3" cy="981.3" r="3.1"/>
<circle cx="822.0" cy="984.5" r="3.1"/>
<circle cx="765.7" cy="1039.3" r="3.1"/>
<circle cx="789.2" cy="940.9" r="3.1"/>
<circle cx="740.2" cy="944.9" r="3.1"/>
<circle cx="736.4" cy="943.1" r="3.1"/>
<circle cx="681.3" cy="985.4" r="3.1"/>
<circle cx="678.2" cy="988.3" r="3.1"/>
<circle cx="672.6" cy="976.5" r="3.1"/>
<circle cx="669.0" cy="978.8" r="3.1"/>
<circle cx="665.6" cy="968.8" r="3.1"/>
<circle cx="669.7" cy="967.8" r="3.1"/>
<circle cx="813.9" cy="1029.4" r="3.1"/>
<circle cx="758.5" cy="944.1" r="3.1"/>
<circle cx="759.2" cy="948.3" r="3.1"/>
<circle cx="668.0" cy="1021.1" r="3.1"/>
<circle cx="670.7" cy="1017.9" r="3.1"/>
<circle cx="806.8" cy="967.1" r="3.1"/>
<circle cx="698.7" cy="940.4" r="3.1"/>
<circle cx="694.7" cy="941.8" r="3.1"/>
<circle cx="732.0" cy="1035.9" r="3.1"/>
<circle cx="728.0" cy="1037.1" r="3.1"/>
<circle cx="706.0" cy="930.7" r="3.1"/>
<circle cx="702.7" cy="928.1" r="3.1"/>
<circle cx="755.2" cy="985.5" r="3.1"/>
<circle cx="792.6" cy="965.4" r="3.1"/>
<circle cx="766.9" cy="982.9" r="3.1"/>
<circle cx="744.1" cy="1000.0" r="3.1"/>
<circle cx="749.2" cy="935.5" r="3.1"/>
<circle cx="674.7" cy="1016.5" r="3.1"/>
<circle cx="692.2" cy="1031.3" r="3.1"/>
<circle cx="806.7" cy="943.7" r="3.1"/>
<circle cx="810.5" cy="945.4" r="3.1"/>
<circle cx="798.9" cy="955.3" r="3.1"/>
<circle cx="797.8" cy="959.3" r="3.1"/>
<circle cx="792.1" cy="973.6" r="3.1"/>
<circle cx="730.2" cy="1001.2" r="3.1"/>
<circle cx="732.7" cy="997.8" r="3.1"/>
<circle cx="777.1" cy="991.0" r="3.1"/>
<circle cx="735.1" cy="1038.1" r="3.1"/>
<circle cx="730.9" cy="1037.8" r="3.1"/>
<circle cx="663.6" cy="1002.2" r="3.1"/>
<circle cx="664.2" cy="1006.4" r="3.1"/>
<circle cx="766.6" cy="1013.0" r="3.1"/>
<circle cx="770.7" cy="1012.3" r="3.1"/>
<circle cx="729.1" cy="965.9" r="3.1"/>
<circle cx="726.0" cy="968.7" r="3.1"/>
<circle cx="688.7" cy="982.9" r="3.1"/>
<circle cx="692.2" cy="985.3" r="3.1"/>
<circle cx="725.2" cy="1060.1" r="3.1"/>
<circle cx="689.5" cy="953.8" r="3.1"/>
<circle cx="724.5" cy="1050.8" r="3.1"/>
<circle cx="721.8" cy="1047.6" r="3.1"/>
<circle cx="703.4" cy="1025.1" r="3.1"/>
<circle cx="732.6" cy="962.7" r="3.1"/>
<circle cx="818.6" cy="967.9" r="3.1"/>
<circle cx="795.3" cy="990.9" r="3.1"/>
<circle cx="715.7" cy="1008.0" r="3.1"/>
<circle cx="753.6" cy="1050.2" r="3.1"/>
<circle cx="753.3" cy="1046.0" r="3.1"/>
<circle cx="710.2" cy="1049.3" r="3.1"/>
<circle cx="714.0" cy="1047.6" r="3.1"/>
<circle cx="675.3" cy="1032.9" r="3.1"/>
<circle cx="746.6" cy="1024.9" r="3.1"/>
<circle cx="668.5" cy="974.9" r="3.1"/>
<circle cx="665.2" cy="972.3" r="3.1"/>
<circle cx="697.0" cy="1000.9" r="3.1"/>
<circle cx="700.9" cy="1002.3" r="3.1"/>
<circle cx="748.9" cy="1021.7" r="3.1"/>
<circle cx="751.8" cy="1018.6" r="3.1"/>
<circle cx="653.3" cy="980.9" r="3.1"/>
<circle cx="715.4" cy="1003.9" r="3.1"/>
<circle cx="744.2" cy="986.7" r="3.1"/>
<circle cx="748.2" cy="987.9" r="3.1"/>
<circle cx="731.7" cy="1033.4" r="3.1"/>
<circle cx="744.8" cy="961.2" r="3.1"/>
<circle cx="748.2" cy="958.7" r="3.1"/>
<circle cx="780.0" cy="1016.1" r="3.1"/>
<circle cx="780.4" cy="1020.3" r="3.1"/>
<circle cx="685.4" cy="1042.4" r="3.1"/>
<circle cx="792.0" cy="1037.9" r="3.1"/>
<circle cx="795.1" cy="1040.8" r="3.1"/>
<circle cx="723.3" cy="1005.2" r="3.1"/>
<circle cx="726.3" cy="1008.1" r="3.1"/>
<circle cx="747.0" cy="940.8" r="3.1"/>
<circle cx="744.4" cy="937.5" r="3.1"/>
<circle cx="803.4" cy="1045.5" r="3.1"/>
<circle cx="800.6" cy="967.5" r="3.1"/>
<circle cx="692.2" cy="1004.7" r="3.1"/>
<circle cx="690.0" cy="1008.3" r="3.1"/>
<circle cx="669.2" cy="954.0" r="3.1"/>
<circle cx="666.7" cy="950.6" r="3.1"/>
<circle cx="670.1" cy="983.4" r="3.1"/>
<circle cx="674.2" cy="982.5" r="3.1"/>
<circle cx="678.0" cy="975.9" r="3.1"/>
<circle cx="681.7" cy="977.9" r="3.1"/>
<circle cx="668.1" cy="1010.2" r="3.1"/>
<circle cx="663.9" cy="1009.5" r="3.1"/>
<circle cx="692.8" cy="1033.6" r="3.1"/>
<circle cx="770.3" cy="980.3" r="3.1"/>
<circle cx="767.3" cy="983.2" r="3.1"/>
<circle cx="674.4" cy="1043.2" r="3.1"/>
<circle cx="678.2" cy="1045.0" r="3.1"/>
<circle cx="749.1" cy="968.7" r="3.1"/>
<circle cx="795.0" cy="955.9" r="3.1"/>
<circle cx="794.2" cy="951.8" r="3.1"/>
<circle cx="827.9" cy="977.4" r="3.1"/>
<circle cx="825.9" cy="981.1" r="3.1"/>
<circle cx="686.2" cy="971.0" r="3.1"/>
<circle cx="689.7" cy="968.7" r="3.1"/>
<circle cx="704.5" cy="989.2" r="3.1"/>
<circle cx="704.7" cy="985.0" r="3.1"/>
<circle cx="656.5" cy="983.0" r="3.1"/>
<circle cx="817.2" cy="940.6" r="3.1"/>
<circle cx="814.7" cy="943.9" r="3.1"/>
<circle cx="820.9" cy="972.7" r="3.1"/>
<circle cx="696.8" cy="1031.4" r="3.1"/>
<circle cx="820.1" cy="1026.4" r="3.1"/>
<circle cx="703.2" cy="1007.7" r="3.1"/>
<circle cx="798.7" cy="1026.7" r="3.1"/>
<circle cx="800.6" cy="1030.5" r="3.1"/>
<circle cx="781.0" cy="1020.3" r="3.1"/>
<circle cx="678.1" cy="1038.9" r="3.1"/>
<circle cx="679.1" cy="1042.9" r="3.1"/>
<circle cx="697.5" cy="1051.0" r="3.1"/>
<circle cx="701.7" cy="1050.3" r="3.1"/>
<circle cx="810.7" cy="1036.2" r="3.1"/>
<circle cx="802.5" cy="1032.7" r="3.1"/>
<circle cx="805.6" cy="1029.9" r="3.1"/>
<circle cx="790.5" cy="1033.1" r="3.1"/>
<circle cx="719.3" cy="1045.0" r="3.1"/>
<circle cx="689.4" cy="1018.4" r="3.1"/>
<circle cx="742.4" cy="1019.5" r="3.1"/>
<circle cx="783.6" cy="954.5" r="3.1"/>
<circle cx="786.1" cy="951.1" r="3.1"/>
<circle cx="711.6" cy="1015.5" r="3.1"/>
<circle cx="709.8" cy="1019.3" r="3.1"/>
<circle cx="686.0" cy="1059.3" r="3.1"/>
<circle cx="775.1" cy="1046.4" r="3.1"/>
<circle cx="779.3" cy="1046.2" r="3.1"/>
<circle cx="690.9" cy="1052.6" r="3.1"/>
<circle cx="693.2" cy="1056.1" r="3.1"/>
<circle cx="667.3" cy="966.3" r="3.1"/>
<circle cx="807.6" cy="996.6" r="3.1"/>
<circle cx="804.4" cy="999.3" r="3.1"/>
<circle cx="803.9" cy="1010.9" r="3.1"/>
<circle cx="821.3" cy="987.8" r="3.1"/>
<circle cx="820.7" cy="992.0" r="3.1"/>
<circle cx="690.5" cy="964.9" r="3.1"/>
<circle cx="687.8" cy="961.7" r="3.1"/>
<circle cx="826.7" cy="1025.1" r="3.1"/>
<circle cx="678.7" cy="945.3" r="3.1"/>
<circle cx="678.7" cy="949.5" r="3.1"/>
<circle cx="795.8" cy="990.2" r="3.1"/>
<circle cx="795.0" cy="986.1" r="3.1"/>
<circle cx="696.9" cy="968.4" r="3.1"/>
<circle cx="799.0" cy="1025.6" r="3.1"/>
<circle cx="796.0" cy="1022.7" r="3.1"/>
<circle cx="734.0" cy="1014.3" r="3.1"/>
<circle cx="738.1" cy="1013.6" r="3.1"/>
<circle cx="749.9" cy="939.3" r="3.1"/>
<circle cx="749.6" cy="943.5" r="3.1"/>
<circle cx="746.3" cy="949.4" r="3.1"/>
<circle cx="742.1" cy="949.5" r="3.1"/>
<circle cx="752.2" cy="1040.5" r="3.1"/>
<circle cx="756.3" cy="1041.1" r="3.1"/>
<circle cx="786.9" cy="946.9" r="3.1"/>
<circle cx="790.1" cy="944.1" r="3.1"/>
<circle cx="699.5" cy="950.4" r="3.1"/>
<circle cx="695.4" cy="951.1" r="3.1"/>
<circle cx="769.9" cy="955.5" r="3.1"/>
<circle cx="768.4" cy="959.4" r="3.1"/>
<circle cx="679.0" cy="1043.1" r="3.1"/>
<circle cx="763.4" cy="995.9" r="3.1"/>
<circle cx="819.6" cy="951.7" r="3.1"/>
<circle cx="663.7" cy="971.7" r="3.1"/>
<circle cx="662.7" cy="967.6" r="3.1"/>
<circle cx="665.6" cy="953.4" r="3.1"/>
<circle cx="666.7" cy="1001.7" r="3.1"/>
<circle cx="715.8" cy="1053.0" r="3.1"/>
<circle cx="712.4" cy="1055.3" r="3.1"/>
<circle cx="720.4" cy="981.8" r="3.1"/>
<circle cx="745.9" cy="1022.6" r="3.1"/>
<circle cx="785.3" cy="953.1" r="3.1"/>
<circle cx="782.5" cy="949.9" r="3.1"/>
<circle cx="691.2" cy="1031.6" r="3.1"/>
<circle cx="662.8" cy="1032.3" r="3.1"/>
<circle cx="660.6" cy="1028.7" r="3.1"/>
<circle cx="697.0" cy="1016.0" r="3.1"/>
<circle cx="693.4" cy="1018.2" r="3.1"/>
<circle cx="657.7" cy="992.2" r="3.1"/>
<circle cx="679.2" cy="1038.9" r="3.1"/>
<circle cx="683.0" cy="1040.7" r="3.1"/>
<circle cx="680.6" cy="984.7" r="3.1"/>
<circle cx="676.4" cy="985.2" r="3.1"/>
<circle cx="699.3" cy="970.0" r="3.1"/>
<circle cx="761.4" cy="935.0" r="3.1"/>
<circle cx="761.9" cy="939.1" r="3.1"/>
<circle cx="782.2" cy="991.6" r="3.1"/>
<circle cx="690.0" cy="969.0" r="3.1"/>
<circle cx="728.2" cy="1003.0" r="3.1"/>
<circle cx="755.9" cy="1038.1" r="3.1"/>
<circle cx="756.0" cy="1033.9" r="3.1"/>
<circle cx="778.2" cy="942.9" r="3.1"/>
<circle cx="704.9" cy="980.9" r="3.1"/>
<circle cx="702.1" cy="984.1" r="3.1"/>
<circle cx="699.1" cy="1047.3" r="3.1"/>
<circle cx="681.7" cy="1026.2" r="3.1"/>
<circle cx="733.5" cy="1043.3" r="3.1"/>
<circle cx="729.4" cy="1044.4" r="3.1"/>
<circle cx="772.8" cy="958.5" r="3.1"/>
<circle cx="808.4" cy="972.6" r="3.1"/>
<circle cx="808.7" cy="989.4" r="3.1"/>
<circle cx="812.0" cy="986.8" r="3.1"/>
<circle cx="797.8" cy="1020.1" r="3.1"/>
<circle cx="803.6" cy="944.0" r="3.1"/>
<circle cx="803.9" cy="948.2" r="3.1"/>
<circle cx="778.6" cy="1024.0" r="3.1"/>
<circle cx="758.5" cy="1042.7" r="3.1"/>
<circle cx="759.2" cy="1038.5" r="3.1"/>
<circle cx="679.3" cy="956.4" r="3.1"/>
<circle cx="687.3" cy="1032.4" r="3.1"/>
<circle cx="684.4" cy="1035.5" r="3.1"/>
<circle cx="662.3" cy="977.0" r="3.1"/>
<circle cx="663.8" cy="980.9" r="3.1"/>
<circle cx="670.2" cy="957.3" r="3.1"/>
<circle cx="730.2" cy="937.6" r="3.1"/>
<circle cx="733.1" cy="940.7" r="3.1"/>
<circle cx="717.4" cy="948.2" r="3.1"/>
<circle cx="758.8" cy="936.2" r="3.1"/>
<circle cx="814.7" cy="954.0" r="3.1"/>
<circle cx="663.5" cy="977.0" r="3.1"/>
<circle cx="667.6" cy="978.1" r="3.1"/>
<circle cx="672.3" cy="993.7" r="3.1"/>
<circle cx="668.7" cy="995.9" r="3.1"/>
<circle cx="729.4" cy="968.5" r="3.1"/>
<circle cx="728.7" cy="964.4" r="3.1"/>
<circle cx="659.3" cy="959.6" r="3.1"/>
<circle cx="803.9" cy="940.3" r="3.1"/>
<circle cx="693.3" cy="991.0" r="3.1"/>
<circle cx="673.1" cy="1007.9" r="3.1"/>
<circle cx="663.8" cy="947.4" r="3.1"/>
<circle cx="663.9" cy="951.6" r="3.1"/>
<circle cx="709.9" cy="956.2" r="3.1"/>
<circle cx="684.8" cy="981.6" r="3.1"/>
<circle cx="689.6" cy="1013.8" r="3.1"/>
<circle cx="701.4" cy="1024.8" r="3.1"/>
<circle cx="697.2" cy="1024.1" r="3.1"/>
<circle cx="713.5" cy="1057.0" r="3.1"/>
<circle cx="730.3" cy="931.0" r="3.1"/>
<circle cx="727.5" cy="934.1" r="3.1"/>
<circle cx="725.3" cy="930.3" r="3.1"/>
<circle cx="723.3" cy="926.6" r="3.1"/>
<circle cx="804.7" cy="959.3" r="3.1"/>
<circle cx="803.1" cy="955.4" r="3.1"/>
<circle cx="701.4" cy="958.6" r="3.1"/>
<circle cx="689.8" cy="1029.3" r="3.1"/>
<circle cx="689.3" cy="1033.5" r="3.1"/>
<circle cx="708.6" cy="942.0" r="3.1"/>
<circle cx="712.8" cy="941.2" r="3.1"/>
<circle cx="662.7" cy="1010.8" r="3.1"/>
<circle cx="807.3" cy="964.7" r="3.1"/>
<circle cx="807.6" cy="968.9" r="3.1"/>
<circle cx="703.1" cy="975.5" r="3.1"/>
<circle cx="771.2" cy="1004.4" r="3.1"/>
<circle cx="741.9" cy="1042.3" r="3.1"/>
<circle cx="737.9" cy="1043.7" r="3.1"/>
<circle cx="748.7" cy="1050.7" r="3.1"/>
<circle cx="752.4" cy="1048.7" r="3.1"/>
<circle cx="712.6" cy="927.4" r="3.1"/>
<circle cx="713.0" cy="950.5" r="3.1"/>
<circle cx="734.7" cy="1051.9" r="3.1"/>
<circle cx="655.5" cy="1020.4" r="3.1"/>
<circle cx="739.1" cy="928.0" r="3.1"/>
<circle cx="735.3" cy="926.1" r="3.1"/>
<circle cx="711.4" cy="1017.3" r="3.1"/>
<circle cx="679.3" cy="1021.2" r="3.1"/>
<circle cx="820.9" cy="980.3" r="3.1"/>
<circle cx="753.3" cy="972.9" r="3.1"/>
<circle cx="749.2" cy="1055.6" r="3.1"/>
<circle cx="752.3" cy="1052.8" r="3.1"/>
<circle cx="668.7" cy="1003.1" r="3.1"/>
<circle cx="776.5" cy="1047.6" r="3.1"/>
<circle cx="804.7" cy="998.5" r="3.1"/>
<circle cx="801.6" cy="995.6" r="3.1"/>
<circle cx="680.8" cy="1059.8" r="3.1"/>
<circle cx="708.1" cy="1015.1" r="3.1"/>
<circle cx="699.1" cy="981.4" r="3.1"/>
<circle cx="702.8" cy="973.5" r="3.1"/>
<circle cx="705.4" cy="976.7" r="3.1"/>
<circle cx="698.3" cy="1058.0" r="3.1"/>
<circle cx="700.7" cy="1054.6" r="3.1"/>
<circle cx="666.9" cy="943.7" r="3.1"/>
<circle cx="671.1" cy="944.1" r="3.1"/>
<circle cx="775.2" cy="1009.3" r="3.1"/>
<circle cx="777.3" cy="1005.7" r="3.1"/>
<circle cx="663.1" cy="988.5" r="3.1"/>
<circle cx="659.5" cy="990.6" r="3.1"/>
<circle cx="670.4" cy="1036.7" r="3.1"/>
<circle cx="667.0" cy="1039.1" r="3.1"/>
<circle cx="654.0" cy="971.9" r="3.1"/>
<circle cx="740.6" cy="933.0" r="3.1"/>
<circle cx="740.9" cy="937.2" r="3.1"/>
<circle cx="802.2" cy="962.3" r="3.1"/>
<circle cx="757.7" cy="1026.1" r="3.1"/>
<circle cx="754.9" cy="1029.2" r="3.1"/>
<circle cx="800.5" cy="954.0" r="3.1"/>
<circle cx="714.4" cy="933.7" r="3.1"/>
<circle cx="712.5" cy="937.5" r="3.1"/>
<circle cx="747.1" cy="1045.3" r="3.1"/>
<circle cx="661.0" cy="1016.2" r="3.1"/>
<circle cx="761.1" cy="1020.1" r="3.1"/>
<circle cx="761.6" cy="1024.2" r="3.1"/>
<circle cx="713.9" cy="933.4" r="3.1"/>
<circle cx="785.7" cy="973.6" r="3.1"/>
<circle cx="788.2" cy="970.2" r="3.1"/>
<circle cx="804.1" cy="1023.1" r="3.1"/>
<circle cx="819.3" cy="1012.8" r="3.1"/>
<circle cx="823.3" cy="1011.6" r="3.1"/>
<circle cx="790.2" cy="973.7" r="3.1"/>
<circle cx="788.9" cy="977.7" r="3.1"/>
<circle cx="790.1" cy="1000.4" r="3.1"/>
<circle cx="683.5" cy="1023.1" r="3.1"/>
<circle cx="686.6" cy="1026.0" r="3.1"/>
<circle cx="687.0" cy="967.3" r="3.1"/>
<circle cx="804.2" cy="974.4" r="3.1"/>
<circle cx="777.6" cy="999.1" r="3.1"/>
<circle cx="662.3" cy="989.9" r="3.1"/>
<circle cx="661.0" cy="968.6" r="3.1"/>
<circle cx="715.0" cy="932.6" r="3.1"/>
<circle cx="728.3" cy="987.0" r="3.1"/>
<circle cx="726.2" cy="983.3" r="3.1"/>
<circle cx="686.6" cy="996.6" r="3.1"/>
<circle cx="726.9" cy="931.2" r="3.1"/>
<circle cx="747.9" cy="1041.8" r="3.1"/>
<circle cx="752.0" cy="1040.8" r="3.1"/>
<circle cx="708.2" cy="1034.4" r="3.1"/>
<circle cx="711.6" cy="1036.8" r="3.1"/>
<circle cx="741.4" cy="1020.8" r="3.1"/>
<circle cx="744.0" cy="1024.1" r="3.1"/>
<circle cx="797.2" cy="948.2" r="3.1"/>
<circle cx="801.4" cy="948.0" r="3.1"/>
<circle cx="688.2" cy="997.6" r="3.1"/>
<circle cx="769.2" cy="980.2" r="3.1"/>
<circle cx="771.1" cy="983.9" r="3.1"/>
<circle cx="777.9" cy="1013.7" r="3.1"/>
<circle cx="773.9" cy="1014.9" r="3.1"/>
<circle cx="702.7" cy="990.0" r="3.1"/>
<circle cx="702.9" cy="994.2" r="3.1"/>
<circle cx="710.7" cy="1049.2" r="3.1"/>
<circle cx="798.5" cy="987.4" r="3.1"/>
<circle cx="799.5" cy="991.5" r="3.1"/>
<circle cx="663.0" cy="991.6" r="3.1"/>
<circle cx="664.4" cy="987.6" r="3.1"/>
<circle cx="663.2" cy="978.5" r="3.1"/>
<circle cx="716.4" cy="974.7" r="3.1"/>
<circle cx="720.2" cy="973.0" r="3.1"/>
<circle cx="807.3" cy="956.1" r="3.1"/>
<circle cx="810.3" cy="959.0" r="3.1"/>
<circle cx="673.1" cy="1058.7" r="3.1"/>
<circle cx="760.3" cy="983.6" r="3.1"/>
<circle cx="756.1" cy="983.0" r="3.1"/>
<circle cx="686.0" cy="962.1" r="3.1"/>
<circle cx="681.9" cy="962.6" r="3.1"/>
<circle cx="806.0" cy="963.9" r="3.1"/>
<circle cx="807.2" cy="967.9" r="3.1"/>
<circle cx="677.8" cy="1030.0" r="3.1"/>
<circle cx="736.6" cy="995.7" r="3.1"/>
<circle cx="741.2" cy="950.0" r="3.1"/>
<circle cx="664.6" cy="1021.5" r="3.1"/>
<circle cx="660.7" cy="1023.0" r="3.1"/>
<circle cx="741.5" cy="967.5" r="3.1"/>
<circle cx="743.9" cy="964.0" r="3.1"/>
<circle cx="748.1" cy="976.7" r="3.1"/>
<circle cx="751.8" cy="978.7" r="3.1"/>
<circle cx="817.3" cy="1030.4" r="3.1"/>
<circle cx="821.2" cy="1032.0" r="3.1"/>
<circle cx="746.2" cy="941.7" r="3.1"/>
<circle cx="739.9" cy="977.0" r="3.1"/>
<circle cx="749.8" cy="983.6" r="3.1"/>
<circle cx="820.5" cy="990.9" r="3.1"/>
<circle cx="671.7" cy="1033.3" r="3.1"/>
<circle cx="671.3" cy="1037.4" r="3.1"/>
<circle cx="774.9" cy="947.1" r="3.1"/>
<circle cx="771.0" cy="945.6" r="3.1"/>
<circle cx="702.6" cy="1017.9" r="3.1"/>
<circle cx="705.2" cy="1021.2" r="3.1"/>
<circle cx="739.1" cy="1004.5" r="3.1"/>
<circle cx="819.1" cy="970.0" r="3.1"/>
<circle cx="799.5" cy="1034.5" r="3.1"/>
<circle cx="803.0" cy="1032.1" r="3.1"/>
<circle cx="799.3" cy="1009.3" r="3.1"/>
<circle cx="652.4" cy="987.6" r="3.1"/>
<circle cx="755.0" cy="935.8" r="3.1"/>
<circle cx="757.5" cy="932.5" r="3.1"/>
<circle cx="770.6" cy="980.0" r="3.1"/>
<circle cx="818.8" cy="993.6" r="3.1"/>
<circle cx="816.6" cy="997.1" r="3.1"/>
<circle cx="669.9" cy="1019.2" r="3.1"/>
<circle cx="712.9" cy="936.6" r="3.1"/>
<circle cx="784.2" cy="1019.4" r="3.1"/>
<circle cx="733.1" cy="951.1" r="3.1"/>
<circle cx="683.2" cy="969.6" r="3.1"/>
<circle cx="703.8" cy="1043.5" r="3.1"/>
<circle cx="707.3" cy="1045.8" r="3.1"/>
<circle cx="721.1" cy="1044.9" r="3.1"/>
<circle cx="717.9" cy="1042.1" r="3.1"/>
<circle cx="737.8" cy="924.6" r="3.1"/>
<circle cx="734.5" cy="927.2" r="3.1"/>
<circle cx="747.1" cy="1056.3" r="3.1"/>
<circle cx="666.3" cy="972.5" r="3.1"/>
<circle cx="657.5" cy="960.8" r="3.1"/>
<circle cx="660.8" cy="963.3" r="3.1"/>
<circle cx="729.1" cy="955.4" r="3.1"/>
<circle cx="742.6" cy="1013.1" r="3.1"/>
<circle cx="729.3" cy="999.5" r="3.1"/>
<circle cx="758.1" cy="948.4" r="3.1"/>
<circle cx="782.4" cy="943.9" r="3.1"/>
<circle cx="782.8" cy="948.1" r="3.1"/>
<circle cx="824.2" cy="1029.3" r="3.1"/>
<circle cx="699.4" cy="1009.0" r="3.1"/>
<circle cx="696.1" cy="1011.5" r="3.1"/>
<circle cx="677.0" cy="989.4" r="3.1"/>
<circle cx="779.8" cy="1023.4" r="3.1"/>
<circle cx="784.0" cy="1022.9" r="3.1"/>
<circle cx="749.7" cy="1035.0" r="3.1"/>
<circle cx="656.2" cy="1028.9" r="3.1"/>
<circle cx="697.0" cy="1019.9" r="3.1"/>
<circle cx="665.0" cy="988.5" r="3.1"/>
<circle cx="661.2" cy="986.7" r="3.1"/>
<circle cx="741.0" cy="933.1" r="3.1"/>
<circle cx="745.1" cy="933.7" r="3.1"/>
<circle cx="809.3" cy="1001.5" r="3.1"/>
<circle cx="707.1" cy="953.6" r="3.1"/>
<circle cx="715.7" cy="1053.1" r="3.1"/>
<circle cx="718.1" cy="1056.6" r="3.1"/>
<circle cx="762.5" cy="956.1" r="3.1"/>
<circle cx="758.3" cy="956.2" r="3.1"/>
<circle cx="820.1" cy="959.4" r="3.1"/>
<circle cx="762.5" cy="998.8" r="3.1"/>
<circle cx="734.9" cy="989.3" r="3.1"/>
<circle cx="677.7" cy="1049.6" r="3.1"/>
<circle cx="673.6" cy="1048.4" r="3.1"/>
<circle cx="760.2" cy="1026.9" r="3.1"/>
<circle cx="697.9" cy="1000.0" r="3.1"/>
<circle cx="780.0" cy="1039.4" r="3.1"/>
<circle cx="776.1" cy="1037.8" r="3.1"/>
<circle cx="785.5" cy="993.6" r="3.1"/>
<circle cx="787.9" cy="997.1" r="3.1"/>
<circle cx="704.2" cy="1021.9" r="3.1"/>
<circle cx="702.9" cy="1017.9" r="3.1"/>
<circle cx="662.5" cy="1039.3" r="3.1"/>
<circle cx="746.1" cy="950.1" r="3.1"/>
<circle cx="750.3" cy="950.2" r="3.1"/>
<circle cx="820.6" cy="1002.7" r="3.1"/>
<circle cx="818.7" cy="1006.4" r="3.1"/>
<circle cx="742.2" cy="997.8" r="3.1"/>
<circle cx="738.1" cy="996.7" r="3.1"/>
<circle cx="699.1" cy="933.8" r="3.1"/>
<circle cx="651.3" cy="984.7" r="3.1"/>
<circle cx="733.2" cy="933.8" r="3.1"/>
<circle cx="729.0" cy="933.7" r="3.1"/>
<circle cx="756.2" cy="980.2" r="3.1"/>
<circle cx="815.8" cy="974.7" r="3.1"/>
<circle cx="815.3" cy="970.5" r="3.1"/>
<circle cx="824.8" cy="971.1" r="3.1"/>
<circle cx="668.8" cy="1037.5" r="3.1"/>
<circle cx="764.1" cy="1032.4" r="3.1"/>
<circle cx="768.2" cy="1031.4" r="3.1"/>
<circle cx="693.5" cy="1042.0" r="3.1"/>
<circle cx="707.9" cy="1025.8" r="3.1"/>
<circle cx="692.9" cy="989.0" r="3.1"/>
<circle cx="670.8" cy="1015.7" r="3.1"/>
<circle cx="672.1" cy="1011.7" r="3.1"/>
<circle cx="672.9" cy="1027.2" r="3.1"/>
<circle cx="672.2" cy="1023.0" r="3.1"/>
<circle cx="745.4" cy="994.1" r="3.1"/>
<circle cx="744.7" cy="998.3" r="3.1"/>
<circle cx="827.9" cy="1014.3" r="3.1"/>
<circle cx="671.4" cy="1018.5" r="3.1"/>
<circle cx="715.7" cy="1023.8" r="3.1"/>
<circle cx="711.9" cy="1022.0" r="3.1"/>
<circle cx="661.1" cy="989.5" r="3.1"/>
<circle cx="658.8" cy="986.0" r="3.1"/>
<circle cx="673.4" cy="1035.8" r="3.1"/>
<circle cx="673.1" cy="1040.0" r="3.1"/>
<circle cx="698.9" cy="948.6" r="3.1"/>
<circle cx="655.0" cy="956.5" r="3.1"/>
<circle cx="658.6" cy="958.6" r="3.1"/>
<circle cx="706.9" cy="963.0" r="3.1"/>
<circle cx="711.1" cy="962.3" r="3.1"/>
<circle cx="694.4" cy="992.8" r="3.1"/>
<circle cx="799.6" cy="1001.4" r="3.1"/>
<circle cx="740.5" cy="1051.3" r="3.1"/>
<circle cx="668.4" cy="1034.2" r="3.1"/>
<circle cx="737.7" cy="955.9" r="3.1"/>
<circle cx="741.8" cy="956.5" r="3.1"/>
<circle cx="671.5" cy="973.7" r="3.1"/>
<circle cx="666.8" cy="1012.8" r="3.1"/>
<circle cx="702.6" cy="990.4" r="3.1"/>
<circle cx="698.5" cy="989.3" r="3.1"/>
<circle cx="687.7" cy="1044.1" r="3.1"/>
<circle cx="807.7" cy="1031.3" r="3.1"/>
<circle cx="737.6" cy="1028.0" r="3.1"/>
<circle cx="738.6" cy="1032.1" r="3.1"/>
<circle cx="650.9" cy="995.4" r="3.1"/>
<circle cx="740.5" cy="1004.1" r="3.1"/>
<circle cx="740.7" cy="1018.7" r="3.1"/>
<circle cx="789.6" cy="1017.5" r="3.1"/>
<circle cx="723.0" cy="962.8" r="3.1"/>
<circle cx="702.4" cy="1061.7" r="3.1"/>
<circle cx="648.6" cy="1037.3" r="3.1"/>
<circle cx="633.1" cy="1027.8" r="3.1"/>
<circle cx="634.2" cy="957.7" r="3.1"/>
<circle cx="630.3" cy="959.5" r="3.1"/>
<circle cx="635.8" cy="1020.6" r="3.1"/>
<circle cx="639.9" cy="1021.5" r="3.1"/>
<circle cx="628.7" cy="980.7" r="3.1"/>
<circle cx="647.3" cy="993.3" r="3.1"/>
<circle cx="649.9" cy="996.6" r="3.1"/>
<circle cx="634.1" cy="943.7" r="3.1"/>
<circle cx="637.4" cy="946.4" r="3.1"/>
<circle cx="632.0" cy="1014.0" r="3.1"/>
<circle cx="655.7" cy="945.1" r="3.1"/>
<circle cx="632.8" cy="986.2" r="3.1"/>
<circle cx="646.5" cy="1021.6" r="3.1"/>
<circle cx="628.8" cy="967.6" r="3.1"/>
<circle cx="649.5" cy="964.6" r="3.1"/>
<circle cx="627.8" cy="949.8" r="3.1"/>
<circle cx="645.6" cy="973.8" r="3.1"/>
<circle cx="623.6" cy="953.1" r="3.1"/>
<circle cx="651.0" cy="963.3" r="3.1"/>
<circle cx="647.1" cy="961.9" r="3.1"/>
<circle cx="626.3" cy="955.8" r="3.1"/>
<circle cx="649.7" cy="959.2" r="3.1"/>
<circle cx="653.9" cy="1034.5" r="3.1"/>
<circle cx="640.9" cy="964.2" r="3.1"/>
<circle cx="644.2" cy="966.7" r="3.1"/>
<circle cx="630.2" cy="1012.2" r="3.1"/>
<circle cx="626.8" cy="995.6" r="3.1"/>
<circle cx="636.7" cy="960.1" r="3.1"/>
<circle cx="633.8" cy="957.1" r="3.1"/>
<circle cx="643.7" cy="984.3" r="3.1"/>
<circle cx="642.4" cy="980.3" r="3.1"/>
<circle cx="650.6" cy="956.7" r="3.1"/>
<circle cx="644.7" cy="962.3" r="3.1"/>
<circle cx="651.5" cy="1021.6" r="3.1"/>
<circle cx="633.3" cy="948.7" r="3.1"/>
<circle cx="629.2" cy="947.8" r="3.1"/>
<circle cx="624.8" cy="985.7" r="3.1"/>
<circle cx="624.9" cy="995.0" r="3.1"/>
<circle cx="642.0" cy="1025.1" r="3.1"/>
<circle cx="637.9" cy="1015.1" r="3.1"/>
<circle cx="638.2" cy="1010.1" r="3.1"/>
<circle cx="624.3" cy="954.8" r="3.1"/>
<circle cx="633.4" cy="996.6" r="3.1"/>
<circle cx="626.2" cy="1012.0" r="3.1"/>
<circle cx="629.7" cy="1009.7" r="3.1"/>
<circle cx="652.3" cy="1024.0" r="3.1"/>
<circle cx="644.4" cy="999.3" r="3.1"/>
<circle cx="626.3" cy="998.0" r="3.1"/>
<circle cx="629.0" cy="994.8" r="3.1"/>
<circle cx="631.6" cy="945.5" r="3.1"/>
<circle cx="634.1" cy="948.9" r="3.1"/>
<circle cx="636.4" cy="1000.5" r="3.1"/>
<circle cx="627.0" cy="953.8" r="3.1"/>
<circle cx="629.6" cy="950.5" r="3.1"/>
<circle cx="650.0" cy="981.9" r="3.1"/>
<circle cx="630.8" cy="1000.8" r="3.1"/>
<circle cx="625.8" cy="978.8" r="3.1"/>
<circle cx="639.0" cy="1030.3" r="3.1"/>
<circle cx="646.7" cy="976.4" r="3.1"/>
<circle cx="646.7" cy="980.6" r="3.1"/>
<circle cx="645.0" cy="1013.1" r="3.1"/>
<circle cx="635.3" cy="965.1" r="3.1"/>
<circle cx="638.7" cy="985.7" r="3.1"/>
<circle cx="637.0" cy="981.9" r="3.1"/>
<circle cx="570.7" cy="1008.5" r="3.1"/>
<circle cx="587.0" cy="1007.5" r="3.1"/>
<circle cx="586.4" cy="1003.3" r="3.1"/>
<circle cx="602.7" cy="1002.4" r="3.1"/>
<circle cx="614.9" cy="990.3" r="3.1"/>
<circle cx="618.7" cy="993.1" r="3.1"/>
<circle cx="590.2" cy="1008.2" r="3.1"/>
<circle cx="607.4" cy="996.7" r="3.1"/>
<circle cx="603.2" cy="996.7" r="3.1"/>
<circle cx="601.6" cy="1007.4" r="3.1"/>
<circle cx="599.6" cy="984.5" r="3.1"/>
<circle cx="610.0" cy="992.9" r="3.1"/>
<circle cx="576.8" cy="1019.7" r="3.1"/>
<circle cx="578.6" cy="1006.2" r="3.1"/>
<circle cx="581.6" cy="1009.1" r="3.1"/>
<circle cx="613.9" cy="1014.6" r="3.1"/>
<circle cx="608.2" cy="1004.6" r="3.1"/>
<circle cx="612.2" cy="1006.0" r="3.1"/>
<circle cx="610.0" cy="1014.0" r="3.1"/>
<circle cx="582.2" cy="1004.8" r="3.1"/>
<circle cx="578.9" cy="1010.4" r="3.1"/>
<circle cx="573.3" cy="998.4" r="3.1"/>
<circle cx="572.9" cy="1019.6" r="3.1"/>
<circle cx="568.8" cy="1018.6" r="3.1"/>
<circle cx="576.9" cy="989.8" r="3.1"/>
<circle cx="558.4" cy="1004.2" r="3.1"/>
<circle cx="584.7" cy="1001.0" r="3.1"/>
<circle cx="564.0" cy="1016.1" r="3.1"/>
<circle cx="567.6" cy="1018.2" r="3.1"/>
<circle cx="601.6" cy="1028.9" r="3.1"/>
<circle cx="600.7" cy="1024.8" r="3.1"/>
<circle cx="594.9" cy="1005.9" r="3.1"/>
<circle cx="576.1" cy="1013.4" r="3.1"/>
<circle cx="587.6" cy="987.0" r="3.1"/>
<circle cx="611.2" cy="1013.5" r="3.1"/>
<circle cx="594.9" cy="1028.7" r="3.1"/>
<circle cx="591.0" cy="1015.4" r="3.1"/>
<circle cx="618.6" cy="1010.4" r="3.1"/>
<circle cx="569.9" cy="983.9" r="3.1"/>
<circle cx="563.4" cy="1008.0" r="3.1"/>
<circle cx="600.1" cy="1017.7" r="3.1"/>
<circle cx="598.1" cy="1021.4" r="3.1"/>
<circle cx="602.6" cy="991.5" r="3.1"/>
<circle cx="604.8" cy="987.9" r="3.1"/>
<circle cx="602.7" cy="990.8" r="3.1"/>
<circle cx="573.5" cy="987.7" r="3.1"/>
<circle cx="577.4" cy="986.2" r="3.1"/>
<circle cx="603.2" cy="996.1" r="3.1"/>
<circle cx="598.6" cy="1012.9" r="3.1"/>
<circle cx="574.7" cy="983.0" r="3.1"/>
<circle cx="592.1" cy="1006.2" r="3.1"/>
<circle cx="586.8" cy="1004.4" r="3.1"/>
<circle cx="591.0" cy="1004.1" r="3.1"/>
<circle cx="598.9" cy="1005.4" r="3.1"/>
<circle cx="598.0" cy="1027.0" r="3.1"/>
<circle cx="601.5" cy="1029.4" r="3.1"/>
<circle cx="610.1" cy="996.0" r="3.1"/>
<circle cx="614.1" cy="994.6" r="3.1"/>
<circle cx="581.2" cy="1006.2" r="3.1"/>
<circle cx="612.6" cy="1008.6" r="3.1"/>
<circle cx="610.2" cy="1012.0" r="3.1"/>
<circle cx="759.5" cy="900.7" r="3.1"/>
<circle cx="762.9" cy="903.2" r="3.1"/>
<circle cx="766.6" cy="893.9" r="3.1"/>
<circle cx="764.8" cy="897.6" r="3.1"/>
<circle cx="724.7" cy="875.2" r="3.1"/>
<circle cx="743.8" cy="872.2" r="3.1"/>
<circle cx="739.7" cy="871.4" r="3.1"/>
<circle cx="765.7" cy="902.2" r="3.1"/>
<circle cx="762.8" cy="899.2" r="3.1"/>
<circle cx="754.1" cy="882.3" r="3.1"/>
<circle cx="741.4" cy="882.4" r="3.1"/>
<circle cx="745.4" cy="883.6" r="3.1"/>
<circle cx="731.5" cy="873.2" r="3.1"/>
<circle cx="735.5" cy="871.8" r="3.1"/>
<circle cx="727.6" cy="873.2" r="3.1"/>
<circle cx="715.3" cy="870.1" r="3.1"/>
<circle cx="739.9" cy="881.8" r="3.1"/>
<circle cx="734.1" cy="892.7" r="3.1"/>
<circle cx="753.8" cy="899.8" r="3.1"/>
<circle cx="754.0" cy="904.0" r="3.1"/>
<circle cx="760.8" cy="894.3" r="3.1"/>
<circle cx="728.6" cy="864.8" r="3.1"/>
<circle cx="732.7" cy="864.1" r="3.1"/>
<circle cx="731.3" cy="896.5" r="3.1"/>
<circle cx="727.6" cy="898.5" r="3.1"/>
<circle cx="739.2" cy="879.9" r="3.1"/>
<circle cx="742.2" cy="882.8" r="3.1"/>
<circle cx="722.7" cy="864.3" r="3.1"/>
<circle cx="636.6" cy="897.0" r="3.1"/>
<circle cx="640.2" cy="895.3" r="3.1"/>
<circle cx="632.5" cy="893.6" r="3.1"/>
<circle cx="628.5" cy="899.3" r="3.1"/>
<circle cx="637.1" cy="896.7" r="3.1"/>
<circle cx="635.1" cy="894.9" r="3.1"/>
<circle cx="652.3" cy="823.3" r="3.1"/>
<circle cx="646.7" cy="833.1" r="3.1"/>
<circle cx="644.8" cy="823.3" r="3.1"/>
<circle cx="644.6" cy="831.1" r="3.1"/>
<circle cx="651.6" cy="819.0" r="3.1"/>
<circle cx="652.7" cy="820.3" r="3.1"/>
<circle cx="649.9" cy="820.3" r="3.1"/>
<circle cx="652.8" cy="820.4" r="3.1"/>
<circle cx="640.8" cy="822.0" r="3.1"/>
<circle cx="647.9" cy="810.0" r="3.1"/>
<circle cx="646.3" cy="836.9" r="3.1"/>
<circle cx="651.2" cy="830.6" r="3.1"/>
<circle cx="652.1" cy="821.6" r="3.1"/>
<circle cx="655.6" cy="830.6" r="3.1"/>
<circle cx="637.1" cy="824.0" r="3.1"/>
<circle cx="645.4" cy="819.9" r="3.1"/>
<circle cx="809.9" cy="904.0" r="3.1"/>
<circle cx="814.8" cy="908.0" r="3.1"/>
<circle cx="806.8" cy="911.5" r="3.1"/>
<circle cx="808.8" cy="907.3" r="3.1"/>
<circle cx="810.6" cy="910.8" r="3.1"/>
<circle cx="808.0" cy="909.3" r="3.1"/>
<circle cx="808.7" cy="911.8" r="3.1"/>
<circle cx="809.9" cy="908.4" r="3.1"/>
<circle cx="788.4" cy="954.0" r="3.1"/>
<circle cx="786.2" cy="955.2" r="3.1"/>
<circle cx="793.3" cy="950.1" r="3.1"/>
<circle cx="786.7" cy="950.1" r="3.1"/>
<circle cx="785.5" cy="950.8" r="3.1"/>
<circle cx="811.0" cy="954.0" r="3.1"/>
<circle cx="806.8" cy="955.7" r="3.1"/>
<circle cx="816.0" cy="950.3" r="3.1"/>
<circle cx="810.0" cy="948.1" r="3.1"/>
<circle cx="806.0" cy="956.9" r="3.1"/>
<circle cx="522.0" cy="822.0" r="3.1"/>
<circle cx="511.0" cy="884.0" r="3.1"/>
<circle cx="555.0" cy="1092.0" r="3.1"/>
<circle cx="673.0" cy="1077.0" r="3.1"/>
<circle cx="712.0" cy="1071.0" r="3.1"/>
<circle cx="707.0" cy="1068.0" r="3.1"/>
<circle cx="716.0" cy="1074.0" r="3.1"/>
<circle cx="670.5" cy="1077.0" r="3.1"/>
<circle cx="907.5" cy="931.0" r="3.1"/>
<circle cx="630.0" cy="1048.0" r="3.1"/>
<circle cx="549.0" cy="994.0" r="3.1"/>
<circle cx="552.0" cy="990.0" r="3.1"/>
<circle cx="655.0" cy="908.0" r="3.1"/>
<circle cx="672.0" cy="910.0" r="3.1"/>
<circle cx="615.0" cy="973.2" r="3.1"/>
<circle cx="619.8" cy="981.9" r="3.1"/>
<circle cx="623.2" cy="984.5" r="3.1"/>
<circle cx="599.0" cy="983.2" r="3.1"/>
<circle cx="602.7" cy="981.2" r="3.1"/>
<circle cx="596.0" cy="979.9" r="3.1"/>
<circle cx="623.4" cy="976.8" r="3.1"/>
<circle cx="619.2" cy="977.1" r="3.1"/>
<circle cx="613.9" cy="971.8" r="3.1"/>
<circle cx="614.2" cy="972.0" r="3.1"/>
<circle cx="597.0" cy="964.6" r="3.1"/>
<circle cx="592.5" cy="967.1" r="3.1"/>
<circle cx="601.3" cy="984.8" r="3.1"/>
<circle cx="605.8" cy="974.9" r="3.1"/>
<circle cx="590.0" cy="980.7" r="3.1"/>
<circle cx="594.5" cy="961.3" r="3.1"/>
<circle cx="592.1" cy="964.8" r="3.1"/>
<circle cx="602.8" cy="987.8" r="3.1"/>
<circle cx="598.8" cy="989.3" r="3.1"/>
<circle cx="608.9" cy="971.5" r="3.1"/>
<circle cx="612.0" cy="968.7" r="3.1"/>
<circle cx="611.7" cy="976.2" r="3.1"/>
<circle cx="570.0" cy="857.0" r="3.1"/>
<circle cx="582.0" cy="862.0" r="3.1"/>
<circle cx="590.0" cy="867.0" r="3.1"/>
<circle cx="606.0" cy="859.0" r="3.1"/>
<circle cx="615.0" cy="872.0" r="3.1"/>
<circle cx="596.0" cy="848.0" r="3.1"/>
</g>
</g>
<rect x="290.60" y="707.90" width="674.80" height="438.10" fill="none" stroke="#000" stroke-width="1.6"/>
<rect x="301.4" y="917.4" width="84.6" height="218.8" rx="3.5" fill="#fff" fill-opacity="0.8" stroke="#cccccc" stroke-width="1.3"/>
<circle cx="329.5" cy="935.8" r="5.2" fill="#1f77b4" fill-opacity="0.85"/>
<text x="366.2" y="942.20" font-size="20.6">0</text>
<circle cx="329.5" cy="966.3" r="5.2" fill="#ff7f0e" fill-opacity="0.85"/>
<text x="366.2" y="972.70" font-size="20.6">1</text>
<circle cx="329.5" cy="996.8" r="5.2" fill="#2ca02c" fill-opacity="0.85"/>
<text x="366.2" y="1003.20" font-size="20.6">2</text>
<circle cx="329.5" cy="1027.3" r="5.2" fill="#d62728" fill-opacity="0.85"/>
<text x="366.2" y="1033.70" font-size="20.6">3</text>
<circle cx="329.5" cy="1057.8" r="5.2" fill="#9467bd" fill-opacity="0.85"/>
<text x="366.2" y="1064.20" font-size="20.6">4</text>
<circle cx="329.5" cy="1088.3" r="5.2" fill="#8c564b" fill-opacity="0.85"/>
<text x="366.2" y="1094.70" font-size="20.6">5</text>
<circle cx="329.5" cy="1118.6" r="5.2" fill="#e377c2" fill-opacity="0.85"/>
<text x="366.2" y="1125.00" font-size="20.6">6</text>
<text x="331.8" y="1236.4" style="font-family:'Liberation Serif',serif" font-size="29.6">(b) t-SNE embedding visualisation of case <tspan font-style="italic">A</tspan>.</text>
</svg></body></html>
